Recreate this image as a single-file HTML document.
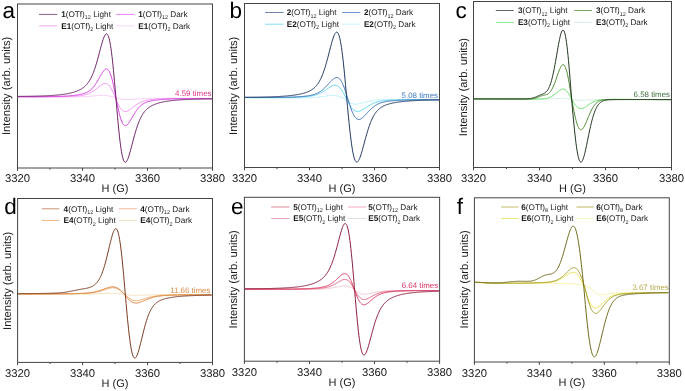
<!DOCTYPE html>
<html><head><meta charset="utf-8"><style>
html,body{margin:0;padding:0;background:#fff;}
svg{display:block;will-change:transform;}
text{font-family:"Liberation Sans", sans-serif;text-rendering:geometricPrecision;}
</style></head><body>
<svg width="685" height="391" viewBox="0 0 685 391">
<rect width="685" height="391" fill="#fff"/>
<clipPath id="clipa"><rect x="17.5" y="4.0" width="195.0" height="164.0"/></clipPath>
<g clip-path="url(#clipa)" fill="none" stroke-linejoin="round">
<path d="M18.00,96.87 L18.50,96.87 L19.00,96.87 L19.50,96.88 L20.00,96.88 L20.50,96.88 L21.00,96.89 L21.50,96.89 L22.00,96.89 L22.50,96.90 L23.00,96.90 L23.50,96.90 L24.00,96.91 L24.50,96.91 L25.00,96.91 L25.50,96.92 L26.00,96.92 L26.50,96.92 L27.00,96.93 L27.50,96.93 L28.00,96.93 L28.50,96.93 L29.00,96.94 L29.50,96.94 L30.00,96.94 L30.50,96.95 L31.00,96.95 L31.50,96.95 L32.00,96.96 L32.50,96.96 L33.00,96.96 L33.50,96.96 L34.00,96.97 L34.50,96.97 L35.00,96.97 L35.50,96.97 L36.00,96.98 L36.50,96.98 L37.00,96.98 L37.50,96.99 L38.00,96.99 L38.50,96.99 L39.00,96.99 L39.50,97.00 L40.00,97.00 L40.50,97.00 L41.00,97.00 L41.50,97.01 L42.00,97.01 L42.50,97.01 L43.00,97.01 L43.50,97.02 L44.00,97.02 L44.50,97.02 L45.00,97.02 L45.50,97.02 L46.00,97.03 L46.50,97.03 L47.00,97.03 L47.50,97.03 L48.00,97.03 L48.50,97.04 L49.00,97.04 L49.50,97.04 L50.00,97.04 L50.50,97.04 L51.00,97.04 L51.50,97.05 L52.00,97.05 L52.50,97.05 L53.00,97.05 L53.50,97.05 L54.00,97.05 L54.50,97.05 L55.00,97.05 L55.50,97.05 L56.00,97.06 L56.50,97.06 L57.00,97.06 L57.50,97.06 L58.00,97.06 L58.50,97.06 L59.00,97.06 L59.50,97.06 L60.00,97.06 L60.50,97.06 L61.00,97.06 L61.50,97.06 L62.00,97.06 L62.50,97.06 L63.00,97.06 L63.50,97.06 L64.00,97.05 L64.50,97.05 L65.00,97.05 L65.50,97.05 L66.00,97.05 L66.50,97.05 L67.00,97.04 L67.50,97.04 L68.00,97.04 L68.50,97.04 L69.00,97.03 L69.50,97.03 L70.00,97.03 L70.50,97.02 L71.00,97.02 L71.50,97.01 L72.00,97.01 L72.50,97.00 L73.00,97.00 L73.50,96.99 L74.00,96.99 L74.50,96.98 L75.00,96.97 L75.50,96.96 L76.00,96.95 L76.50,96.94 L77.00,96.93 L77.50,96.92 L78.00,96.91 L78.50,96.90 L79.00,96.88 L79.50,96.87 L80.00,96.86 L80.50,96.84 L81.00,96.82 L81.50,96.80 L82.00,96.78 L82.50,96.76 L83.00,96.74 L83.50,96.72 L84.00,96.70 L84.50,96.67 L85.00,96.64 L85.50,96.61 L86.00,96.58 L86.50,96.55 L87.00,96.52 L87.50,96.49 L88.00,96.45 L88.50,96.41 L89.00,96.38 L89.50,96.34 L90.00,96.30 L90.50,96.25 L91.00,96.21 L91.50,96.17 L92.00,96.12 L92.50,96.08 L93.00,96.03 L93.50,95.98 L94.00,95.93 L94.50,95.89 L95.00,95.84 L95.50,95.79 L96.00,95.75 L96.50,95.70 L97.00,95.66 L97.50,95.61 L98.00,95.57 L98.50,95.53 L99.00,95.50 L99.50,95.47 L100.00,95.44 L100.50,95.41 L101.00,95.39 L101.50,95.37 L102.00,95.36 L102.50,95.36 L103.00,95.36 L103.50,95.36 L104.00,95.38 L104.50,95.40 L105.00,95.43 L105.50,95.47 L106.00,95.51 L106.50,95.56 L107.00,95.63 L107.50,95.70 L108.00,95.78 L108.50,95.87 L109.00,95.96 L109.50,96.07 L110.00,96.18 L110.50,96.31 L111.00,96.43 L111.50,96.57 L112.00,96.71 L112.50,96.86 L113.00,97.01 L113.50,97.17 L114.00,97.33 L114.50,97.49 L115.00,97.65 L115.50,97.78 L116.00,97.92 L116.50,98.05 L117.00,98.17 L117.50,98.30 L118.00,98.42 L118.50,98.54 L119.00,98.65 L119.50,98.76 L120.00,98.86 L120.50,98.95 L121.00,99.04 L121.50,99.12 L122.00,99.19 L122.50,99.26 L123.00,99.32 L123.50,99.37 L124.00,99.41 L124.50,99.45 L125.00,99.48 L125.50,99.51 L126.00,99.52 L126.50,99.54 L127.00,99.54 L127.50,99.54 L128.00,99.54 L128.50,99.53 L129.00,99.52 L129.50,99.50 L130.00,99.48 L130.50,99.46 L131.00,99.43 L131.50,99.40 L132.00,99.37 L132.50,99.34 L133.00,99.31 L133.50,99.27 L134.00,99.23 L134.50,99.20 L135.00,99.16 L135.50,99.12 L136.00,99.08 L136.50,99.05 L137.00,99.01 L137.50,98.97 L138.00,98.93 L138.50,98.90 L139.00,98.86 L139.50,98.83 L140.00,98.79 L140.50,98.76 L141.00,98.73 L141.50,98.70 L142.00,98.67 L142.50,98.64 L143.00,98.61 L143.50,98.59 L144.00,98.56 L144.50,98.54 L145.00,98.52 L145.50,98.49 L146.00,98.47 L146.50,98.46 L147.00,98.44 L147.50,98.42 L148.00,98.40 L148.50,98.39 L149.00,98.37 L149.50,98.36 L150.00,98.35 L150.50,98.34 L151.00,98.33 L151.50,98.32 L152.00,98.31 L152.50,98.30 L153.00,98.29 L153.50,98.28 L154.00,98.27 L154.50,98.27 L155.00,98.26 L155.50,98.26 L156.00,98.25 L156.50,98.25 L157.00,98.24 L157.50,98.24 L158.00,98.23 L158.50,98.23 L159.00,98.23 L159.50,98.23 L160.00,98.22 L160.50,98.22 L161.00,98.22 L161.50,98.22 L162.00,98.21 L162.50,98.21 L163.00,98.21 L163.50,98.21 L164.00,98.21 L164.50,98.21 L165.00,98.21 L165.50,98.21 L166.00,98.21 L166.50,98.21 L167.00,98.21 L167.50,98.21 L168.00,98.21 L168.50,98.21 L169.00,98.21 L169.50,98.21 L170.00,98.21 L170.50,98.21 L171.00,98.21 L171.50,98.21 L172.00,98.21 L172.50,98.22 L173.00,98.22 L173.50,98.22 L174.00,98.22 L174.50,98.22 L175.00,98.22 L175.50,98.22 L176.00,98.22 L176.50,98.23 L177.00,98.23 L177.50,98.23 L178.00,98.23 L178.50,98.23 L179.00,98.24 L179.50,98.24 L180.00,98.24 L180.50,98.24 L181.00,98.24 L181.50,98.25 L182.00,98.25 L182.50,98.25 L183.00,98.25 L183.50,98.25 L184.00,98.26 L184.50,98.26 L185.00,98.26 L185.50,98.26 L186.00,98.27 L186.50,98.27 L187.00,98.27 L187.50,98.27 L188.00,98.28 L188.50,98.28 L189.00,98.28 L189.50,98.29 L190.00,98.29 L190.50,98.29 L191.00,98.29 L191.50,98.30 L192.00,98.30 L192.50,98.30 L193.00,98.30 L193.50,98.31 L194.00,98.31 L194.50,98.31 L195.00,98.32 L195.50,98.32 L196.00,98.32 L196.50,98.33 L197.00,98.33 L197.50,98.33 L198.00,98.33 L198.50,98.34 L199.00,98.34 L199.50,98.34 L200.00,98.35 L200.50,98.35 L201.00,98.35 L201.50,98.36 L202.00,98.36 L202.50,98.36 L203.00,98.37 L203.50,98.37 L204.00,98.37 L204.50,98.38 L205.00,98.38 L205.50,98.38 L206.00,98.39 L206.50,98.39 L207.00,98.39 L207.50,98.40 L208.00,98.40 L208.50,98.40 L209.00,98.41 L209.50,98.41 L210.00,98.41 L210.50,98.42 L211.00,98.42 L211.50,98.42 L212.00,98.43" stroke="#f7c6f8" stroke-width="1"/>
<path d="M18.00,96.79 L18.50,96.79 L19.00,96.79 L19.50,96.79 L20.00,96.80 L20.50,96.80 L21.00,96.80 L21.50,96.80 L22.00,96.80 L22.50,96.81 L23.00,96.81 L23.50,96.81 L24.00,96.81 L24.50,96.81 L25.00,96.81 L25.50,96.82 L26.00,96.82 L26.50,96.82 L27.00,96.82 L27.50,96.82 L28.00,96.82 L28.50,96.82 L29.00,96.83 L29.50,96.83 L30.00,96.83 L30.50,96.83 L31.00,96.83 L31.50,96.83 L32.00,96.83 L32.50,96.83 L33.00,96.83 L33.50,96.83 L34.00,96.83 L34.50,96.83 L35.00,96.83 L35.50,96.83 L36.00,96.83 L36.50,96.83 L37.00,96.83 L37.50,96.83 L38.00,96.83 L38.50,96.83 L39.00,96.83 L39.50,96.83 L40.00,96.83 L40.50,96.83 L41.00,96.83 L41.50,96.83 L42.00,96.83 L42.50,96.83 L43.00,96.83 L43.50,96.83 L44.00,96.82 L44.50,96.82 L45.00,96.82 L45.50,96.82 L46.00,96.82 L46.50,96.81 L47.00,96.81 L47.50,96.81 L48.00,96.81 L48.50,96.80 L49.00,96.80 L49.50,96.80 L50.00,96.79 L50.50,96.79 L51.00,96.79 L51.50,96.78 L52.00,96.78 L52.50,96.77 L53.00,96.77 L53.50,96.76 L54.00,96.76 L54.50,96.75 L55.00,96.75 L55.50,96.74 L56.00,96.73 L56.50,96.73 L57.00,96.72 L57.50,96.71 L58.00,96.70 L58.50,96.70 L59.00,96.69 L59.50,96.68 L60.00,96.67 L60.50,96.66 L61.00,96.65 L61.50,96.64 L62.00,96.63 L62.50,96.62 L63.00,96.61 L63.50,96.59 L64.00,96.58 L64.50,96.57 L65.00,96.55 L65.50,96.54 L66.00,96.52 L66.50,96.51 L67.00,96.49 L67.50,96.47 L68.00,96.45 L68.50,96.43 L69.00,96.41 L69.50,96.39 L70.00,96.37 L70.50,96.35 L71.00,96.33 L71.50,96.30 L72.00,96.28 L72.50,96.25 L73.00,96.22 L73.50,96.19 L74.00,96.16 L74.50,96.13 L75.00,96.09 L75.50,96.06 L76.00,96.02 L76.50,95.98 L77.00,95.93 L77.50,95.89 L78.00,95.84 L78.50,95.79 L79.00,95.74 L79.50,95.68 L80.00,95.62 L80.50,95.56 L81.00,95.49 L81.50,95.42 L82.00,95.34 L82.50,95.25 L83.00,95.17 L83.50,95.07 L84.00,94.97 L84.50,94.86 L85.00,94.74 L85.50,94.61 L86.00,94.48 L86.50,94.33 L87.00,94.18 L87.50,94.01 L88.00,93.83 L88.50,93.64 L89.00,93.44 L89.50,93.23 L90.00,93.00 L90.50,92.76 L91.00,92.50 L91.50,92.23 L92.00,91.94 L92.50,91.64 L93.00,91.32 L93.50,90.99 L94.00,90.65 L94.50,90.29 L95.00,89.92 L95.50,89.54 L96.00,89.15 L96.50,88.75 L97.00,88.34 L97.50,87.93 L98.00,87.51 L98.50,87.10 L99.00,86.69 L99.50,86.28 L100.00,85.89 L100.50,85.50 L101.00,85.14 L101.50,84.79 L102.00,84.48 L102.50,84.19 L103.00,83.94 L103.50,83.73 L104.00,83.56 L104.50,83.45 L105.00,83.38 L105.50,83.38 L106.00,83.44 L106.50,83.57 L107.00,83.77 L107.50,84.05 L108.00,84.41 L108.50,84.84 L109.00,85.35 L109.50,85.95 L110.00,86.63 L110.50,87.38 L111.00,88.21 L111.50,89.12 L112.00,90.09 L112.50,91.12 L113.00,92.21 L113.50,93.34 L114.00,94.51 L114.50,95.71 L115.00,96.92 L115.50,98.13 L116.00,99.32 L116.50,100.50 L117.00,101.65 L117.50,102.76 L118.00,103.84 L118.50,104.86 L119.00,105.82 L119.50,106.72 L120.00,107.55 L120.50,108.30 L121.00,108.98 L121.50,109.58 L122.00,110.10 L122.50,110.54 L123.00,110.90 L123.50,111.19 L124.00,111.40 L124.50,111.54 L125.00,111.62 L125.50,111.63 L126.00,111.58 L126.50,111.47 L127.00,111.32 L127.50,111.12 L128.00,110.88 L128.50,110.61 L129.00,110.30 L129.50,109.97 L130.00,109.62 L130.50,109.25 L131.00,108.86 L131.50,108.47 L132.00,108.07 L132.50,107.66 L133.00,107.26 L133.50,106.85 L134.00,106.45 L134.50,106.06 L135.00,105.67 L135.50,105.30 L136.00,104.93 L136.50,104.58 L137.00,104.24 L137.50,103.91 L138.00,103.60 L138.50,103.30 L139.00,103.02 L139.50,102.75 L140.00,102.50 L140.50,102.26 L141.00,102.03 L141.50,101.82 L142.00,101.62 L142.50,101.43 L143.00,101.25 L143.50,101.09 L144.00,100.94 L144.50,100.79 L145.00,100.66 L145.50,100.53 L146.00,100.42 L146.50,100.31 L147.00,100.21 L147.50,100.11 L148.00,100.02 L148.50,99.94 L149.00,99.86 L149.50,99.79 L150.00,99.72 L150.50,99.66 L151.00,99.60 L151.50,99.54 L152.00,99.49 L152.50,99.44 L153.00,99.39 L153.50,99.35 L154.00,99.31 L154.50,99.27 L155.00,99.23 L155.50,99.19 L156.00,99.16 L156.50,99.13 L157.00,99.10 L157.50,99.07 L158.00,99.04 L158.50,99.01 L159.00,98.99 L159.50,98.96 L160.00,98.94 L160.50,98.92 L161.00,98.90 L161.50,98.88 L162.00,98.86 L162.50,98.84 L163.00,98.82 L163.50,98.80 L164.00,98.79 L164.50,98.77 L165.00,98.76 L165.50,98.74 L166.00,98.73 L166.50,98.71 L167.00,98.70 L167.50,98.69 L168.00,98.68 L168.50,98.67 L169.00,98.65 L169.50,98.64 L170.00,98.63 L170.50,98.62 L171.00,98.62 L171.50,98.61 L172.00,98.60 L172.50,98.59 L173.00,98.58 L173.50,98.58 L174.00,98.57 L174.50,98.56 L175.00,98.56 L175.50,98.55 L176.00,98.54 L176.50,98.54 L177.00,98.53 L177.50,98.53 L178.00,98.52 L178.50,98.52 L179.00,98.52 L179.50,98.51 L180.00,98.51 L180.50,98.50 L181.00,98.50 L181.50,98.50 L182.00,98.49 L182.50,98.49 L183.00,98.49 L183.50,98.49 L184.00,98.48 L184.50,98.48 L185.00,98.48 L185.50,98.48 L186.00,98.48 L186.50,98.47 L187.00,98.47 L187.50,98.47 L188.00,98.47 L188.50,98.47 L189.00,98.47 L189.50,98.47 L190.00,98.47 L190.50,98.47 L191.00,98.47 L191.50,98.47 L192.00,98.47 L192.50,98.47 L193.00,98.47 L193.50,98.47 L194.00,98.47 L194.50,98.47 L195.00,98.47 L195.50,98.47 L196.00,98.47 L196.50,98.47 L197.00,98.47 L197.50,98.47 L198.00,98.47 L198.50,98.47 L199.00,98.47 L199.50,98.47 L200.00,98.47 L200.50,98.47 L201.00,98.47 L201.50,98.48 L202.00,98.48 L202.50,98.48 L203.00,98.48 L203.50,98.48 L204.00,98.48 L204.50,98.48 L205.00,98.49 L205.50,98.49 L206.00,98.49 L206.50,98.49 L207.00,98.49 L207.50,98.49 L208.00,98.50 L208.50,98.50 L209.00,98.50 L209.50,98.50 L210.00,98.50 L210.50,98.51 L211.00,98.51 L211.50,98.51 L212.00,98.51" stroke="#f28cf4" stroke-width="1"/>
<path d="M18.00,96.71 L18.50,96.71 L19.00,96.71 L19.50,96.71 L20.00,96.71 L20.50,96.72 L21.00,96.72 L21.50,96.72 L22.00,96.72 L22.50,96.72 L23.00,96.72 L23.50,96.72 L24.00,96.72 L24.50,96.72 L25.00,96.72 L25.50,96.72 L26.00,96.72 L26.50,96.72 L27.00,96.72 L27.50,96.72 L28.00,96.72 L28.50,96.72 L29.00,96.72 L29.50,96.72 L30.00,96.72 L30.50,96.71 L31.00,96.71 L31.50,96.71 L32.00,96.71 L32.50,96.71 L33.00,96.71 L33.50,96.71 L34.00,96.71 L34.50,96.70 L35.00,96.70 L35.50,96.70 L36.00,96.70 L36.50,96.70 L37.00,96.69 L37.50,96.69 L38.00,96.69 L38.50,96.68 L39.00,96.68 L39.50,96.68 L40.00,96.67 L40.50,96.67 L41.00,96.67 L41.50,96.66 L42.00,96.66 L42.50,96.65 L43.00,96.65 L43.50,96.64 L44.00,96.64 L44.50,96.63 L45.00,96.63 L45.50,96.62 L46.00,96.62 L46.50,96.61 L47.00,96.60 L47.50,96.60 L48.00,96.59 L48.50,96.58 L49.00,96.57 L49.50,96.57 L50.00,96.56 L50.50,96.55 L51.00,96.54 L51.50,96.53 L52.00,96.52 L52.50,96.51 L53.00,96.50 L53.50,96.49 L54.00,96.48 L54.50,96.47 L55.00,96.45 L55.50,96.44 L56.00,96.43 L56.50,96.41 L57.00,96.40 L57.50,96.38 L58.00,96.37 L58.50,96.35 L59.00,96.33 L59.50,96.32 L60.00,96.30 L60.50,96.28 L61.00,96.26 L61.50,96.24 L62.00,96.22 L62.50,96.20 L63.00,96.18 L63.50,96.15 L64.00,96.13 L64.50,96.10 L65.00,96.08 L65.50,96.05 L66.00,96.02 L66.50,95.99 L67.00,95.96 L67.50,95.93 L68.00,95.89 L68.50,95.86 L69.00,95.82 L69.50,95.79 L70.00,95.75 L70.50,95.71 L71.00,95.66 L71.50,95.62 L72.00,95.58 L72.50,95.53 L73.00,95.48 L73.50,95.43 L74.00,95.37 L74.50,95.32 L75.00,95.26 L75.50,95.20 L76.00,95.13 L76.50,95.06 L77.00,94.99 L77.50,94.92 L78.00,94.84 L78.50,94.76 L79.00,94.67 L79.50,94.58 L80.00,94.48 L80.50,94.38 L81.00,94.27 L81.50,94.16 L82.00,94.04 L82.50,93.91 L83.00,93.77 L83.50,93.62 L84.00,93.46 L84.50,93.29 L85.00,93.11 L85.50,92.91 L86.00,92.70 L86.50,92.48 L87.00,92.24 L87.50,91.98 L88.00,91.70 L88.50,91.40 L89.00,91.07 L89.50,90.73 L90.00,90.35 L90.50,89.95 L91.00,89.53 L91.50,89.07 L92.00,88.58 L92.50,88.06 L93.00,87.51 L93.50,86.92 L94.00,86.30 L94.50,85.65 L95.00,84.96 L95.50,84.24 L96.00,83.49 L96.50,82.71 L97.00,81.90 L97.50,81.07 L98.00,80.21 L98.50,79.34 L99.00,78.45 L99.50,77.55 L100.00,76.66 L100.50,75.77 L101.00,74.89 L101.50,74.03 L102.00,73.21 L102.50,72.42 L103.00,71.68 L103.50,71.01 L104.00,70.40 L104.50,69.89 L105.00,69.46 L105.50,69.15 L106.00,68.95 L106.50,68.88 L107.00,68.96 L107.50,69.19 L108.00,69.58 L108.50,70.14 L109.00,70.88 L109.50,71.80 L110.00,72.91 L110.50,74.20 L111.00,75.67 L111.50,77.33 L112.00,79.15 L112.50,81.14 L113.00,83.28 L113.50,85.55 L114.00,87.94 L114.50,90.42 L115.00,92.97 L115.50,95.56 L116.00,98.17 L116.50,100.71 L117.00,103.21 L117.50,105.67 L118.00,108.05 L118.50,110.32 L119.00,112.48 L119.50,114.50 L120.00,116.38 L120.50,118.09 L121.00,119.63 L121.50,120.99 L122.00,122.17 L122.50,123.17 L123.00,124.00 L123.50,124.64 L124.00,125.12 L124.50,125.44 L125.00,125.60 L125.50,125.62 L126.00,125.50 L126.50,125.27 L127.00,124.92 L127.50,124.47 L128.00,123.93 L128.50,123.31 L129.00,122.63 L129.50,121.89 L130.00,121.11 L130.50,120.30 L131.00,119.45 L131.50,118.59 L132.00,117.73 L132.50,116.85 L133.00,115.99 L133.50,115.13 L134.00,114.29 L134.50,113.46 L135.00,112.66 L135.50,111.88 L136.00,111.13 L136.50,110.42 L137.00,109.73 L137.50,109.07 L138.00,108.45 L138.50,107.86 L139.00,107.31 L139.50,106.78 L140.00,106.29 L140.50,105.83 L141.00,105.40 L141.50,104.99 L142.00,104.61 L142.50,104.26 L143.00,103.93 L143.50,103.63 L144.00,103.34 L144.50,103.08 L145.00,102.84 L145.50,102.61 L146.00,102.39 L146.50,102.20 L147.00,102.01 L147.50,101.84 L148.00,101.68 L148.50,101.53 L149.00,101.39 L149.50,101.26 L150.00,101.14 L150.50,101.02 L151.00,100.91 L151.50,100.81 L152.00,100.71 L152.50,100.62 L153.00,100.53 L153.50,100.45 L154.00,100.37 L154.50,100.30 L155.00,100.23 L155.50,100.16 L156.00,100.10 L156.50,100.03 L157.00,99.98 L157.50,99.92 L158.00,99.87 L158.50,99.81 L159.00,99.76 L159.50,99.72 L160.00,99.67 L160.50,99.63 L161.00,99.59 L161.50,99.55 L162.00,99.51 L162.50,99.47 L163.00,99.44 L163.50,99.40 L164.00,99.37 L164.50,99.34 L165.00,99.31 L165.50,99.28 L166.00,99.25 L166.50,99.22 L167.00,99.20 L167.50,99.17 L168.00,99.15 L168.50,99.12 L169.00,99.10 L169.50,99.08 L170.00,99.06 L170.50,99.04 L171.00,99.02 L171.50,99.00 L172.00,98.98 L172.50,98.96 L173.00,98.95 L173.50,98.93 L174.00,98.92 L174.50,98.90 L175.00,98.89 L175.50,98.87 L176.00,98.86 L176.50,98.85 L177.00,98.84 L177.50,98.82 L178.00,98.81 L178.50,98.80 L179.00,98.79 L179.50,98.78 L180.00,98.77 L180.50,98.76 L181.00,98.75 L181.50,98.74 L182.00,98.74 L182.50,98.73 L183.00,98.72 L183.50,98.71 L184.00,98.71 L184.50,98.70 L185.00,98.69 L185.50,98.69 L186.00,98.68 L186.50,98.67 L187.00,98.67 L187.50,98.66 L188.00,98.66 L188.50,98.65 L189.00,98.65 L189.50,98.65 L190.00,98.64 L190.50,98.64 L191.00,98.63 L191.50,98.63 L192.00,98.63 L192.50,98.62 L193.00,98.62 L193.50,98.62 L194.00,98.62 L194.50,98.61 L195.00,98.61 L195.50,98.61 L196.00,98.61 L196.50,98.60 L197.00,98.60 L197.50,98.60 L198.00,98.60 L198.50,98.60 L199.00,98.60 L199.50,98.59 L200.00,98.59 L200.50,98.59 L201.00,98.59 L201.50,98.59 L202.00,98.59 L202.50,98.59 L203.00,98.59 L203.50,98.59 L204.00,98.59 L204.50,98.59 L205.00,98.59 L205.50,98.59 L206.00,98.59 L206.50,98.59 L207.00,98.59 L207.50,98.59 L208.00,98.59 L208.50,98.59 L209.00,98.59 L209.50,98.59 L210.00,98.59 L210.50,98.59 L211.00,98.59 L211.50,98.59 L212.00,98.59" stroke="#d23fdc" stroke-width="1"/>
<path d="M18.00,96.39 L18.50,96.39 L19.00,96.38 L19.50,96.38 L20.00,96.37 L20.50,96.37 L21.00,96.37 L21.50,96.36 L22.00,96.36 L22.50,96.35 L23.00,96.35 L23.50,96.34 L24.00,96.33 L24.50,96.33 L25.00,96.32 L25.50,96.32 L26.00,96.31 L26.50,96.30 L27.00,96.30 L27.50,96.29 L28.00,96.28 L28.50,96.27 L29.00,96.26 L29.50,96.26 L30.00,96.25 L30.50,96.24 L31.00,96.23 L31.50,96.22 L32.00,96.21 L32.50,96.20 L33.00,96.19 L33.50,96.18 L34.00,96.17 L34.50,96.16 L35.00,96.15 L35.50,96.14 L36.00,96.12 L36.50,96.11 L37.00,96.10 L37.50,96.08 L38.00,96.07 L38.50,96.06 L39.00,96.04 L39.50,96.03 L40.00,96.01 L40.50,95.99 L41.00,95.98 L41.50,95.96 L42.00,95.94 L42.50,95.92 L43.00,95.90 L43.50,95.89 L44.00,95.87 L44.50,95.84 L45.00,95.82 L45.50,95.80 L46.00,95.78 L46.50,95.76 L47.00,95.73 L47.50,95.71 L48.00,95.68 L48.50,95.66 L49.00,95.63 L49.50,95.60 L50.00,95.57 L50.50,95.54 L51.00,95.51 L51.50,95.48 L52.00,95.45 L52.50,95.41 L53.00,95.38 L53.50,95.34 L54.00,95.30 L54.50,95.27 L55.00,95.23 L55.50,95.19 L56.00,95.14 L56.50,95.10 L57.00,95.06 L57.50,95.01 L58.00,94.96 L58.50,94.91 L59.00,94.86 L59.50,94.81 L60.00,94.75 L60.50,94.70 L61.00,94.64 L61.50,94.58 L62.00,94.51 L62.50,94.45 L63.00,94.38 L63.50,94.31 L64.00,94.24 L64.50,94.17 L65.00,94.09 L65.50,94.01 L66.00,93.93 L66.50,93.84 L67.00,93.75 L67.50,93.66 L68.00,93.57 L68.50,93.47 L69.00,93.37 L69.50,93.26 L70.00,93.15 L70.50,93.04 L71.00,92.92 L71.50,92.80 L72.00,92.67 L72.50,92.54 L73.00,92.40 L73.50,92.25 L74.00,92.11 L74.50,91.95 L75.00,91.79 L75.50,91.62 L76.00,91.44 L76.50,91.26 L77.00,91.07 L77.50,90.87 L78.00,90.66 L78.50,90.44 L79.00,90.20 L79.50,89.96 L80.00,89.71 L80.50,89.44 L81.00,89.16 L81.50,88.86 L82.00,88.55 L82.50,88.22 L83.00,87.86 L83.50,87.49 L84.00,87.10 L84.50,86.68 L85.00,86.23 L85.50,85.76 L86.00,85.26 L86.50,84.72 L87.00,84.14 L87.50,83.53 L88.00,82.88 L88.50,82.19 L89.00,81.44 L89.50,80.65 L90.00,79.81 L90.50,78.91 L91.00,77.96 L91.50,76.94 L92.00,75.87 L92.50,74.73 L93.00,73.52 L93.50,72.24 L94.00,70.90 L94.50,69.49 L95.00,68.02 L95.50,66.47 L96.00,64.87 L96.50,63.20 L97.00,61.48 L97.50,59.70 L98.00,57.88 L98.50,56.03 L99.00,54.15 L99.50,52.25 L100.00,50.36 L100.50,48.47 L101.00,46.61 L101.50,44.79 L102.00,43.03 L102.50,41.36 L103.00,39.79 L103.50,38.35 L104.00,37.06 L104.50,35.95 L105.00,35.04 L105.50,34.36 L106.00,33.93 L106.50,33.78 L107.00,33.95 L107.50,34.44 L108.00,35.28 L108.50,36.50 L109.00,38.11 L109.50,40.13 L110.00,42.55 L110.50,45.39 L111.00,48.65 L111.50,52.31 L112.00,56.36 L112.50,60.77 L113.00,65.53 L113.50,70.60 L114.00,75.92 L114.50,81.46 L115.00,87.16 L115.50,92.97 L116.00,98.84 L116.50,104.76 L117.00,110.61 L117.50,116.32 L118.00,121.85 L118.50,127.14 L119.00,132.15 L119.50,136.83 L120.00,141.16 L120.50,145.11 L121.00,148.65 L121.50,151.78 L122.00,154.49 L122.50,156.77 L123.00,158.65 L123.50,160.12 L124.00,161.20 L124.50,161.91 L125.00,162.27 L125.50,162.31 L126.00,162.04 L126.50,161.50 L127.00,160.72 L127.50,159.71 L128.00,158.51 L128.50,157.14 L129.00,155.62 L129.50,153.99 L130.00,152.26 L130.50,150.46 L131.00,148.60 L131.50,146.70 L132.00,144.78 L132.50,142.86 L133.00,140.94 L133.50,139.05 L134.00,137.19 L134.50,135.36 L135.00,133.59 L135.50,131.86 L136.00,130.20 L136.50,128.60 L137.00,127.06 L137.50,125.59 L138.00,124.19 L138.50,122.86 L139.00,121.60 L139.50,120.40 L140.00,119.27 L140.50,118.21 L141.00,117.21 L141.50,116.26 L142.00,115.38 L142.50,114.54 L143.00,113.76 L143.50,113.03 L144.00,112.35 L144.50,111.70 L145.00,111.10 L145.50,110.53 L146.00,110.00 L146.50,109.51 L147.00,109.04 L147.50,108.60 L148.00,108.18 L148.50,107.79 L149.00,107.42 L149.50,107.08 L150.00,106.75 L150.50,106.44 L151.00,106.14 L151.50,105.86 L152.00,105.60 L152.50,105.34 L153.00,105.10 L153.50,104.87 L154.00,104.66 L154.50,104.45 L155.00,104.25 L155.50,104.06 L156.00,103.87 L156.50,103.70 L157.00,103.53 L157.50,103.37 L158.00,103.21 L158.50,103.06 L159.00,102.92 L159.50,102.78 L160.00,102.65 L160.50,102.52 L161.00,102.40 L161.50,102.28 L162.00,102.17 L162.50,102.06 L163.00,101.95 L163.50,101.85 L164.00,101.75 L164.50,101.66 L165.00,101.57 L165.50,101.48 L166.00,101.39 L166.50,101.31 L167.00,101.23 L167.50,101.15 L168.00,101.08 L168.50,101.01 L169.00,100.94 L169.50,100.87 L170.00,100.81 L170.50,100.75 L171.00,100.69 L171.50,100.63 L172.00,100.57 L172.50,100.52 L173.00,100.46 L173.50,100.41 L174.00,100.36 L174.50,100.31 L175.00,100.27 L175.50,100.22 L176.00,100.18 L176.50,100.14 L177.00,100.10 L177.50,100.06 L178.00,100.02 L178.50,99.98 L179.00,99.94 L179.50,99.91 L180.00,99.88 L180.50,99.84 L181.00,99.81 L181.50,99.78 L182.00,99.75 L182.50,99.72 L183.00,99.69 L183.50,99.67 L184.00,99.64 L184.50,99.61 L185.00,99.59 L185.50,99.57 L186.00,99.54 L186.50,99.52 L187.00,99.50 L187.50,99.48 L188.00,99.46 L188.50,99.44 L189.00,99.42 L189.50,99.40 L190.00,99.38 L190.50,99.36 L191.00,99.34 L191.50,99.33 L192.00,99.31 L192.50,99.30 L193.00,99.28 L193.50,99.27 L194.00,99.25 L194.50,99.24 L195.00,99.22 L195.50,99.21 L196.00,99.20 L196.50,99.19 L197.00,99.17 L197.50,99.16 L198.00,99.15 L198.50,99.14 L199.00,99.13 L199.50,99.12 L200.00,99.11 L200.50,99.10 L201.00,99.09 L201.50,99.08 L202.00,99.07 L202.50,99.06 L203.00,99.05 L203.50,99.05 L204.00,99.04 L204.50,99.03 L205.00,99.02 L205.50,99.02 L206.00,99.01 L206.50,99.00 L207.00,99.00 L207.50,98.99 L208.00,98.99 L208.50,98.98 L209.00,98.97 L209.50,98.97 L210.00,98.96 L210.50,98.96 L211.00,98.95 L211.50,98.95 L212.00,98.94" stroke="#6e2367" stroke-width="1"/>
</g>
<rect x="17.5" y="4.0" width="195.0" height="164.0" fill="none" stroke="#444" stroke-width="1"/>
<line x1="17.50" y1="168.0" x2="17.50" y2="170.8" stroke="#444" stroke-width="1"/>
<line x1="50.00" y1="168.0" x2="50.00" y2="169.6" stroke="#444" stroke-width="1"/>
<line x1="82.50" y1="168.0" x2="82.50" y2="170.8" stroke="#444" stroke-width="1"/>
<line x1="115.00" y1="168.0" x2="115.00" y2="169.6" stroke="#444" stroke-width="1"/>
<line x1="147.50" y1="168.0" x2="147.50" y2="170.8" stroke="#444" stroke-width="1"/>
<line x1="180.00" y1="168.0" x2="180.00" y2="169.6" stroke="#444" stroke-width="1"/>
<line x1="212.50" y1="168.0" x2="212.50" y2="170.8" stroke="#444" stroke-width="1"/>
<text x="17.50" y="182.3" font-size="11.3" text-anchor="middle" fill="#1a1a1a">3320</text>
<text x="82.50" y="182.3" font-size="11.3" text-anchor="middle" fill="#1a1a1a">3340</text>
<text x="147.50" y="182.3" font-size="11.3" text-anchor="middle" fill="#1a1a1a">3360</text>
<text x="212.50" y="182.3" font-size="11.3" text-anchor="middle" fill="#1a1a1a">3380</text>
<text x="115.00" y="192.0" font-size="11" text-anchor="middle" fill="#1a1a1a">H (G)</text>
<text transform="translate(9.70,135.00) rotate(-90)" font-size="11.2" fill="#1a1a1a">Intensity (arb. units)</text>
<text x="2.6" y="18.0" font-size="22.5" fill="#000">a</text>
<line x1="39" y1="14.4" x2="57.4" y2="14.4" stroke="#6e2367" stroke-width="1" stroke-opacity="0.75"/>
<text x="61.2" y="17.20" font-size="8.2" fill="#1a1a1a"><tspan font-weight="bold">1</tspan>(OTf)<tspan font-size="5.41" dy="2.2">12</tspan><tspan dy="-2.2"> Light</tspan></text>
<line x1="116.1" y1="14.4" x2="134.5" y2="14.4" stroke="#dc58f4" stroke-width="1" stroke-opacity="0.75"/>
<text x="138.3" y="17.20" font-size="8.2" fill="#1a1a1a"><tspan font-weight="bold">1</tspan>(OTf)<tspan font-size="5.41" dy="2.2">12</tspan><tspan dy="-2.2"> Dark</tspan></text>
<line x1="39" y1="25.9" x2="57.4" y2="25.9" stroke="#f28cf4" stroke-width="1" stroke-opacity="0.75"/>
<text x="61.2" y="28.70" font-size="8.2" fill="#1a1a1a"><tspan font-weight="bold">E1</tspan>(OTf)<tspan font-size="5.41" dy="2.2">2</tspan><tspan dy="-2.2"> Light</tspan></text>
<line x1="116.1" y1="25.9" x2="134.5" y2="25.9" stroke="#f7c6f8" stroke-width="1" stroke-opacity="0.75"/>
<text x="138.3" y="28.70" font-size="8.2" fill="#1a1a1a"><tspan font-weight="bold">E1</tspan>(OTf)<tspan font-size="5.41" dy="2.2">2</tspan><tspan dy="-2.2"> Dark</tspan></text>
<text x="211.5" y="95.5" font-size="7.9" text-anchor="end" fill="#e2358c">4.59 times</text>
<clipPath id="clipb"><rect x="244.5" y="3.5" width="195.0" height="164.0"/></clipPath>
<g clip-path="url(#clipb)" fill="none" stroke-linejoin="round">
<path d="M245.00,97.67 L245.50,97.67 L246.00,97.68 L246.50,97.68 L247.00,97.68 L247.50,97.69 L248.00,97.69 L248.50,97.69 L249.00,97.70 L249.50,97.70 L250.00,97.71 L250.50,97.71 L251.00,97.71 L251.50,97.72 L252.00,97.72 L252.50,97.72 L253.00,97.73 L253.50,97.73 L254.00,97.73 L254.50,97.74 L255.00,97.74 L255.50,97.75 L256.00,97.75 L256.50,97.75 L257.00,97.76 L257.50,97.76 L258.00,97.76 L258.50,97.77 L259.00,97.77 L259.50,97.77 L260.00,97.78 L260.50,97.78 L261.00,97.78 L261.50,97.79 L262.00,97.79 L262.50,97.79 L263.00,97.80 L263.50,97.80 L264.00,97.80 L264.50,97.81 L265.00,97.81 L265.50,97.81 L266.00,97.82 L266.50,97.82 L267.00,97.82 L267.50,97.82 L268.00,97.83 L268.50,97.83 L269.00,97.83 L269.50,97.84 L270.00,97.84 L270.50,97.84 L271.00,97.84 L271.50,97.85 L272.00,97.85 L272.50,97.85 L273.00,97.86 L273.50,97.86 L274.00,97.86 L274.50,97.86 L275.00,97.87 L275.50,97.87 L276.00,97.87 L276.50,97.87 L277.00,97.87 L277.50,97.88 L278.00,97.88 L278.50,97.88 L279.00,97.88 L279.50,97.88 L280.00,97.89 L280.50,97.89 L281.00,97.89 L281.50,97.89 L282.00,97.89 L282.50,97.89 L283.00,97.90 L283.50,97.90 L284.00,97.90 L284.50,97.90 L285.00,97.90 L285.50,97.90 L286.00,97.90 L286.50,97.90 L287.00,97.90 L287.50,97.90 L288.00,97.90 L288.50,97.90 L289.00,97.90 L289.50,97.90 L290.00,97.90 L290.50,97.90 L291.00,97.90 L291.50,97.90 L292.00,97.90 L292.50,97.90 L293.00,97.90 L293.50,97.90 L294.00,97.90 L294.50,97.90 L295.00,97.89 L295.50,97.89 L296.00,97.89 L296.50,97.89 L297.00,97.88 L297.50,97.88 L298.00,97.88 L298.50,97.87 L299.00,97.87 L299.50,97.87 L300.00,97.86 L300.50,97.86 L301.00,97.85 L301.50,97.85 L302.00,97.84 L302.50,97.83 L303.00,97.83 L303.50,97.82 L304.00,97.81 L304.50,97.80 L305.00,97.79 L305.50,97.78 L306.00,97.77 L306.50,97.76 L307.00,97.75 L307.50,97.74 L308.00,97.72 L308.50,97.71 L309.00,97.69 L309.50,97.67 L310.00,97.65 L310.50,97.63 L311.00,97.61 L311.50,97.59 L312.00,97.57 L312.50,97.54 L313.00,97.51 L313.50,97.49 L314.00,97.45 L314.50,97.42 L315.00,97.39 L315.50,97.35 L316.00,97.31 L316.50,97.27 L317.00,97.23 L317.50,97.18 L318.00,97.13 L318.50,97.08 L319.00,97.03 L319.50,96.97 L320.00,96.92 L320.50,96.86 L321.00,96.79 L321.50,96.73 L322.00,96.66 L322.50,96.60 L323.00,96.53 L323.50,96.46 L324.00,96.39 L324.50,96.32 L325.00,96.24 L325.50,96.17 L326.00,96.10 L326.50,96.03 L327.00,95.96 L327.50,95.89 L328.00,95.83 L328.50,95.77 L329.00,95.71 L329.50,95.66 L330.00,95.61 L330.50,95.57 L331.00,95.53 L331.50,95.50 L332.00,95.48 L332.50,95.47 L333.00,95.47 L333.50,95.48 L334.00,95.50 L334.50,95.54 L335.00,95.58 L335.50,95.64 L336.00,95.71 L336.50,95.80 L337.00,95.90 L337.50,96.01 L338.00,96.14 L338.50,96.28 L339.00,96.44 L339.50,96.61 L340.00,96.79 L340.50,96.99 L341.00,97.19 L341.50,97.40 L342.00,97.63 L342.50,97.86 L343.00,98.09 L343.50,98.33 L344.00,98.57 L344.50,99.00 L345.00,99.43 L345.50,99.86 L346.00,100.28 L346.50,100.68 L347.00,101.07 L347.50,101.44 L348.00,101.79 L348.50,102.12 L349.00,102.43 L349.50,102.72 L350.00,102.97 L350.50,103.21 L351.00,103.41 L351.50,103.59 L352.00,103.75 L352.50,103.87 L353.00,103.98 L353.50,104.06 L354.00,104.11 L354.50,104.15 L355.00,104.16 L355.50,104.16 L356.00,104.14 L356.50,104.10 L357.00,104.04 L357.50,103.97 L358.00,103.89 L358.50,103.80 L359.00,103.70 L359.50,103.59 L360.00,103.47 L360.50,103.35 L361.00,103.22 L361.50,103.09 L362.00,102.96 L362.50,102.83 L363.00,102.69 L363.50,102.55 L364.00,102.42 L364.50,102.29 L365.00,102.15 L365.50,102.02 L366.00,101.90 L366.50,101.77 L367.00,101.65 L367.50,101.53 L368.00,101.42 L368.50,101.31 L369.00,101.21 L369.50,101.11 L370.00,101.01 L370.50,100.92 L371.00,100.83 L371.50,100.75 L372.00,100.67 L372.50,100.59 L373.00,100.52 L373.50,100.45 L374.00,100.39 L374.50,100.33 L375.00,100.27 L375.50,100.22 L376.00,100.17 L376.50,100.12 L377.00,100.08 L377.50,100.03 L378.00,99.99 L378.50,99.96 L379.00,99.92 L379.50,99.89 L380.00,99.86 L380.50,99.83 L381.00,99.80 L381.50,99.77 L382.00,99.75 L382.50,99.73 L383.00,99.70 L383.50,99.68 L384.00,99.66 L384.50,99.64 L385.00,99.63 L385.50,99.61 L386.00,99.60 L386.50,99.58 L387.00,99.57 L387.50,99.55 L388.00,99.54 L388.50,99.53 L389.00,99.52 L389.50,99.51 L390.00,99.50 L390.50,99.49 L391.00,99.48 L391.50,99.47 L392.00,99.46 L392.50,99.45 L393.00,99.45 L393.50,99.44 L394.00,99.43 L394.50,99.43 L395.00,99.42 L395.50,99.41 L396.00,99.41 L396.50,99.40 L397.00,99.40 L397.50,99.40 L398.00,99.39 L398.50,99.39 L399.00,99.38 L399.50,99.38 L400.00,99.38 L400.50,99.37 L401.00,99.37 L401.50,99.37 L402.00,99.37 L402.50,99.36 L403.00,99.36 L403.50,99.36 L404.00,99.36 L404.50,99.36 L405.00,99.36 L405.50,99.36 L406.00,99.35 L406.50,99.35 L407.00,99.35 L407.50,99.35 L408.00,99.35 L408.50,99.35 L409.00,99.35 L409.50,99.35 L410.00,99.35 L410.50,99.35 L411.00,99.35 L411.50,99.35 L412.00,99.35 L412.50,99.35 L413.00,99.35 L413.50,99.35 L414.00,99.36 L414.50,99.36 L415.00,99.36 L415.50,99.36 L416.00,99.36 L416.50,99.36 L417.00,99.36 L417.50,99.36 L418.00,99.37 L418.50,99.37 L419.00,99.37 L419.50,99.37 L420.00,99.37 L420.50,99.37 L421.00,99.38 L421.50,99.38 L422.00,99.38 L422.50,99.38 L423.00,99.38 L423.50,99.39 L424.00,99.39 L424.50,99.39 L425.00,99.39 L425.50,99.39 L426.00,99.40 L426.50,99.40 L427.00,99.40 L427.50,99.40 L428.00,99.41 L428.50,99.41 L429.00,99.41 L429.50,99.41 L430.00,99.42 L430.50,99.42 L431.00,99.42 L431.50,99.43 L432.00,99.43 L432.50,99.43 L433.00,99.43 L433.50,99.44 L434.00,99.44 L434.50,99.44 L435.00,99.45 L435.50,99.45 L436.00,99.45 L436.50,99.46 L437.00,99.46 L437.50,99.46 L438.00,99.46 L438.50,99.47 L439.00,99.47" stroke="#b4eef8" stroke-width="1"/>
<path d="M245.00,97.57 L245.50,97.57 L246.00,97.58 L246.50,97.58 L247.00,97.58 L247.50,97.58 L248.00,97.59 L248.50,97.59 L249.00,97.59 L249.50,97.59 L250.00,97.59 L250.50,97.60 L251.00,97.60 L251.50,97.60 L252.00,97.60 L252.50,97.60 L253.00,97.61 L253.50,97.61 L254.00,97.61 L254.50,97.61 L255.00,97.61 L255.50,97.61 L256.00,97.62 L256.50,97.62 L257.00,97.62 L257.50,97.62 L258.00,97.62 L258.50,97.62 L259.00,97.62 L259.50,97.62 L260.00,97.63 L260.50,97.63 L261.00,97.63 L261.50,97.63 L262.00,97.63 L262.50,97.63 L263.00,97.63 L263.50,97.63 L264.00,97.63 L264.50,97.63 L265.00,97.63 L265.50,97.63 L266.00,97.63 L266.50,97.63 L267.00,97.63 L267.50,97.63 L268.00,97.63 L268.50,97.63 L269.00,97.63 L269.50,97.63 L270.00,97.63 L270.50,97.63 L271.00,97.63 L271.50,97.62 L272.00,97.62 L272.50,97.62 L273.00,97.62 L273.50,97.62 L274.00,97.62 L274.50,97.61 L275.00,97.61 L275.50,97.61 L276.00,97.61 L276.50,97.60 L277.00,97.60 L277.50,97.60 L278.00,97.59 L278.50,97.59 L279.00,97.59 L279.50,97.58 L280.00,97.58 L280.50,97.57 L281.00,97.57 L281.50,97.56 L282.00,97.56 L282.50,97.55 L283.00,97.55 L283.50,97.54 L284.00,97.53 L284.50,97.53 L285.00,97.52 L285.50,97.51 L286.00,97.51 L286.50,97.50 L287.00,97.49 L287.50,97.48 L288.00,97.47 L288.50,97.46 L289.00,97.45 L289.50,97.44 L290.00,97.43 L290.50,97.42 L291.00,97.41 L291.50,97.40 L292.00,97.38 L292.50,97.37 L293.00,97.36 L293.50,97.34 L294.00,97.33 L294.50,97.31 L295.00,97.30 L295.50,97.28 L296.00,97.26 L296.50,97.25 L297.00,97.23 L297.50,97.21 L298.00,97.19 L298.50,97.16 L299.00,97.14 L299.50,97.12 L300.00,97.09 L300.50,97.07 L301.00,97.04 L301.50,97.01 L302.00,96.98 L302.50,96.95 L303.00,96.92 L303.50,96.88 L304.00,96.85 L304.50,96.81 L305.00,96.77 L305.50,96.73 L306.00,96.68 L306.50,96.63 L307.00,96.58 L307.50,96.53 L308.00,96.47 L308.50,96.41 L309.00,96.35 L309.50,96.28 L310.00,96.21 L310.50,96.13 L311.00,96.05 L311.50,95.96 L312.00,95.87 L312.50,95.77 L313.00,95.67 L313.50,95.56 L314.00,95.44 L314.50,95.31 L315.00,95.18 L315.50,95.03 L316.00,94.88 L316.50,94.72 L317.00,94.55 L317.50,94.37 L318.00,94.18 L318.50,93.98 L319.00,93.77 L319.50,93.55 L320.00,93.32 L320.50,93.07 L321.00,92.82 L321.50,92.55 L322.00,92.28 L322.50,91.99 L323.00,91.69 L323.50,91.39 L324.00,91.07 L324.50,90.75 L325.00,90.42 L325.50,90.09 L326.00,89.75 L326.50,89.41 L327.00,89.06 L327.50,88.72 L328.00,88.38 L328.50,88.04 L329.00,87.72 L329.50,87.39 L330.00,87.09 L330.50,86.79 L331.00,86.51 L331.50,86.26 L332.00,86.02 L332.50,85.82 L333.00,85.64 L333.50,85.50 L334.00,85.39 L334.50,85.32 L335.00,85.29 L335.50,85.31 L336.00,85.38 L336.50,85.49 L337.00,85.66 L337.50,85.89 L338.00,86.17 L338.50,86.52 L339.00,86.92 L339.50,87.38 L340.00,87.91 L340.50,88.49 L341.00,89.13 L341.50,89.83 L342.00,90.58 L342.50,91.38 L343.00,92.22 L343.50,93.11 L344.00,94.04 L344.50,94.99 L345.00,95.97 L345.50,96.97 L346.00,97.98 L346.50,98.98 L347.00,99.95 L347.50,100.91 L348.00,101.86 L348.50,102.79 L349.00,103.68 L349.50,104.54 L350.00,105.37 L350.50,106.15 L351.00,106.88 L351.50,107.56 L352.00,108.19 L352.50,108.76 L353.00,109.27 L353.50,109.73 L354.00,110.13 L354.50,110.47 L355.00,110.76 L355.50,110.99 L356.00,111.16 L356.50,111.28 L357.00,111.36 L357.50,111.39 L358.00,111.37 L358.50,111.31 L359.00,111.21 L359.50,111.08 L360.00,110.91 L360.50,110.72 L361.00,110.50 L361.50,110.26 L362.00,110.00 L362.50,109.72 L363.00,109.42 L363.50,109.12 L364.00,108.80 L364.50,108.48 L365.00,108.15 L365.50,107.82 L366.00,107.49 L366.50,107.16 L367.00,106.84 L367.50,106.51 L368.00,106.20 L368.50,105.89 L369.00,105.58 L369.50,105.29 L370.00,105.00 L370.50,104.72 L371.00,104.46 L371.50,104.20 L372.00,103.95 L372.50,103.71 L373.00,103.49 L373.50,103.27 L374.00,103.07 L374.50,102.87 L375.00,102.69 L375.50,102.51 L376.00,102.35 L376.50,102.19 L377.00,102.05 L377.50,101.91 L378.00,101.78 L378.50,101.65 L379.00,101.54 L379.50,101.43 L380.00,101.33 L380.50,101.23 L381.00,101.14 L381.50,101.06 L382.00,100.98 L382.50,100.90 L383.00,100.83 L383.50,100.77 L384.00,100.70 L384.50,100.65 L385.00,100.59 L385.50,100.54 L386.00,100.49 L386.50,100.44 L387.00,100.40 L387.50,100.36 L388.00,100.32 L388.50,100.28 L389.00,100.25 L389.50,100.21 L390.00,100.18 L390.50,100.15 L391.00,100.12 L391.50,100.10 L392.00,100.07 L392.50,100.05 L393.00,100.02 L393.50,100.00 L394.00,99.98 L394.50,99.96 L395.00,99.94 L395.50,99.92 L396.00,99.90 L396.50,99.88 L397.00,99.86 L397.50,99.85 L398.00,99.83 L398.50,99.82 L399.00,99.80 L399.50,99.79 L400.00,99.78 L400.50,99.76 L401.00,99.75 L401.50,99.74 L402.00,99.73 L402.50,99.72 L403.00,99.71 L403.50,99.70 L404.00,99.69 L404.50,99.68 L405.00,99.67 L405.50,99.66 L406.00,99.66 L406.50,99.65 L407.00,99.64 L407.50,99.64 L408.00,99.63 L408.50,99.62 L409.00,99.62 L409.50,99.61 L410.00,99.61 L410.50,99.60 L411.00,99.60 L411.50,99.59 L412.00,99.59 L412.50,99.58 L413.00,99.58 L413.50,99.57 L414.00,99.57 L414.50,99.57 L415.00,99.56 L415.50,99.56 L416.00,99.56 L416.50,99.56 L417.00,99.55 L417.50,99.55 L418.00,99.55 L418.50,99.55 L419.00,99.55 L419.50,99.54 L420.00,99.54 L420.50,99.54 L421.00,99.54 L421.50,99.54 L422.00,99.54 L422.50,99.54 L423.00,99.54 L423.50,99.53 L424.00,99.53 L424.50,99.53 L425.00,99.53 L425.50,99.53 L426.00,99.53 L426.50,99.53 L427.00,99.53 L427.50,99.53 L428.00,99.53 L428.50,99.53 L429.00,99.54 L429.50,99.54 L430.00,99.54 L430.50,99.54 L431.00,99.54 L431.50,99.54 L432.00,99.54 L432.50,99.54 L433.00,99.54 L433.50,99.54 L434.00,99.54 L434.50,99.55 L435.00,99.55 L435.50,99.55 L436.00,99.55 L436.50,99.55 L437.00,99.55 L437.50,99.55 L438.00,99.56 L438.50,99.56 L439.00,99.56" stroke="#5cd3ec" stroke-width="1"/>
<path d="M245.00,97.51 L245.50,97.51 L246.00,97.51 L246.50,97.52 L247.00,97.52 L247.50,97.52 L248.00,97.52 L248.50,97.52 L249.00,97.52 L249.50,97.52 L250.00,97.53 L250.50,97.53 L251.00,97.53 L251.50,97.53 L252.00,97.53 L252.50,97.53 L253.00,97.53 L253.50,97.53 L254.00,97.53 L254.50,97.53 L255.00,97.53 L255.50,97.53 L256.00,97.53 L256.50,97.53 L257.00,97.53 L257.50,97.53 L258.00,97.53 L258.50,97.53 L259.00,97.53 L259.50,97.53 L260.00,97.53 L260.50,97.53 L261.00,97.53 L261.50,97.53 L262.00,97.53 L262.50,97.53 L263.00,97.53 L263.50,97.53 L264.00,97.53 L264.50,97.52 L265.00,97.52 L265.50,97.52 L266.00,97.52 L266.50,97.52 L267.00,97.52 L267.50,97.51 L268.00,97.51 L268.50,97.51 L269.00,97.50 L269.50,97.50 L270.00,97.50 L270.50,97.50 L271.00,97.49 L271.50,97.49 L272.00,97.48 L272.50,97.48 L273.00,97.48 L273.50,97.47 L274.00,97.47 L274.50,97.46 L275.00,97.46 L275.50,97.45 L276.00,97.45 L276.50,97.44 L277.00,97.43 L277.50,97.43 L278.00,97.42 L278.50,97.41 L279.00,97.41 L279.50,97.40 L280.00,97.39 L280.50,97.38 L281.00,97.38 L281.50,97.37 L282.00,97.36 L282.50,97.35 L283.00,97.34 L283.50,97.33 L284.00,97.32 L284.50,97.31 L285.00,97.29 L285.50,97.28 L286.00,97.27 L286.50,97.26 L287.00,97.24 L287.50,97.23 L288.00,97.22 L288.50,97.20 L289.00,97.19 L289.50,97.17 L290.00,97.15 L290.50,97.14 L291.00,97.12 L291.50,97.10 L292.00,97.08 L292.50,97.06 L293.00,97.04 L293.50,97.02 L294.00,96.99 L294.50,96.97 L295.00,96.95 L295.50,96.92 L296.00,96.90 L296.50,96.87 L297.00,96.84 L297.50,96.81 L298.00,96.78 L298.50,96.75 L299.00,96.72 L299.50,96.68 L300.00,96.65 L300.50,96.61 L301.00,96.57 L301.50,96.53 L302.00,96.49 L302.50,96.45 L303.00,96.40 L303.50,96.36 L304.00,96.31 L304.50,96.25 L305.00,96.20 L305.50,96.14 L306.00,96.08 L306.50,96.02 L307.00,95.95 L307.50,95.88 L308.00,95.81 L308.50,95.73 L309.00,95.65 L309.50,95.56 L310.00,95.47 L310.50,95.37 L311.00,95.26 L311.50,95.15 L312.00,95.03 L312.50,94.91 L313.00,94.77 L313.50,94.63 L314.00,94.48 L314.50,94.32 L315.00,94.15 L315.50,93.97 L316.00,93.77 L316.50,93.56 L317.00,93.34 L317.50,93.11 L318.00,92.86 L318.50,92.60 L319.00,92.32 L319.50,92.02 L320.00,91.71 L320.50,91.38 L321.00,91.04 L321.50,90.67 L322.00,90.29 L322.50,89.89 L323.00,89.47 L323.50,89.03 L324.00,88.58 L324.50,88.11 L325.00,87.62 L325.50,87.12 L326.00,86.61 L326.50,86.08 L327.00,85.54 L327.50,84.99 L328.00,84.44 L328.50,83.88 L329.00,83.32 L329.50,82.77 L330.00,82.21 L330.50,81.67 L331.00,81.14 L331.50,80.63 L332.00,80.14 L332.50,79.67 L333.00,79.24 L333.50,78.84 L334.00,78.48 L334.50,78.18 L335.00,77.92 L335.50,77.72 L336.00,77.58 L336.50,77.51 L337.00,77.52 L337.50,77.60 L338.00,77.76 L338.50,78.02 L339.00,78.36 L339.50,78.80 L340.00,79.33 L340.50,79.97 L341.00,80.70 L341.50,81.53 L342.00,82.46 L342.50,83.49 L343.00,84.60 L343.50,85.81 L344.00,87.10 L344.50,88.47 L345.00,89.90 L345.50,91.40 L346.00,92.95 L346.50,94.53 L347.00,96.15 L347.50,97.78 L348.00,99.41 L348.50,101.03 L349.00,102.63 L349.50,104.20 L350.00,105.73 L350.50,107.21 L351.00,108.64 L351.50,109.99 L352.00,111.27 L352.50,112.46 L353.00,113.57 L353.50,114.59 L354.00,115.51 L354.50,116.33 L355.00,117.06 L355.50,117.68 L356.00,118.21 L356.50,118.65 L357.00,118.99 L357.50,119.24 L358.00,119.40 L358.50,119.48 L359.00,119.49 L359.50,119.42 L360.00,119.28 L360.50,119.09 L361.00,118.83 L361.50,118.53 L362.00,118.17 L362.50,117.78 L363.00,117.35 L363.50,116.89 L364.00,116.40 L364.50,115.89 L365.00,115.37 L365.50,114.83 L366.00,114.29 L366.50,113.73 L367.00,113.18 L367.50,112.63 L368.00,112.08 L368.50,111.54 L369.00,111.00 L369.50,110.48 L370.00,109.97 L370.50,109.47 L371.00,108.99 L371.50,108.53 L372.00,108.08 L372.50,107.64 L373.00,107.23 L373.50,106.83 L374.00,106.45 L374.50,106.09 L375.00,105.75 L375.50,105.42 L376.00,105.12 L376.50,104.82 L377.00,104.55 L377.50,104.29 L378.00,104.04 L378.50,103.81 L379.00,103.59 L379.50,103.39 L380.00,103.19 L380.50,103.01 L381.00,102.84 L381.50,102.68 L382.00,102.53 L382.50,102.39 L383.00,102.26 L383.50,102.14 L384.00,102.02 L384.50,101.91 L385.00,101.80 L385.50,101.71 L386.00,101.62 L386.50,101.53 L387.00,101.45 L387.50,101.37 L388.00,101.30 L388.50,101.23 L389.00,101.16 L389.50,101.10 L390.00,101.04 L390.50,100.98 L391.00,100.93 L391.50,100.88 L392.00,100.83 L392.50,100.78 L393.00,100.73 L393.50,100.69 L394.00,100.65 L394.50,100.61 L395.00,100.57 L395.50,100.54 L396.00,100.50 L396.50,100.47 L397.00,100.44 L397.50,100.40 L398.00,100.37 L398.50,100.35 L399.00,100.32 L399.50,100.29 L400.00,100.27 L400.50,100.24 L401.00,100.22 L401.50,100.19 L402.00,100.17 L402.50,100.15 L403.00,100.13 L403.50,100.11 L404.00,100.09 L404.50,100.07 L405.00,100.06 L405.50,100.04 L406.00,100.02 L406.50,100.01 L407.00,99.99 L407.50,99.98 L408.00,99.96 L408.50,99.95 L409.00,99.94 L409.50,99.92 L410.00,99.91 L410.50,99.90 L411.00,99.89 L411.50,99.88 L412.00,99.87 L412.50,99.86 L413.00,99.85 L413.50,99.84 L414.00,99.83 L414.50,99.82 L415.00,99.81 L415.50,99.80 L416.00,99.79 L416.50,99.79 L417.00,99.78 L417.50,99.77 L418.00,99.77 L418.50,99.76 L419.00,99.75 L419.50,99.75 L420.00,99.74 L420.50,99.74 L421.00,99.73 L421.50,99.73 L422.00,99.72 L422.50,99.72 L423.00,99.72 L423.50,99.71 L424.00,99.71 L424.50,99.70 L425.00,99.70 L425.50,99.70 L426.00,99.69 L426.50,99.69 L427.00,99.69 L427.50,99.69 L428.00,99.68 L428.50,99.68 L429.00,99.68 L429.50,99.68 L430.00,99.68 L430.50,99.67 L431.00,99.67 L431.50,99.67 L432.00,99.67 L432.50,99.67 L433.00,99.67 L433.50,99.67 L434.00,99.67 L434.50,99.67 L435.00,99.66 L435.50,99.66 L436.00,99.66 L436.50,99.66 L437.00,99.66 L437.50,99.66 L438.00,99.66 L438.50,99.66 L439.00,99.66" stroke="#3c6fb4" stroke-width="1"/>
<path d="M245.00,97.22 L245.50,97.22 L246.00,97.22 L246.50,97.21 L247.00,97.21 L247.50,97.21 L248.00,97.20 L248.50,97.20 L249.00,97.20 L249.50,97.19 L250.00,97.19 L250.50,97.19 L251.00,97.18 L251.50,97.18 L252.00,97.17 L252.50,97.17 L253.00,97.16 L253.50,97.16 L254.00,97.15 L254.50,97.15 L255.00,97.14 L255.50,97.14 L256.00,97.13 L256.50,97.12 L257.00,97.12 L257.50,97.11 L258.00,97.10 L258.50,97.10 L259.00,97.09 L259.50,97.08 L260.00,97.07 L260.50,97.06 L261.00,97.06 L261.50,97.05 L262.00,97.04 L262.50,97.03 L263.00,97.02 L263.50,97.01 L264.00,97.00 L264.50,96.99 L265.00,96.98 L265.50,96.96 L266.00,96.95 L266.50,96.94 L267.00,96.93 L267.50,96.91 L268.00,96.90 L268.50,96.89 L269.00,96.87 L269.50,96.86 L270.00,96.84 L270.50,96.83 L271.00,96.81 L271.50,96.80 L272.00,96.78 L272.50,96.76 L273.00,96.74 L273.50,96.72 L274.00,96.70 L274.50,96.68 L275.00,96.66 L275.50,96.64 L276.00,96.62 L276.50,96.60 L277.00,96.58 L277.50,96.55 L278.00,96.53 L278.50,96.50 L279.00,96.47 L279.50,96.45 L280.00,96.42 L280.50,96.39 L281.00,96.36 L281.50,96.33 L282.00,96.30 L282.50,96.27 L283.00,96.23 L283.50,96.20 L284.00,96.16 L284.50,96.13 L285.00,96.09 L285.50,96.05 L286.00,96.01 L286.50,95.97 L287.00,95.92 L287.50,95.88 L288.00,95.83 L288.50,95.78 L289.00,95.74 L289.50,95.68 L290.00,95.63 L290.50,95.58 L291.00,95.52 L291.50,95.46 L292.00,95.40 L292.50,95.34 L293.00,95.28 L293.50,95.21 L294.00,95.14 L294.50,95.07 L295.00,95.00 L295.50,94.92 L296.00,94.85 L296.50,94.76 L297.00,94.68 L297.50,94.59 L298.00,94.50 L298.50,94.41 L299.00,94.31 L299.50,94.21 L300.00,94.11 L300.50,94.00 L301.00,93.89 L301.50,93.77 L302.00,93.65 L302.50,93.52 L303.00,93.39 L303.50,93.26 L304.00,93.11 L304.50,92.96 L305.00,92.81 L305.50,92.65 L306.00,92.48 L306.50,92.30 L307.00,92.11 L307.50,91.92 L308.00,91.71 L308.50,91.50 L309.00,91.27 L309.50,91.03 L310.00,90.77 L310.50,90.51 L311.00,90.22 L311.50,89.92 L312.00,89.60 L312.50,89.26 L313.00,88.89 L313.50,88.50 L314.00,88.09 L314.50,87.65 L315.00,87.18 L315.50,86.67 L316.00,86.13 L316.50,85.56 L317.00,84.94 L317.50,84.28 L318.00,83.57 L318.50,82.82 L319.00,82.01 L319.50,81.15 L320.00,80.24 L320.50,79.26 L321.00,78.23 L321.50,77.12 L322.00,75.96 L322.50,74.72 L323.00,73.42 L323.50,72.05 L324.00,70.62 L324.50,69.11 L325.00,67.54 L325.50,65.90 L326.00,64.21 L326.50,62.45 L327.00,60.65 L327.50,58.80 L328.00,56.91 L328.50,55.00 L329.00,53.06 L329.50,51.12 L330.00,49.18 L330.50,47.25 L331.00,45.36 L331.50,43.52 L332.00,41.75 L332.50,40.06 L333.00,38.48 L333.50,37.02 L334.00,35.71 L334.50,34.56 L335.00,33.61 L335.50,32.87 L336.00,32.37 L336.50,32.12 L337.00,32.16 L337.50,32.49 L338.00,33.14 L338.50,34.13 L339.00,35.47 L339.50,37.17 L340.00,39.24 L340.50,41.68 L341.00,44.50 L341.50,47.69 L342.00,51.25 L342.50,55.16 L343.00,59.39 L343.50,63.94 L344.00,68.77 L344.50,73.84 L345.00,79.12 L345.50,84.56 L346.00,90.12 L346.50,95.76 L347.00,101.29 L347.50,106.68 L348.00,111.99 L348.50,117.19 L349.00,122.23 L349.50,127.07 L350.00,131.68 L350.50,136.02 L351.00,140.07 L351.50,143.80 L352.00,147.19 L352.50,150.24 L353.00,152.93 L353.50,155.27 L354.00,157.24 L354.50,158.87 L355.00,160.14 L355.50,161.08 L356.00,161.71 L356.50,162.03 L357.00,162.06 L357.50,161.83 L358.00,161.34 L358.50,160.64 L359.00,159.73 L359.50,158.64 L360.00,157.39 L360.50,155.99 L361.00,154.48 L361.50,152.87 L362.00,151.18 L362.50,149.42 L363.00,147.62 L363.50,145.78 L364.00,143.93 L364.50,142.07 L365.00,140.22 L365.50,138.39 L366.00,136.59 L366.50,134.83 L367.00,133.10 L367.50,131.43 L368.00,129.81 L368.50,128.25 L369.00,126.75 L369.50,125.31 L370.00,123.94 L370.50,122.63 L371.00,121.39 L371.50,120.21 L372.00,119.10 L372.50,118.05 L373.00,117.06 L373.50,116.13 L374.00,115.25 L374.50,114.43 L375.00,113.66 L375.50,112.94 L376.00,112.27 L376.50,111.64 L377.00,111.05 L377.50,110.50 L378.00,109.98 L378.50,109.50 L379.00,109.05 L379.50,108.63 L380.00,108.24 L380.50,107.87 L381.00,107.52 L381.50,107.19 L382.00,106.89 L382.50,106.60 L383.00,106.33 L383.50,106.07 L384.00,105.83 L384.50,105.60 L385.00,105.38 L385.50,105.17 L386.00,104.98 L386.50,104.79 L387.00,104.61 L387.50,104.45 L388.00,104.28 L388.50,104.13 L389.00,103.98 L389.50,103.84 L390.00,103.70 L390.50,103.57 L391.00,103.45 L391.50,103.33 L392.00,103.21 L392.50,103.10 L393.00,102.99 L393.50,102.89 L394.00,102.79 L394.50,102.70 L395.00,102.60 L395.50,102.51 L396.00,102.43 L396.50,102.35 L397.00,102.27 L397.50,102.19 L398.00,102.11 L398.50,102.04 L399.00,101.97 L399.50,101.90 L400.00,101.84 L400.50,101.78 L401.00,101.72 L401.50,101.66 L402.00,101.60 L402.50,101.54 L403.00,101.49 L403.50,101.44 L404.00,101.39 L404.50,101.34 L405.00,101.29 L405.50,101.25 L406.00,101.21 L406.50,101.16 L407.00,101.12 L407.50,101.08 L408.00,101.04 L408.50,101.01 L409.00,100.97 L409.50,100.94 L410.00,100.90 L410.50,100.87 L411.00,100.84 L411.50,100.81 L412.00,100.78 L412.50,100.75 L413.00,100.72 L413.50,100.69 L414.00,100.66 L414.50,100.64 L415.00,100.61 L415.50,100.59 L416.00,100.57 L416.50,100.54 L417.00,100.52 L417.50,100.50 L418.00,100.48 L418.50,100.46 L419.00,100.44 L419.50,100.42 L420.00,100.40 L420.50,100.39 L421.00,100.37 L421.50,100.35 L422.00,100.34 L422.50,100.32 L423.00,100.31 L423.50,100.29 L424.00,100.28 L424.50,100.26 L425.00,100.25 L425.50,100.24 L426.00,100.22 L426.50,100.21 L427.00,100.20 L427.50,100.19 L428.00,100.18 L428.50,100.17 L429.00,100.16 L429.50,100.15 L430.00,100.14 L430.50,100.13 L431.00,100.12 L431.50,100.11 L432.00,100.10 L432.50,100.09 L433.00,100.08 L433.50,100.08 L434.00,100.07 L434.50,100.06 L435.00,100.05 L435.50,100.05 L436.00,100.04 L436.50,100.04 L437.00,100.03 L437.50,100.02 L438.00,100.02 L438.50,100.01 L439.00,100.01" stroke="#213a60" stroke-width="1"/>
</g>
<rect x="244.5" y="3.5" width="195.0" height="164.0" fill="none" stroke="#444" stroke-width="1"/>
<line x1="244.50" y1="167.5" x2="244.50" y2="170.3" stroke="#444" stroke-width="1"/>
<line x1="277.00" y1="167.5" x2="277.00" y2="169.1" stroke="#444" stroke-width="1"/>
<line x1="309.50" y1="167.5" x2="309.50" y2="170.3" stroke="#444" stroke-width="1"/>
<line x1="342.00" y1="167.5" x2="342.00" y2="169.1" stroke="#444" stroke-width="1"/>
<line x1="374.50" y1="167.5" x2="374.50" y2="170.3" stroke="#444" stroke-width="1"/>
<line x1="407.00" y1="167.5" x2="407.00" y2="169.1" stroke="#444" stroke-width="1"/>
<line x1="439.50" y1="167.5" x2="439.50" y2="170.3" stroke="#444" stroke-width="1"/>
<text x="244.50" y="181.8" font-size="11.3" text-anchor="middle" fill="#1a1a1a">3320</text>
<text x="309.50" y="181.8" font-size="11.3" text-anchor="middle" fill="#1a1a1a">3340</text>
<text x="374.50" y="181.8" font-size="11.3" text-anchor="middle" fill="#1a1a1a">3360</text>
<text x="439.50" y="181.8" font-size="11.3" text-anchor="middle" fill="#1a1a1a">3380</text>
<text x="342.00" y="191.5" font-size="11" text-anchor="middle" fill="#1a1a1a">H (G)</text>
<text transform="translate(236.90,134.90) rotate(-90)" font-size="11.2" fill="#1a1a1a">Intensity (arb. units)</text>
<text x="229.6" y="17.8" font-size="22.5" fill="#000">b</text>
<line x1="265.0" y1="12.5" x2="283.6" y2="12.5" stroke="#3d5c90" stroke-width="1" stroke-opacity="0.75"/>
<text x="286.8" y="15.30" font-size="8.2" fill="#1a1a1a"><tspan font-weight="bold">2</tspan>(OTf)<tspan font-size="5.41" dy="2.2">12</tspan><tspan dy="-2.2"> Light</tspan></text>
<line x1="342.2" y1="12.5" x2="360.4" y2="12.5" stroke="#3c70c0" stroke-width="1" stroke-opacity="0.75"/>
<text x="363.9" y="15.30" font-size="8.2" fill="#1a1a1a"><tspan font-weight="bold">2</tspan>(OTf)<tspan font-size="5.41" dy="2.2">12</tspan><tspan dy="-2.2"> Dark</tspan></text>
<line x1="265.0" y1="24.2" x2="283.6" y2="24.2" stroke="#5cd3ec" stroke-width="1" stroke-opacity="0.75"/>
<text x="286.8" y="27.00" font-size="8.2" fill="#1a1a1a"><tspan font-weight="bold">E2</tspan>(OTf)<tspan font-size="5.41" dy="2.2">2</tspan><tspan dy="-2.2"> Light</tspan></text>
<line x1="342.2" y1="24.2" x2="360.4" y2="24.2" stroke="#b4eef8" stroke-width="1" stroke-opacity="0.75"/>
<text x="363.9" y="27.00" font-size="8.2" fill="#1a1a1a"><tspan font-weight="bold">E2</tspan>(OTf)<tspan font-size="5.41" dy="2.2">2</tspan><tspan dy="-2.2"> Dark</tspan></text>
<text x="438.0" y="98.0" font-size="7.9" text-anchor="end" fill="#3e78c0">5.08 times</text>
<clipPath id="clipc"><rect x="473.5" y="1.5" width="198.0" height="166.0"/></clipPath>
<g clip-path="url(#clipc)" fill="none" stroke-linejoin="round">
<path d="M474.00,98.90 L474.50,98.90 L475.00,98.90 L475.50,98.90 L476.00,98.90 L476.50,98.90 L477.00,98.91 L477.50,98.91 L478.00,98.91 L478.50,98.91 L479.00,98.91 L479.50,98.91 L480.00,98.92 L480.50,98.92 L481.00,98.92 L481.50,98.92 L482.00,98.92 L482.50,98.92 L483.00,98.92 L483.50,98.93 L484.00,98.93 L484.50,98.93 L485.00,98.93 L485.50,98.93 L486.00,98.93 L486.50,98.94 L487.00,98.94 L487.50,98.94 L488.00,98.94 L488.50,98.94 L489.00,98.94 L489.50,98.95 L490.00,98.95 L490.50,98.95 L491.00,98.95 L491.50,98.95 L492.00,98.95 L492.50,98.96 L493.00,98.96 L493.50,98.96 L494.00,98.96 L494.50,98.96 L495.00,98.96 L495.50,98.96 L496.00,98.97 L496.50,98.97 L497.00,98.97 L497.50,98.97 L498.00,98.97 L498.50,98.97 L499.00,98.97 L499.50,98.98 L500.00,98.98 L500.50,98.98 L501.00,98.98 L501.50,98.98 L502.00,98.98 L502.50,98.98 L503.00,98.99 L503.50,98.99 L504.00,98.99 L504.50,98.99 L505.00,98.99 L505.50,98.99 L506.00,98.99 L506.50,99.00 L507.00,99.00 L507.50,99.00 L508.00,99.00 L508.50,99.00 L509.00,99.00 L509.50,99.00 L510.00,99.00 L510.50,99.01 L511.00,99.01 L511.50,99.01 L512.00,99.01 L512.50,99.01 L513.00,99.01 L513.50,99.01 L514.00,99.01 L514.50,99.02 L515.00,99.02 L515.50,99.02 L516.00,99.02 L516.50,99.02 L517.00,99.02 L517.50,99.02 L518.00,99.02 L518.50,99.02 L519.00,99.02 L519.50,99.02 L520.00,99.03 L520.50,99.03 L521.00,99.03 L521.50,99.03 L522.00,99.03 L522.50,99.03 L523.00,99.03 L523.50,99.03 L524.00,99.03 L524.50,99.03 L525.00,99.03 L525.50,99.03 L526.00,99.03 L526.50,99.03 L527.00,99.03 L527.50,99.03 L528.00,99.03 L528.50,99.03 L529.00,99.03 L529.50,99.03 L530.00,99.03 L530.50,99.03 L531.00,99.03 L531.50,99.03 L532.00,99.03 L532.50,99.03 L533.00,99.03 L533.50,99.03 L534.00,99.03 L534.50,99.02 L535.00,99.02 L535.50,99.02 L536.00,99.02 L536.50,99.02 L537.00,99.01 L537.50,99.01 L538.00,99.01 L538.50,99.01 L539.00,99.00 L539.50,99.00 L540.00,98.99 L540.50,98.99 L541.00,98.98 L541.50,98.98 L542.00,98.97 L542.50,98.96 L543.00,98.96 L543.50,98.95 L544.00,98.94 L544.50,98.93 L545.00,98.92 L545.50,98.91 L546.00,98.90 L546.50,98.88 L547.00,98.87 L547.50,98.86 L548.00,98.84 L548.50,98.83 L549.00,98.81 L549.50,98.79 L550.00,98.77 L550.50,98.75 L551.00,98.73 L551.50,98.71 L552.00,98.69 L552.50,98.67 L553.00,98.65 L553.50,98.63 L554.00,98.61 L554.50,98.58 L555.00,98.56 L555.50,98.54 L556.00,98.52 L556.50,98.50 L557.00,98.48 L557.50,98.47 L558.00,98.45 L558.50,98.44 L559.00,98.43 L559.50,98.42 L560.00,98.41 L560.50,98.41 L561.00,98.41 L561.50,98.41 L562.00,98.42 L562.50,98.43 L563.00,98.45 L563.50,98.47 L564.00,98.49 L564.50,98.52 L565.00,98.55 L565.50,98.59 L566.00,98.63 L566.50,98.68 L567.00,98.73 L567.50,98.79 L568.00,98.84 L568.50,98.91 L569.00,98.97 L569.50,99.04 L570.00,99.10 L570.50,99.17 L571.00,99.24 L571.50,99.33 L572.00,99.42 L572.50,99.50 L573.00,99.59 L573.50,99.67 L574.00,99.74 L574.50,99.82 L575.00,99.88 L575.50,99.95 L576.00,100.00 L576.50,100.06 L577.00,100.10 L577.50,100.15 L578.00,100.18 L578.50,100.21 L579.00,100.23 L579.50,100.25 L580.00,100.27 L580.50,100.28 L581.00,100.28 L581.50,100.28 L582.00,100.28 L582.50,100.27 L583.00,100.26 L583.50,100.24 L584.00,100.22 L584.50,100.20 L585.00,100.18 L585.50,100.16 L586.00,100.13 L586.50,100.11 L587.00,100.08 L587.50,100.05 L588.00,100.03 L588.50,100.00 L589.00,99.97 L589.50,99.94 L590.00,99.92 L590.50,99.89 L591.00,99.87 L591.50,99.84 L592.00,99.82 L592.50,99.79 L593.00,99.77 L593.50,99.75 L594.00,99.73 L594.50,99.71 L595.00,99.69 L595.50,99.67 L596.00,99.66 L596.50,99.64 L597.00,99.63 L597.50,99.61 L598.00,99.60 L598.50,99.59 L599.00,99.58 L599.50,99.57 L600.00,99.56 L600.50,99.55 L601.00,99.54 L601.50,99.54 L602.00,99.53 L602.50,99.53 L603.00,99.52 L603.50,99.51 L604.00,99.51 L604.50,99.51 L605.00,99.50 L605.50,99.50 L606.00,99.50 L606.50,99.49 L607.00,99.49 L607.50,99.49 L608.00,99.49 L608.50,99.48 L609.00,99.48 L609.50,99.48 L610.00,99.48 L610.50,99.48 L611.00,99.48 L611.50,99.47 L612.00,99.47 L612.50,99.47 L613.00,99.47 L613.50,99.47 L614.00,99.47 L614.50,99.47 L615.00,99.47 L615.50,99.47 L616.00,99.47 L616.50,99.47 L617.00,99.47 L617.50,99.47 L618.00,99.47 L618.50,99.47 L619.00,99.47 L619.50,99.47 L620.00,99.47 L620.50,99.47 L621.00,99.47 L621.50,99.47 L622.00,99.47 L622.50,99.47 L623.00,99.47 L623.50,99.48 L624.00,99.48 L624.50,99.48 L625.00,99.48 L625.50,99.48 L626.00,99.48 L626.50,99.48 L627.00,99.48 L627.50,99.48 L628.00,99.48 L628.50,99.48 L629.00,99.48 L629.50,99.49 L630.00,99.49 L630.50,99.49 L631.00,99.49 L631.50,99.49 L632.00,99.49 L632.50,99.49 L633.00,99.49 L633.50,99.49 L634.00,99.50 L634.50,99.50 L635.00,99.50 L635.50,99.50 L636.00,99.50 L636.50,99.50 L637.00,99.50 L637.50,99.50 L638.00,99.50 L638.50,99.51 L639.00,99.51 L639.50,99.51 L640.00,99.51 L640.50,99.51 L641.00,99.51 L641.50,99.51 L642.00,99.52 L642.50,99.52 L643.00,99.52 L643.50,99.52 L644.00,99.52 L644.50,99.52 L645.00,99.52 L645.50,99.53 L646.00,99.53 L646.50,99.53 L647.00,99.53 L647.50,99.53 L648.00,99.53 L648.50,99.53 L649.00,99.54 L649.50,99.54 L650.00,99.54 L650.50,99.54 L651.00,99.54 L651.50,99.54 L652.00,99.54 L652.50,99.55 L653.00,99.55 L653.50,99.55 L654.00,99.55 L654.50,99.55 L655.00,99.55 L655.50,99.56 L656.00,99.56 L656.50,99.56 L657.00,99.56 L657.50,99.56 L658.00,99.56 L658.50,99.57 L659.00,99.57 L659.50,99.57 L660.00,99.57 L660.50,99.57 L661.00,99.57 L661.50,99.57 L662.00,99.58 L662.50,99.58 L663.00,99.58 L663.50,99.58 L664.00,99.58 L664.50,99.58 L665.00,99.59 L665.50,99.59 L666.00,99.59 L666.50,99.59 L667.00,99.59 L667.50,99.59 L668.00,99.60 L668.50,99.60 L669.00,99.60 L669.50,99.60 L670.00,99.60 L670.50,99.60 L671.00,99.61" stroke="#cdeedd" stroke-width="1"/>
<path d="M474.00,98.90 L474.50,98.90 L475.00,98.90 L475.50,98.90 L476.00,98.90 L476.50,98.91 L477.00,98.91 L477.50,98.91 L478.00,98.91 L478.50,98.91 L479.00,98.91 L479.50,98.92 L480.00,98.92 L480.50,98.92 L481.00,98.92 L481.50,98.92 L482.00,98.92 L482.50,98.93 L483.00,98.93 L483.50,98.93 L484.00,98.93 L484.50,98.93 L485.00,98.93 L485.50,98.93 L486.00,98.94 L486.50,98.94 L487.00,98.94 L487.50,98.94 L488.00,98.94 L488.50,98.94 L489.00,98.95 L489.50,98.95 L490.00,98.95 L490.50,98.95 L491.00,98.95 L491.50,98.95 L492.00,98.96 L492.50,98.96 L493.00,98.96 L493.50,98.96 L494.00,98.96 L494.50,98.96 L495.00,98.97 L495.50,98.97 L496.00,98.97 L496.50,98.97 L497.00,98.97 L497.50,98.97 L498.00,98.97 L498.50,98.98 L499.00,98.98 L499.50,98.98 L500.00,98.98 L500.50,98.98 L501.00,98.98 L501.50,98.99 L502.00,98.99 L502.50,98.99 L503.00,98.99 L503.50,98.99 L504.00,98.99 L504.50,98.99 L505.00,99.00 L505.50,99.00 L506.00,99.00 L506.50,99.00 L507.00,99.00 L507.50,99.00 L508.00,99.00 L508.50,99.01 L509.00,99.01 L509.50,99.01 L510.00,99.01 L510.50,99.01 L511.00,99.01 L511.50,99.01 L512.00,99.01 L512.50,99.02 L513.00,99.02 L513.50,99.02 L514.00,99.02 L514.50,99.02 L515.00,99.02 L515.50,99.02 L516.00,99.02 L516.50,99.03 L517.00,99.03 L517.50,99.03 L518.00,99.03 L518.50,99.03 L519.00,99.03 L519.50,99.03 L520.00,99.03 L520.50,99.03 L521.00,99.03 L521.50,99.04 L522.00,99.04 L522.50,99.04 L523.00,99.04 L523.50,99.04 L524.00,99.04 L524.50,99.04 L525.00,99.04 L525.50,99.04 L526.00,99.04 L526.50,99.04 L527.00,99.04 L527.50,99.04 L528.00,99.04 L528.50,99.04 L529.00,99.04 L529.50,99.04 L530.00,99.04 L530.50,99.04 L531.00,99.04 L531.50,99.04 L532.00,99.04 L532.50,99.04 L533.00,99.04 L533.50,99.04 L534.00,99.04 L534.50,99.04 L535.00,99.03 L535.50,99.03 L536.00,99.03 L536.50,99.02 L537.00,99.02 L537.50,99.01 L538.00,99.01 L538.50,99.00 L539.00,98.99 L539.50,98.98 L540.00,98.97 L540.50,98.95 L541.00,98.93 L541.50,98.91 L542.00,98.88 L542.50,98.85 L543.00,98.82 L543.50,98.78 L544.00,98.73 L544.50,98.67 L545.00,98.61 L545.50,98.54 L546.00,98.45 L546.50,98.36 L547.00,98.25 L547.50,98.13 L548.00,98.00 L548.50,97.85 L549.00,97.68 L549.50,97.49 L550.00,97.29 L550.50,97.06 L551.00,96.82 L551.50,96.55 L552.00,96.27 L552.50,95.96 L553.00,95.63 L553.50,95.28 L554.00,94.91 L554.50,94.53 L555.00,94.13 L555.50,93.72 L556.00,93.29 L556.50,92.87 L557.00,92.44 L557.50,92.01 L558.00,91.59 L558.50,91.18 L559.00,90.78 L559.50,90.42 L560.00,90.08 L560.50,89.78 L561.00,89.52 L561.50,89.30 L562.00,89.15 L562.50,89.05 L563.00,89.02 L563.50,89.05 L564.00,89.16 L564.50,89.35 L565.00,89.62 L565.50,89.96 L566.00,90.39 L566.50,90.90 L567.00,91.48 L567.50,92.13 L568.00,92.86 L568.50,93.64 L569.00,94.49 L569.50,95.38 L570.00,96.31 L570.50,97.27 L571.00,98.25 L571.50,99.25 L572.00,100.07 L572.50,100.88 L573.00,101.68 L573.50,102.45 L574.00,103.20 L574.50,103.92 L575.00,104.60 L575.50,105.24 L576.00,105.82 L576.50,106.36 L577.00,106.84 L577.50,107.26 L578.00,107.63 L578.50,107.93 L579.00,108.18 L579.50,108.36 L580.00,108.49 L580.50,108.56 L581.00,108.58 L581.50,108.55 L582.00,108.46 L582.50,108.34 L583.00,108.17 L583.50,107.96 L584.00,107.73 L584.50,107.46 L585.00,107.17 L585.50,106.86 L586.00,106.53 L586.50,106.19 L587.00,105.84 L587.50,105.49 L588.00,105.14 L588.50,104.78 L589.00,104.43 L589.50,104.09 L590.00,103.76 L590.50,103.43 L591.00,103.12 L591.50,102.82 L592.00,102.53 L592.50,102.26 L593.00,102.01 L593.50,101.77 L594.00,101.55 L594.50,101.34 L595.00,101.15 L595.50,100.97 L596.00,100.81 L596.50,100.66 L597.00,100.52 L597.50,100.40 L598.00,100.29 L598.50,100.19 L599.00,100.10 L599.50,100.02 L600.00,99.94 L600.50,99.88 L601.00,99.82 L601.50,99.77 L602.00,99.73 L602.50,99.69 L603.00,99.66 L603.50,99.63 L604.00,99.60 L604.50,99.58 L605.00,99.56 L605.50,99.55 L606.00,99.53 L606.50,99.52 L607.00,99.51 L607.50,99.50 L608.00,99.49 L608.50,99.49 L609.00,99.48 L609.50,99.48 L610.00,99.47 L610.50,99.47 L611.00,99.47 L611.50,99.47 L612.00,99.46 L612.50,99.46 L613.00,99.46 L613.50,99.46 L614.00,99.46 L614.50,99.46 L615.00,99.46 L615.50,99.46 L616.00,99.46 L616.50,99.46 L617.00,99.46 L617.50,99.46 L618.00,99.46 L618.50,99.46 L619.00,99.46 L619.50,99.46 L620.00,99.46 L620.50,99.46 L621.00,99.46 L621.50,99.46 L622.00,99.46 L622.50,99.47 L623.00,99.47 L623.50,99.47 L624.00,99.47 L624.50,99.47 L625.00,99.47 L625.50,99.47 L626.00,99.47 L626.50,99.47 L627.00,99.47 L627.50,99.47 L628.00,99.48 L628.50,99.48 L629.00,99.48 L629.50,99.48 L630.00,99.48 L630.50,99.48 L631.00,99.48 L631.50,99.48 L632.00,99.48 L632.50,99.49 L633.00,99.49 L633.50,99.49 L634.00,99.49 L634.50,99.49 L635.00,99.49 L635.50,99.49 L636.00,99.49 L636.50,99.50 L637.00,99.50 L637.50,99.50 L638.00,99.50 L638.50,99.50 L639.00,99.50 L639.50,99.50 L640.00,99.51 L640.50,99.51 L641.00,99.51 L641.50,99.51 L642.00,99.51 L642.50,99.51 L643.00,99.51 L643.50,99.52 L644.00,99.52 L644.50,99.52 L645.00,99.52 L645.50,99.52 L646.00,99.52 L646.50,99.52 L647.00,99.53 L647.50,99.53 L648.00,99.53 L648.50,99.53 L649.00,99.53 L649.50,99.53 L650.00,99.54 L650.50,99.54 L651.00,99.54 L651.50,99.54 L652.00,99.54 L652.50,99.54 L653.00,99.55 L653.50,99.55 L654.00,99.55 L654.50,99.55 L655.00,99.55 L655.50,99.55 L656.00,99.55 L656.50,99.56 L657.00,99.56 L657.50,99.56 L658.00,99.56 L658.50,99.56 L659.00,99.56 L659.50,99.57 L660.00,99.57 L660.50,99.57 L661.00,99.57 L661.50,99.57 L662.00,99.57 L662.50,99.58 L663.00,99.58 L663.50,99.58 L664.00,99.58 L664.50,99.58 L665.00,99.58 L665.50,99.59 L666.00,99.59 L666.50,99.59 L667.00,99.59 L667.50,99.59 L668.00,99.59 L668.50,99.60 L669.00,99.60 L669.50,99.60 L670.00,99.60 L670.50,99.60 L671.00,99.60" stroke="#66dd66" stroke-width="1"/>
<path d="M474.00,98.90 L474.50,98.90 L475.00,98.91 L475.50,98.91 L476.00,98.91 L476.50,98.91 L477.00,98.91 L477.50,98.91 L478.00,98.92 L478.50,98.92 L479.00,98.92 L479.50,98.92 L480.00,98.92 L480.50,98.92 L481.00,98.93 L481.50,98.93 L482.00,98.93 L482.50,98.93 L483.00,98.93 L483.50,98.94 L484.00,98.94 L484.50,98.94 L485.00,98.94 L485.50,98.94 L486.00,98.94 L486.50,98.95 L487.00,98.95 L487.50,98.95 L488.00,98.95 L488.50,98.95 L489.00,98.95 L489.50,98.96 L490.00,98.96 L490.50,98.96 L491.00,98.96 L491.50,98.96 L492.00,98.97 L492.50,98.97 L493.00,98.97 L493.50,98.97 L494.00,98.97 L494.50,98.97 L495.00,98.98 L495.50,98.98 L496.00,98.98 L496.50,98.98 L497.00,98.98 L497.50,98.98 L498.00,98.99 L498.50,98.99 L499.00,98.99 L499.50,98.99 L500.00,98.99 L500.50,99.00 L501.00,99.00 L501.50,99.00 L502.00,99.00 L502.50,99.00 L503.00,99.00 L503.50,99.01 L504.00,99.01 L504.50,99.01 L505.00,99.01 L505.50,99.01 L506.00,99.01 L506.50,99.02 L507.00,99.02 L507.50,99.02 L508.00,99.02 L508.50,99.02 L509.00,99.03 L509.50,99.03 L510.00,99.03 L510.50,99.03 L511.00,99.03 L511.50,99.03 L512.00,99.04 L512.50,99.04 L513.00,99.04 L513.50,99.04 L514.00,99.04 L514.50,99.04 L515.00,99.05 L515.50,99.05 L516.00,99.05 L516.50,99.05 L517.00,99.05 L517.50,99.06 L518.00,99.06 L518.50,99.06 L519.00,99.06 L519.50,99.06 L520.00,99.06 L520.50,99.07 L521.00,99.07 L521.50,99.07 L522.00,99.07 L522.50,99.07 L523.00,99.07 L523.50,99.08 L524.00,99.08 L524.50,99.08 L525.00,99.08 L525.50,99.08 L526.00,99.08 L526.50,99.07 L527.00,99.07 L527.50,99.07 L528.00,99.06 L528.50,99.05 L529.00,99.04 L529.50,99.02 L530.00,99.00 L530.50,98.97 L531.00,98.93 L531.50,98.89 L532.00,98.83 L532.50,98.77 L533.00,98.69 L533.50,98.61 L534.00,98.50 L534.50,98.39 L535.00,98.26 L535.50,98.11 L536.00,97.95 L536.50,97.78 L537.00,97.60 L537.50,97.40 L538.00,97.21 L538.50,97.00 L539.00,96.80 L539.50,96.59 L540.00,96.39 L540.50,96.20 L541.00,96.02 L541.50,95.85 L542.00,95.70 L542.50,95.55 L543.00,95.42 L543.50,95.30 L544.00,95.18 L544.50,95.07 L545.00,94.96 L545.50,94.83 L546.00,94.70 L546.50,94.53 L547.00,94.34 L547.50,94.11 L548.00,93.83 L548.50,93.49 L549.00,93.10 L549.50,92.63 L550.00,92.10 L550.50,91.48 L551.00,90.78 L551.50,90.00 L552.00,89.13 L552.50,88.18 L553.00,87.14 L553.50,86.03 L554.00,84.84 L554.50,83.58 L555.00,82.26 L555.50,80.88 L556.00,79.47 L556.50,78.03 L557.00,76.58 L557.50,75.12 L558.00,73.69 L558.50,72.29 L559.00,70.95 L559.50,69.69 L560.00,68.52 L560.50,67.48 L561.00,66.57 L561.50,65.82 L562.00,65.25 L562.50,64.88 L563.00,64.72 L563.50,64.79 L564.00,65.11 L564.50,65.68 L565.00,66.51 L565.50,67.60 L566.00,68.96 L566.50,70.58 L567.00,72.46 L567.50,74.58 L568.00,76.93 L568.50,79.49 L569.00,82.24 L569.50,85.16 L570.00,88.21 L570.50,91.38 L571.00,94.63 L571.50,97.92 L572.00,100.89 L572.50,103.61 L573.00,106.29 L573.50,108.91 L574.00,111.44 L574.50,113.87 L575.00,116.17 L575.50,118.33 L576.00,120.33 L576.50,122.16 L577.00,123.81 L577.50,125.26 L578.00,126.51 L578.50,127.56 L579.00,128.40 L579.50,129.04 L580.00,129.48 L580.50,129.72 L581.00,129.78 L581.50,129.66 L582.00,129.37 L582.50,128.92 L583.00,128.34 L583.50,127.62 L584.00,126.80 L584.50,125.87 L585.00,124.86 L585.50,123.78 L586.00,122.65 L586.50,121.48 L587.00,120.28 L587.50,119.07 L588.00,117.85 L588.50,116.64 L589.00,115.45 L589.50,114.28 L590.00,113.15 L590.50,112.05 L591.00,111.00 L591.50,110.00 L592.00,109.04 L592.50,108.15 L593.00,107.30 L593.50,106.52 L594.00,105.78 L594.50,105.11 L595.00,104.48 L595.50,103.91 L596.00,103.39 L596.50,102.92 L597.00,102.49 L597.50,102.10 L598.00,101.76 L598.50,101.45 L599.00,101.17 L599.50,100.93 L600.00,100.71 L600.50,100.52 L601.00,100.36 L601.50,100.21 L602.00,100.08 L602.50,99.98 L603.00,99.88 L603.50,99.80 L604.00,99.73 L604.50,99.67 L605.00,99.63 L605.50,99.58 L606.00,99.55 L606.50,99.52 L607.00,99.49 L607.50,99.47 L608.00,99.46 L608.50,99.44 L609.00,99.43 L609.50,99.43 L610.00,99.42 L610.50,99.41 L611.00,99.41 L611.50,99.41 L612.00,99.40 L612.50,99.40 L613.00,99.40 L613.50,99.40 L614.00,99.40 L614.50,99.40 L615.00,99.40 L615.50,99.40 L616.00,99.41 L616.50,99.41 L617.00,99.41 L617.50,99.41 L618.00,99.41 L618.50,99.41 L619.00,99.41 L619.50,99.42 L620.00,99.42 L620.50,99.42 L621.00,99.42 L621.50,99.42 L622.00,99.43 L622.50,99.43 L623.00,99.43 L623.50,99.43 L624.00,99.43 L624.50,99.43 L625.00,99.44 L625.50,99.44 L626.00,99.44 L626.50,99.44 L627.00,99.44 L627.50,99.44 L628.00,99.45 L628.50,99.45 L629.00,99.45 L629.50,99.45 L630.00,99.45 L630.50,99.46 L631.00,99.46 L631.50,99.46 L632.00,99.46 L632.50,99.46 L633.00,99.46 L633.50,99.47 L634.00,99.47 L634.50,99.47 L635.00,99.47 L635.50,99.47 L636.00,99.47 L636.50,99.48 L637.00,99.48 L637.50,99.48 L638.00,99.48 L638.50,99.48 L639.00,99.49 L639.50,99.49 L640.00,99.49 L640.50,99.49 L641.00,99.49 L641.50,99.49 L642.00,99.50 L642.50,99.50 L643.00,99.50 L643.50,99.50 L644.00,99.50 L644.50,99.50 L645.00,99.51 L645.50,99.51 L646.00,99.51 L646.50,99.51 L647.00,99.51 L647.50,99.52 L648.00,99.52 L648.50,99.52 L649.00,99.52 L649.50,99.52 L650.00,99.52 L650.50,99.53 L651.00,99.53 L651.50,99.53 L652.00,99.53 L652.50,99.53 L653.00,99.53 L653.50,99.54 L654.00,99.54 L654.50,99.54 L655.00,99.54 L655.50,99.54 L656.00,99.55 L656.50,99.55 L657.00,99.55 L657.50,99.55 L658.00,99.55 L658.50,99.55 L659.00,99.56 L659.50,99.56 L660.00,99.56 L660.50,99.56 L661.00,99.56 L661.50,99.56 L662.00,99.57 L662.50,99.57 L663.00,99.57 L663.50,99.57 L664.00,99.57 L664.50,99.58 L665.00,99.58 L665.50,99.58 L666.00,99.58 L666.50,99.58 L667.00,99.58 L667.50,99.59 L668.00,99.59 L668.50,99.59 L669.00,99.59 L669.50,99.59 L670.00,99.59 L670.50,99.60 L671.00,99.60" stroke="#4f8a30" stroke-width="1"/>
<path d="M474.00,98.88 L474.50,98.88 L475.00,98.88 L475.50,98.88 L476.00,98.89 L476.50,98.89 L477.00,98.89 L477.50,98.89 L478.00,98.89 L478.50,98.89 L479.00,98.89 L479.50,98.90 L480.00,98.90 L480.50,98.90 L481.00,98.90 L481.50,98.90 L482.00,98.90 L482.50,98.90 L483.00,98.90 L483.50,98.91 L484.00,98.91 L484.50,98.91 L485.00,98.91 L485.50,98.91 L486.00,98.91 L486.50,98.91 L487.00,98.91 L487.50,98.92 L488.00,98.92 L488.50,98.92 L489.00,98.92 L489.50,98.92 L490.00,98.92 L490.50,98.92 L491.00,98.92 L491.50,98.93 L492.00,98.93 L492.50,98.93 L493.00,98.93 L493.50,98.93 L494.00,98.93 L494.50,98.93 L495.00,98.93 L495.50,98.93 L496.00,98.93 L496.50,98.94 L497.00,98.94 L497.50,98.94 L498.00,98.94 L498.50,98.94 L499.00,98.94 L499.50,98.94 L500.00,98.94 L500.50,98.94 L501.00,98.94 L501.50,98.94 L502.00,98.94 L502.50,98.94 L503.00,98.94 L503.50,98.95 L504.00,98.95 L504.50,98.95 L505.00,98.95 L505.50,98.95 L506.00,98.95 L506.50,98.95 L507.00,98.95 L507.50,98.95 L508.00,98.95 L508.50,98.95 L509.00,98.95 L509.50,98.95 L510.00,98.95 L510.50,98.95 L511.00,98.95 L511.50,98.95 L512.00,98.95 L512.50,98.95 L513.00,98.95 L513.50,98.95 L514.00,98.95 L514.50,98.95 L515.00,98.94 L515.50,98.94 L516.00,98.94 L516.50,98.94 L517.00,98.94 L517.50,98.94 L518.00,98.94 L518.50,98.94 L519.00,98.94 L519.50,98.93 L520.00,98.93 L520.50,98.93 L521.00,98.93 L521.50,98.92 L522.00,98.92 L522.50,98.92 L523.00,98.91 L523.50,98.91 L524.00,98.90 L524.50,98.89 L525.00,98.88 L525.50,98.87 L526.00,98.86 L526.50,98.84 L527.00,98.82 L527.50,98.79 L528.00,98.76 L528.50,98.72 L529.00,98.67 L529.50,98.62 L530.00,98.56 L530.50,98.49 L531.00,98.40 L531.50,98.31 L532.00,98.20 L532.50,98.08 L533.00,97.95 L533.50,97.80 L534.00,97.64 L534.50,97.46 L535.00,97.28 L535.50,97.08 L536.00,96.87 L536.50,96.66 L537.00,96.44 L537.50,96.22 L538.00,96.00 L538.50,95.77 L539.00,95.55 L539.50,95.34 L540.00,95.12 L540.50,94.91 L541.00,94.71 L541.50,94.51 L542.00,94.30 L542.50,94.10 L543.00,93.88 L543.50,93.65 L544.00,93.40 L544.50,93.12 L545.00,92.79 L545.50,92.42 L546.00,92.00 L546.50,91.50 L547.00,90.92 L547.50,90.26 L548.00,89.49 L548.50,88.61 L549.00,87.60 L549.50,86.47 L550.00,85.20 L550.50,83.78 L551.00,82.22 L551.50,80.50 L552.00,78.63 L552.50,76.61 L553.00,74.43 L553.50,72.12 L554.00,69.67 L554.50,67.09 L555.00,64.41 L555.50,61.64 L556.00,58.80 L556.50,55.92 L557.00,53.02 L557.50,50.13 L558.00,47.29 L558.50,44.54 L559.00,41.90 L559.50,39.43 L560.00,37.16 L560.50,35.13 L561.00,33.38 L561.50,31.96 L562.00,30.90 L562.50,30.24 L563.00,30.01 L563.50,30.25 L564.00,30.98 L564.50,32.22 L565.00,33.98 L565.50,36.27 L566.00,39.09 L566.50,42.43 L567.00,46.28 L567.50,50.62 L568.00,55.41 L568.50,60.63 L569.00,66.22 L569.50,72.14 L570.00,78.33 L570.50,84.74 L571.00,91.29 L571.50,97.92 L572.00,103.71 L572.50,109.26 L573.00,114.72 L573.50,120.05 L574.00,125.19 L574.50,130.12 L575.00,134.78 L575.50,139.15 L576.00,143.19 L576.50,146.88 L577.00,150.19 L577.50,153.11 L578.00,155.62 L578.50,157.72 L579.00,159.42 L579.50,160.70 L580.00,161.57 L580.50,162.06 L581.00,162.17 L581.50,161.93 L582.00,161.35 L582.50,160.46 L583.00,159.28 L583.50,157.85 L584.00,156.19 L584.50,154.34 L585.00,152.31 L585.50,150.15 L586.00,147.87 L586.50,145.52 L587.00,143.10 L587.50,140.66 L588.00,138.20 L588.50,135.76 L589.00,133.34 L589.50,130.98 L590.00,128.67 L590.50,126.45 L591.00,124.30 L591.50,122.25 L592.00,120.31 L592.50,118.46 L593.00,116.73 L593.50,115.10 L594.00,113.59 L594.50,112.18 L595.00,110.88 L595.50,109.69 L596.00,108.59 L596.50,107.59 L597.00,106.68 L597.50,105.86 L598.00,105.12 L598.50,104.45 L599.00,103.86 L599.50,103.33 L600.00,102.85 L600.50,102.44 L601.00,102.07 L601.50,101.74 L602.00,101.45 L602.50,101.20 L603.00,100.99 L603.50,100.80 L604.00,100.63 L604.50,100.49 L605.00,100.37 L605.50,100.26 L606.00,100.17 L606.50,100.09 L607.00,100.02 L607.50,99.96 L608.00,99.91 L608.50,99.87 L609.00,99.83 L609.50,99.80 L610.00,99.78 L610.50,99.75 L611.00,99.73 L611.50,99.71 L612.00,99.70 L612.50,99.69 L613.00,99.67 L613.50,99.66 L614.00,99.65 L614.50,99.65 L615.00,99.64 L615.50,99.63 L616.00,99.63 L616.50,99.62 L617.00,99.62 L617.50,99.61 L618.00,99.61 L618.50,99.60 L619.00,99.60 L619.50,99.60 L620.00,99.59 L620.50,99.59 L621.00,99.59 L621.50,99.58 L622.00,99.58 L622.50,99.58 L623.00,99.58 L623.50,99.57 L624.00,99.57 L624.50,99.57 L625.00,99.57 L625.50,99.57 L626.00,99.57 L626.50,99.57 L627.00,99.56 L627.50,99.56 L628.00,99.56 L628.50,99.56 L629.00,99.56 L629.50,99.56 L630.00,99.56 L630.50,99.56 L631.00,99.56 L631.50,99.56 L632.00,99.56 L632.50,99.56 L633.00,99.56 L633.50,99.56 L634.00,99.56 L634.50,99.56 L635.00,99.56 L635.50,99.56 L636.00,99.56 L636.50,99.56 L637.00,99.56 L637.50,99.56 L638.00,99.56 L638.50,99.56 L639.00,99.56 L639.50,99.56 L640.00,99.56 L640.50,99.56 L641.00,99.56 L641.50,99.56 L642.00,99.56 L642.50,99.56 L643.00,99.56 L643.50,99.56 L644.00,99.56 L644.50,99.56 L645.00,99.56 L645.50,99.56 L646.00,99.56 L646.50,99.56 L647.00,99.57 L647.50,99.57 L648.00,99.57 L648.50,99.57 L649.00,99.57 L649.50,99.57 L650.00,99.57 L650.50,99.57 L651.00,99.57 L651.50,99.57 L652.00,99.57 L652.50,99.58 L653.00,99.58 L653.50,99.58 L654.00,99.58 L654.50,99.58 L655.00,99.58 L655.50,99.58 L656.00,99.58 L656.50,99.58 L657.00,99.59 L657.50,99.59 L658.00,99.59 L658.50,99.59 L659.00,99.59 L659.50,99.59 L660.00,99.59 L660.50,99.59 L661.00,99.59 L661.50,99.60 L662.00,99.60 L662.50,99.60 L663.00,99.60 L663.50,99.60 L664.00,99.60 L664.50,99.60 L665.00,99.61 L665.50,99.61 L666.00,99.61 L666.50,99.61 L667.00,99.61 L667.50,99.61 L668.00,99.61 L668.50,99.61 L669.00,99.62 L669.50,99.62 L670.00,99.62 L670.50,99.62 L671.00,99.62" stroke="#223522" stroke-width="1"/>
</g>
<rect x="473.5" y="1.5" width="198.0" height="166.0" fill="none" stroke="#444" stroke-width="1"/>
<line x1="473.50" y1="167.5" x2="473.50" y2="170.3" stroke="#444" stroke-width="1"/>
<line x1="506.50" y1="167.5" x2="506.50" y2="169.1" stroke="#444" stroke-width="1"/>
<line x1="539.50" y1="167.5" x2="539.50" y2="170.3" stroke="#444" stroke-width="1"/>
<line x1="572.50" y1="167.5" x2="572.50" y2="169.1" stroke="#444" stroke-width="1"/>
<line x1="605.50" y1="167.5" x2="605.50" y2="170.3" stroke="#444" stroke-width="1"/>
<line x1="638.50" y1="167.5" x2="638.50" y2="169.1" stroke="#444" stroke-width="1"/>
<line x1="671.50" y1="167.5" x2="671.50" y2="170.3" stroke="#444" stroke-width="1"/>
<text x="473.50" y="182.1" font-size="11.3" text-anchor="middle" fill="#1a1a1a">3320</text>
<text x="539.50" y="182.1" font-size="11.3" text-anchor="middle" fill="#1a1a1a">3340</text>
<text x="605.50" y="182.1" font-size="11.3" text-anchor="middle" fill="#1a1a1a">3360</text>
<text x="671.50" y="182.1" font-size="11.3" text-anchor="middle" fill="#1a1a1a">3380</text>
<text x="572.50" y="192.1" font-size="11" text-anchor="middle" fill="#1a1a1a">H (G)</text>
<text transform="translate(467.20,136.20) rotate(-90)" font-size="11.2" fill="#1a1a1a">Intensity (arb. units)</text>
<text x="455.6" y="17.6" font-size="22.5" fill="#000">c</text>
<line x1="495.8" y1="10.5" x2="513.6" y2="10.5" stroke="#223522" stroke-width="1" stroke-opacity="0.75"/>
<text x="517.9" y="13.30" font-size="8.2" fill="#1a1a1a"><tspan font-weight="bold">3</tspan>(OTf)<tspan font-size="5.41" dy="2.2">12</tspan><tspan dy="-2.2"> Light</tspan></text>
<line x1="574.1" y1="10.5" x2="591.9" y2="10.5" stroke="#4f8a30" stroke-width="1" stroke-opacity="0.75"/>
<text x="596.0" y="13.30" font-size="8.2" fill="#1a1a1a"><tspan font-weight="bold">3</tspan>(OTf)<tspan font-size="5.41" dy="2.2">12</tspan><tspan dy="-2.2"> Dark</tspan></text>
<line x1="495.8" y1="22.4" x2="513.6" y2="22.4" stroke="#66dd66" stroke-width="1" stroke-opacity="0.75"/>
<text x="517.9" y="25.20" font-size="8.2" fill="#1a1a1a"><tspan font-weight="bold">E3</tspan>(OTf)<tspan font-size="5.41" dy="2.2">2</tspan><tspan dy="-2.2"> Light</tspan></text>
<line x1="574.1" y1="22.4" x2="591.9" y2="22.4" stroke="#c4e4dc" stroke-width="1" stroke-opacity="0.75"/>
<text x="596.0" y="25.20" font-size="8.2" fill="#1a1a1a"><tspan font-weight="bold">E3</tspan>(OTf)<tspan font-size="5.41" dy="2.2">2</tspan><tspan dy="-2.2"> Dark</tspan></text>
<text x="670.0" y="96.9" font-size="7.9" text-anchor="end" fill="#3c723c">6.58 times</text>
<clipPath id="clipd"><rect x="17.6" y="198.5" width="194.9" height="163.89999999999998"/></clipPath>
<g clip-path="url(#clipd)" fill="none" stroke-linejoin="round">
<path d="M18.10,293.99 L18.60,293.99 L19.10,293.99 L19.60,293.99 L20.10,294.00 L20.60,294.00 L21.10,294.00 L21.60,294.00 L22.10,294.00 L22.60,294.00 L23.10,294.00 L23.60,294.01 L24.10,294.01 L24.60,294.01 L25.10,294.01 L25.60,294.01 L26.10,294.01 L26.60,294.01 L27.10,294.02 L27.60,294.02 L28.10,294.02 L28.60,294.02 L29.10,294.02 L29.60,294.02 L30.10,294.02 L30.60,294.02 L31.10,294.03 L31.60,294.03 L32.10,294.03 L32.60,294.03 L33.10,294.03 L33.60,294.03 L34.10,294.03 L34.60,294.03 L35.10,294.04 L35.60,294.04 L36.10,294.04 L36.60,294.04 L37.10,294.04 L37.60,294.04 L38.10,294.04 L38.60,294.04 L39.10,294.05 L39.60,294.05 L40.10,294.05 L40.60,294.05 L41.10,294.05 L41.60,294.05 L42.10,294.05 L42.60,294.05 L43.10,294.06 L43.60,294.06 L44.10,294.06 L44.60,294.06 L45.10,294.06 L45.60,294.06 L46.10,294.06 L46.60,294.06 L47.10,294.06 L47.60,294.07 L48.10,294.07 L48.60,294.07 L49.10,294.07 L49.60,294.07 L50.10,294.07 L50.60,294.07 L51.10,294.07 L51.60,294.07 L52.10,294.07 L52.60,294.08 L53.10,294.08 L53.60,294.08 L54.10,294.08 L54.60,294.08 L55.10,294.08 L55.60,294.08 L56.10,294.08 L56.60,294.08 L57.10,294.08 L57.60,294.08 L58.10,294.08 L58.60,294.09 L59.10,294.09 L59.60,294.09 L60.10,294.09 L60.60,294.09 L61.10,294.09 L61.60,294.09 L62.10,294.09 L62.60,294.09 L63.10,294.09 L63.60,294.09 L64.10,294.09 L64.60,294.09 L65.10,294.09 L65.60,294.09 L66.10,294.09 L66.60,294.09 L67.10,294.09 L67.60,294.09 L68.10,294.09 L68.60,294.09 L69.10,294.09 L69.60,294.09 L70.10,294.09 L70.60,294.09 L71.10,294.09 L71.60,294.09 L72.10,294.09 L72.60,294.09 L73.10,294.09 L73.60,294.09 L74.10,294.09 L74.60,294.09 L75.10,294.09 L75.60,294.09 L76.10,294.09 L76.60,294.09 L77.10,294.09 L77.60,294.09 L78.10,294.09 L78.60,294.08 L79.10,294.08 L79.60,294.08 L80.10,294.08 L80.60,294.08 L81.10,294.08 L81.60,294.07 L82.10,294.07 L82.60,294.07 L83.10,294.07 L83.60,294.06 L84.10,294.06 L84.60,294.06 L85.10,294.05 L85.60,294.05 L86.10,294.04 L86.60,294.04 L87.10,294.03 L87.60,294.03 L88.10,294.02 L88.60,294.01 L89.10,294.01 L89.60,294.00 L90.10,293.99 L90.60,293.98 L91.10,293.98 L91.60,293.97 L92.10,293.96 L92.60,293.94 L93.10,293.93 L93.60,293.92 L94.10,293.91 L94.60,293.89 L95.10,293.88 L95.60,293.87 L96.10,293.85 L96.60,293.83 L97.10,293.82 L97.60,293.80 L98.10,293.78 L98.60,293.76 L99.10,293.74 L99.60,293.72 L100.10,293.70 L100.60,293.68 L101.10,293.66 L101.60,293.63 L102.10,293.61 L102.60,293.59 L103.10,293.57 L103.60,293.54 L104.10,293.52 L104.60,293.50 L105.10,293.47 L105.60,293.45 L106.10,293.43 L106.60,293.41 L107.10,293.39 L107.60,293.37 L108.10,293.36 L108.60,293.34 L109.10,293.33 L109.60,293.31 L110.10,293.30 L110.60,293.30 L111.10,293.29 L111.60,293.29 L112.10,293.29 L112.60,293.29 L113.10,293.30 L113.60,293.31 L114.10,293.33 L114.60,293.34 L115.10,293.36 L115.60,293.39 L116.10,293.42 L116.60,293.45 L117.10,293.49 L117.60,293.53 L118.10,293.58 L118.60,293.62 L119.10,293.68 L119.60,293.73 L120.10,293.79 L120.60,293.85 L121.10,293.92 L121.60,293.99 L122.10,294.05 L122.60,294.12 L123.10,294.20 L123.60,294.27 L124.10,294.34 L124.60,294.41 L125.10,294.49 L125.60,294.56 L126.10,294.63 L126.60,294.70 L127.10,294.76 L127.60,294.83 L128.10,294.89 L128.60,294.94 L129.10,295.00 L129.60,295.05 L130.10,295.10 L130.60,295.14 L131.10,295.18 L131.60,295.22 L132.10,295.25 L132.60,295.28 L133.10,295.30 L133.60,295.32 L134.10,295.34 L134.60,295.35 L135.10,295.36 L135.60,295.36 L136.10,295.36 L136.60,295.36 L137.10,295.36 L137.60,295.35 L138.10,295.35 L138.60,295.34 L139.10,295.32 L139.60,295.31 L140.10,295.29 L140.60,295.28 L141.10,295.26 L141.60,295.24 L142.10,295.22 L142.60,295.19 L143.10,295.17 L143.60,295.15 L144.10,295.13 L144.60,295.10 L145.10,295.08 L145.60,295.06 L146.10,295.03 L146.60,295.01 L147.10,294.99 L147.60,294.97 L148.10,294.95 L148.60,294.93 L149.10,294.91 L149.60,294.89 L150.10,294.87 L150.60,294.85 L151.10,294.83 L151.60,294.81 L152.10,294.80 L152.60,294.78 L153.10,294.77 L153.60,294.75 L154.10,294.74 L154.60,294.73 L155.10,294.72 L155.60,294.71 L156.10,294.70 L156.60,294.69 L157.10,294.68 L157.60,294.67 L158.10,294.66 L158.60,294.65 L159.10,294.64 L159.60,294.64 L160.10,294.63 L160.60,294.63 L161.10,294.62 L161.60,294.61 L162.10,294.61 L162.60,294.61 L163.10,294.60 L163.60,294.60 L164.10,294.59 L164.60,294.59 L165.10,294.59 L165.60,294.59 L166.10,294.58 L166.60,294.58 L167.10,294.58 L167.60,294.58 L168.10,294.57 L168.60,294.57 L169.10,294.57 L169.60,294.57 L170.10,294.57 L170.60,294.57 L171.10,294.57 L171.60,294.57 L172.10,294.56 L172.60,294.56 L173.10,294.56 L173.60,294.56 L174.10,294.56 L174.60,294.56 L175.10,294.56 L175.60,294.56 L176.10,294.56 L176.60,294.56 L177.10,294.56 L177.60,294.56 L178.10,294.56 L178.60,294.56 L179.10,294.56 L179.60,294.56 L180.10,294.56 L180.60,294.56 L181.10,294.56 L181.60,294.56 L182.10,294.56 L182.60,294.56 L183.10,294.56 L183.60,294.56 L184.10,294.56 L184.60,294.56 L185.10,294.56 L185.60,294.56 L186.10,294.57 L186.60,294.57 L187.10,294.57 L187.60,294.57 L188.10,294.57 L188.60,294.57 L189.10,294.57 L189.60,294.57 L190.10,294.57 L190.60,294.57 L191.10,294.57 L191.60,294.57 L192.10,294.57 L192.60,294.57 L193.10,294.58 L193.60,294.58 L194.10,294.58 L194.60,294.58 L195.10,294.58 L195.60,294.58 L196.10,294.58 L196.60,294.58 L197.10,294.58 L197.60,294.58 L198.10,294.58 L198.60,294.59 L199.10,294.59 L199.60,294.59 L200.10,294.59 L200.60,294.59 L201.10,294.59 L201.60,294.59 L202.10,294.59 L202.60,294.59 L203.10,294.60 L203.60,294.60 L204.10,294.60 L204.60,294.60 L205.10,294.60 L205.60,294.60 L206.10,294.60 L206.60,294.60 L207.10,294.60 L207.60,294.61 L208.10,294.61 L208.60,294.61 L209.10,294.61 L209.60,294.61 L210.10,294.61 L210.60,294.61 L211.10,294.61 L211.60,294.62" stroke="#f2dcb4" stroke-width="1"/>
<path d="M18.10,293.94 L18.60,293.94 L19.10,293.94 L19.60,293.94 L20.10,293.94 L20.60,293.94 L21.10,293.94 L21.60,293.94 L22.10,293.95 L22.60,293.95 L23.10,293.95 L23.60,293.95 L24.10,293.95 L24.60,293.95 L25.10,293.95 L25.60,293.95 L26.10,293.95 L26.60,293.95 L27.10,293.95 L27.60,293.95 L28.10,293.95 L28.60,293.95 L29.10,293.95 L29.60,293.95 L30.10,293.95 L30.60,293.95 L31.10,293.95 L31.60,293.95 L32.10,293.95 L32.60,293.95 L33.10,293.95 L33.60,293.95 L34.10,293.95 L34.60,293.95 L35.10,293.95 L35.60,293.95 L36.10,293.95 L36.60,293.95 L37.10,293.95 L37.60,293.95 L38.10,293.95 L38.60,293.95 L39.10,293.95 L39.60,293.95 L40.10,293.95 L40.60,293.95 L41.10,293.95 L41.60,293.95 L42.10,293.95 L42.60,293.95 L43.10,293.95 L43.60,293.95 L44.10,293.95 L44.60,293.95 L45.10,293.94 L45.60,293.94 L46.10,293.94 L46.60,293.94 L47.10,293.94 L47.60,293.94 L48.10,293.94 L48.60,293.94 L49.10,293.94 L49.60,293.93 L50.10,293.93 L50.60,293.93 L51.10,293.93 L51.60,293.93 L52.10,293.93 L52.60,293.92 L53.10,293.92 L53.60,293.92 L54.10,293.92 L54.60,293.92 L55.10,293.91 L55.60,293.91 L56.10,293.91 L56.60,293.91 L57.10,293.90 L57.60,293.90 L58.10,293.90 L58.60,293.89 L59.10,293.89 L59.60,293.89 L60.10,293.88 L60.60,293.88 L61.10,293.88 L61.60,293.87 L62.10,293.87 L62.60,293.86 L63.10,293.86 L63.60,293.86 L64.10,293.85 L64.60,293.85 L65.10,293.84 L65.60,293.84 L66.10,293.83 L66.60,293.82 L67.10,293.82 L67.60,293.81 L68.10,293.81 L68.60,293.80 L69.10,293.79 L69.60,293.79 L70.10,293.78 L70.60,293.77 L71.10,293.76 L71.60,293.76 L72.10,293.75 L72.60,293.74 L73.10,293.73 L73.60,293.72 L74.10,293.71 L74.60,293.70 L75.10,293.69 L75.60,293.68 L76.10,293.67 L76.60,293.65 L77.10,293.64 L77.60,293.63 L78.10,293.62 L78.60,293.60 L79.10,293.59 L79.60,293.57 L80.10,293.55 L80.60,293.54 L81.10,293.52 L81.60,293.50 L82.10,293.48 L82.60,293.46 L83.10,293.44 L83.60,293.41 L84.10,293.39 L84.60,293.36 L85.10,293.34 L85.60,293.31 L86.10,293.28 L86.60,293.24 L87.10,293.21 L87.60,293.17 L88.10,293.13 L88.60,293.09 L89.10,293.05 L89.60,293.00 L90.10,292.95 L90.60,292.90 L91.10,292.84 L91.60,292.78 L92.10,292.72 L92.60,292.65 L93.10,292.58 L93.60,292.51 L94.10,292.43 L94.60,292.34 L95.10,292.25 L95.60,292.16 L96.10,292.06 L96.60,291.96 L97.10,291.85 L97.60,291.74 L98.10,291.62 L98.60,291.50 L99.10,291.37 L99.60,291.23 L100.10,291.10 L100.60,290.95 L101.10,290.81 L101.60,290.65 L102.10,290.50 L102.60,290.34 L103.10,290.18 L103.60,290.02 L104.10,289.85 L104.60,289.69 L105.10,289.52 L105.60,289.36 L106.10,289.20 L106.60,289.04 L107.10,288.88 L107.60,288.73 L108.10,288.59 L108.60,288.45 L109.10,288.32 L109.60,288.21 L110.10,288.10 L110.60,288.01 L111.10,287.93 L111.60,287.87 L112.10,287.82 L112.60,287.80 L113.10,287.79 L113.60,287.81 L114.10,287.85 L114.60,287.92 L115.10,288.01 L115.60,288.12 L116.10,288.26 L116.60,288.43 L117.10,288.63 L117.60,288.86 L118.10,289.11 L118.60,289.40 L119.10,289.70 L119.60,290.04 L120.10,290.40 L120.60,290.78 L121.10,291.19 L121.60,291.61 L122.10,292.06 L122.60,292.51 L123.10,292.98 L123.60,293.46 L124.10,293.94 L124.60,294.42 L125.10,294.89 L125.60,295.36 L126.10,295.82 L126.60,296.27 L127.10,296.71 L127.60,297.13 L128.10,297.53 L128.60,297.92 L129.10,298.28 L129.60,298.62 L130.10,298.93 L130.60,299.22 L131.10,299.49 L131.60,299.72 L132.10,299.93 L132.60,300.11 L133.10,300.27 L133.60,300.40 L134.10,300.50 L134.60,300.57 L135.10,300.63 L135.60,300.66 L136.10,300.66 L136.60,300.65 L137.10,300.62 L137.60,300.57 L138.10,300.50 L138.60,300.42 L139.10,300.33 L139.60,300.22 L140.10,300.10 L140.60,299.98 L141.10,299.84 L141.60,299.70 L142.10,299.55 L142.60,299.40 L143.10,299.24 L143.60,299.08 L144.10,298.92 L144.60,298.76 L145.10,298.60 L145.60,298.45 L146.10,298.29 L146.60,298.13 L147.10,297.98 L147.60,297.83 L148.10,297.69 L148.60,297.55 L149.10,297.41 L149.60,297.28 L150.10,297.15 L150.60,297.03 L151.10,296.91 L151.60,296.80 L152.10,296.69 L152.60,296.59 L153.10,296.49 L153.60,296.40 L154.10,296.31 L154.60,296.22 L155.10,296.14 L155.60,296.07 L156.10,296.00 L156.60,295.93 L157.10,295.87 L157.60,295.81 L158.10,295.75 L158.60,295.70 L159.10,295.65 L159.60,295.60 L160.10,295.56 L160.60,295.52 L161.10,295.48 L161.60,295.44 L162.10,295.41 L162.60,295.37 L163.10,295.34 L163.60,295.31 L164.10,295.28 L164.60,295.26 L165.10,295.23 L165.60,295.21 L166.10,295.19 L166.60,295.17 L167.10,295.15 L167.60,295.13 L168.10,295.11 L168.60,295.09 L169.10,295.08 L169.60,295.06 L170.10,295.05 L170.60,295.03 L171.10,295.02 L171.60,295.01 L172.10,294.99 L172.60,294.98 L173.10,294.97 L173.60,294.96 L174.10,294.95 L174.60,294.94 L175.10,294.93 L175.60,294.92 L176.10,294.91 L176.60,294.90 L177.10,294.89 L177.60,294.89 L178.10,294.88 L178.60,294.87 L179.10,294.86 L179.60,294.86 L180.10,294.85 L180.60,294.84 L181.10,294.84 L181.60,294.83 L182.10,294.83 L182.60,294.82 L183.10,294.82 L183.60,294.81 L184.10,294.81 L184.60,294.80 L185.10,294.80 L185.60,294.79 L186.10,294.79 L186.60,294.78 L187.10,294.78 L187.60,294.78 L188.10,294.77 L188.60,294.77 L189.10,294.77 L189.60,294.76 L190.10,294.76 L190.60,294.76 L191.10,294.75 L191.60,294.75 L192.10,294.75 L192.60,294.74 L193.10,294.74 L193.60,294.74 L194.10,294.74 L194.60,294.74 L195.10,294.73 L195.60,294.73 L196.10,294.73 L196.60,294.73 L197.10,294.73 L197.60,294.72 L198.10,294.72 L198.60,294.72 L199.10,294.72 L199.60,294.72 L200.10,294.72 L200.60,294.72 L201.10,294.71 L201.60,294.71 L202.10,294.71 L202.60,294.71 L203.10,294.71 L203.60,294.71 L204.10,294.71 L204.60,294.71 L205.10,294.71 L205.60,294.71 L206.10,294.71 L206.60,294.71 L207.10,294.70 L207.60,294.70 L208.10,294.70 L208.60,294.70 L209.10,294.70 L209.60,294.70 L210.10,294.70 L210.60,294.70 L211.10,294.70 L211.60,294.70" stroke="#eaa460" stroke-width="1"/>
<path d="M18.10,293.93 L18.60,293.93 L19.10,293.93 L19.60,293.93 L20.10,293.93 L20.60,293.93 L21.10,293.93 L21.60,293.93 L22.10,293.93 L22.60,293.93 L23.10,293.93 L23.60,293.93 L24.10,293.93 L24.60,293.93 L25.10,293.93 L25.60,293.93 L26.10,293.93 L26.60,293.93 L27.10,293.93 L27.60,293.93 L28.10,293.93 L28.60,293.93 L29.10,293.93 L29.60,293.93 L30.10,293.93 L30.60,293.93 L31.10,293.93 L31.60,293.93 L32.10,293.93 L32.60,293.93 L33.10,293.93 L33.60,293.93 L34.10,293.93 L34.60,293.93 L35.10,293.93 L35.60,293.93 L36.10,293.93 L36.60,293.93 L37.10,293.93 L37.60,293.93 L38.10,293.93 L38.60,293.93 L39.10,293.93 L39.60,293.93 L40.10,293.93 L40.60,293.93 L41.10,293.93 L41.60,293.92 L42.10,293.92 L42.60,293.92 L43.10,293.92 L43.60,293.92 L44.10,293.92 L44.60,293.92 L45.10,293.92 L45.60,293.92 L46.10,293.91 L46.60,293.91 L47.10,293.91 L47.60,293.91 L48.10,293.91 L48.60,293.91 L49.10,293.90 L49.60,293.90 L50.10,293.90 L50.60,293.90 L51.10,293.89 L51.60,293.89 L52.10,293.89 L52.60,293.89 L53.10,293.88 L53.60,293.88 L54.10,293.88 L54.60,293.88 L55.10,293.87 L55.60,293.87 L56.10,293.87 L56.60,293.86 L57.10,293.86 L57.60,293.86 L58.10,293.85 L58.60,293.85 L59.10,293.84 L59.60,293.84 L60.10,293.83 L60.60,293.83 L61.10,293.83 L61.60,293.82 L62.10,293.81 L62.60,293.81 L63.10,293.80 L63.60,293.80 L64.10,293.79 L64.60,293.79 L65.10,293.78 L65.60,293.77 L66.10,293.77 L66.60,293.76 L67.10,293.75 L67.60,293.74 L68.10,293.74 L68.60,293.73 L69.10,293.72 L69.60,293.71 L70.10,293.70 L70.60,293.69 L71.10,293.68 L71.60,293.67 L72.10,293.66 L72.60,293.65 L73.10,293.64 L73.60,293.63 L74.10,293.62 L74.60,293.60 L75.10,293.59 L75.60,293.58 L76.10,293.56 L76.60,293.55 L77.10,293.53 L77.60,293.52 L78.10,293.50 L78.60,293.48 L79.10,293.46 L79.60,293.44 L80.10,293.42 L80.60,293.40 L81.10,293.38 L81.60,293.36 L82.10,293.33 L82.60,293.31 L83.10,293.28 L83.60,293.25 L84.10,293.22 L84.60,293.19 L85.10,293.15 L85.60,293.12 L86.10,293.08 L86.60,293.04 L87.10,293.00 L87.60,292.95 L88.10,292.90 L88.60,292.85 L89.10,292.80 L89.60,292.74 L90.10,292.68 L90.60,292.62 L91.10,292.55 L91.60,292.47 L92.10,292.40 L92.60,292.32 L93.10,292.23 L93.60,292.14 L94.10,292.04 L94.60,291.94 L95.10,291.83 L95.60,291.72 L96.10,291.60 L96.60,291.48 L97.10,291.35 L97.60,291.22 L98.10,291.08 L98.60,290.93 L99.10,290.78 L99.60,290.62 L100.10,290.46 L100.60,290.29 L101.10,290.12 L101.60,289.94 L102.10,289.76 L102.60,289.58 L103.10,289.39 L103.60,289.21 L104.10,289.02 L104.60,288.83 L105.10,288.64 L105.60,288.46 L106.10,288.27 L106.60,288.09 L107.10,287.92 L107.60,287.76 L108.10,287.60 L108.60,287.45 L109.10,287.31 L109.60,287.19 L110.10,287.08 L110.60,286.98 L111.10,286.90 L111.60,286.85 L112.10,286.81 L112.60,286.79 L113.10,286.80 L113.60,286.84 L114.10,286.90 L114.60,286.99 L115.10,287.10 L115.60,287.25 L116.10,287.43 L116.60,287.64 L117.10,287.88 L117.60,288.15 L118.10,288.46 L118.60,288.79 L119.10,289.16 L119.60,289.55 L120.10,289.98 L120.60,290.42 L121.10,290.89 L121.60,291.38 L122.10,291.89 L122.60,292.42 L123.10,292.96 L123.60,293.50 L124.10,294.05 L124.60,294.65 L125.10,295.29 L125.60,295.92 L126.10,296.54 L126.60,297.15 L127.10,297.74 L127.60,298.31 L128.10,298.86 L128.60,299.38 L129.10,299.86 L129.60,300.32 L130.10,300.75 L130.60,301.13 L131.10,301.49 L131.60,301.80 L132.10,302.08 L132.60,302.33 L133.10,302.53 L133.60,302.70 L134.10,302.84 L134.60,302.94 L135.10,303.01 L135.60,303.05 L136.10,303.06 L136.60,303.05 L137.10,303.00 L137.60,302.94 L138.10,302.85 L138.60,302.74 L139.10,302.61 L139.60,302.46 L140.10,302.30 L140.60,302.13 L141.10,301.95 L141.60,301.75 L142.10,301.55 L142.60,301.34 L143.10,301.13 L143.60,300.92 L144.10,300.70 L144.60,300.48 L145.10,300.26 L145.60,300.04 L146.10,299.83 L146.60,299.62 L147.10,299.41 L147.60,299.20 L148.10,299.00 L148.60,298.81 L149.10,298.62 L149.60,298.44 L150.10,298.26 L150.60,298.09 L151.10,297.93 L151.60,297.77 L152.10,297.62 L152.60,297.48 L153.10,297.34 L153.60,297.21 L154.10,297.08 L154.60,296.97 L155.10,296.85 L155.60,296.75 L156.10,296.65 L156.60,296.55 L157.10,296.46 L157.60,296.38 L158.10,296.30 L158.60,296.22 L159.10,296.15 L159.60,296.09 L160.10,296.02 L160.60,295.96 L161.10,295.91 L161.60,295.85 L162.10,295.80 L162.60,295.76 L163.10,295.71 L163.60,295.67 L164.10,295.63 L164.60,295.59 L165.10,295.56 L165.60,295.52 L166.10,295.49 L166.60,295.46 L167.10,295.43 L167.60,295.41 L168.10,295.38 L168.60,295.36 L169.10,295.33 L169.60,295.31 L170.10,295.29 L170.60,295.27 L171.10,295.25 L171.60,295.23 L172.10,295.21 L172.60,295.19 L173.10,295.18 L173.60,295.16 L174.10,295.14 L174.60,295.13 L175.10,295.11 L175.60,295.10 L176.10,295.09 L176.60,295.08 L177.10,295.06 L177.60,295.05 L178.10,295.04 L178.60,295.03 L179.10,295.02 L179.60,295.01 L180.10,295.00 L180.60,294.99 L181.10,294.98 L181.60,294.97 L182.10,294.96 L182.60,294.95 L183.10,294.94 L183.60,294.94 L184.10,294.93 L184.60,294.92 L185.10,294.91 L185.60,294.91 L186.10,294.90 L186.60,294.89 L187.10,294.89 L187.60,294.88 L188.10,294.88 L188.60,294.87 L189.10,294.86 L189.60,294.86 L190.10,294.85 L190.60,294.85 L191.10,294.84 L191.60,294.84 L192.10,294.84 L192.60,294.83 L193.10,294.83 L193.60,294.82 L194.10,294.82 L194.60,294.82 L195.10,294.81 L195.60,294.81 L196.10,294.81 L196.60,294.80 L197.10,294.80 L197.60,294.80 L198.10,294.79 L198.60,294.79 L199.10,294.79 L199.60,294.79 L200.10,294.78 L200.60,294.78 L201.10,294.78 L201.60,294.78 L202.10,294.77 L202.60,294.77 L203.10,294.77 L203.60,294.77 L204.10,294.77 L204.60,294.76 L205.10,294.76 L205.60,294.76 L206.10,294.76 L206.60,294.76 L207.10,294.76 L207.60,294.76 L208.10,294.75 L208.60,294.75 L209.10,294.75 L209.60,294.75 L210.10,294.75 L210.60,294.75 L211.10,294.75 L211.60,294.75" stroke="#d9823c" stroke-width="1"/>
<path d="M18.10,293.71 L18.60,293.71 L19.10,293.70 L19.60,293.70 L20.10,293.70 L20.60,293.70 L21.10,293.69 L21.60,293.69 L22.10,293.69 L22.60,293.68 L23.10,293.68 L23.60,293.68 L24.10,293.67 L24.60,293.67 L25.10,293.67 L25.60,293.66 L26.10,293.66 L26.60,293.66 L27.10,293.65 L27.60,293.65 L28.10,293.64 L28.60,293.64 L29.10,293.63 L29.60,293.63 L30.10,293.63 L30.60,293.62 L31.10,293.62 L31.60,293.61 L32.10,293.61 L32.60,293.60 L33.10,293.59 L33.60,293.59 L34.10,293.58 L34.60,293.58 L35.10,293.57 L35.60,293.57 L36.10,293.56 L36.60,293.55 L37.10,293.55 L37.60,293.54 L38.10,293.53 L38.60,293.52 L39.10,293.52 L39.60,293.51 L40.10,293.50 L40.60,293.49 L41.10,293.48 L41.60,293.48 L42.10,293.47 L42.60,293.46 L43.10,293.45 L43.60,293.44 L44.10,293.43 L44.60,293.42 L45.10,293.41 L45.60,293.40 L46.10,293.39 L46.60,293.38 L47.10,293.36 L47.60,293.35 L48.10,293.34 L48.60,293.33 L49.10,293.31 L49.60,293.30 L50.10,293.28 L50.60,293.27 L51.10,293.25 L51.60,293.24 L52.10,293.22 L52.60,293.20 L53.10,293.18 L53.60,293.16 L54.10,293.14 L54.60,293.12 L55.10,293.10 L55.60,293.07 L56.10,293.05 L56.60,293.02 L57.10,292.99 L57.60,292.96 L58.10,292.93 L58.60,292.90 L59.10,292.86 L59.60,292.83 L60.10,292.79 L60.60,292.74 L61.10,292.70 L61.60,292.65 L62.10,292.60 L62.60,292.55 L63.10,292.49 L63.60,292.43 L64.10,292.37 L64.60,292.31 L65.10,292.24 L65.60,292.17 L66.10,292.09 L66.60,292.02 L67.10,291.94 L67.60,291.85 L68.10,291.77 L68.60,291.68 L69.10,291.58 L69.60,291.49 L70.10,291.39 L70.60,291.29 L71.10,291.19 L71.60,291.09 L72.10,290.99 L72.60,290.88 L73.10,290.78 L73.60,290.67 L74.10,290.57 L74.60,290.47 L75.10,290.36 L75.60,290.26 L76.10,290.16 L76.60,290.06 L77.10,289.96 L77.60,289.86 L78.10,289.76 L78.60,289.67 L79.10,289.58 L79.60,289.49 L80.10,289.40 L80.60,289.31 L81.10,289.23 L81.60,289.14 L82.10,289.06 L82.60,288.97 L83.10,288.89 L83.60,288.81 L84.10,288.72 L84.60,288.63 L85.10,288.54 L85.60,288.45 L86.10,288.35 L86.60,288.25 L87.10,288.14 L87.60,288.02 L88.10,287.90 L88.60,287.76 L89.10,287.62 L89.60,287.46 L90.10,287.29 L90.60,287.11 L91.10,286.90 L91.60,286.68 L92.10,286.44 L92.60,286.17 L93.10,285.88 L93.60,285.56 L94.10,285.21 L94.60,284.83 L95.10,284.41 L95.60,283.96 L96.10,283.46 L96.60,282.92 L97.10,282.33 L97.60,281.69 L98.10,280.99 L98.60,280.23 L99.10,279.42 L99.60,278.53 L100.10,277.58 L100.60,276.55 L101.10,275.45 L101.60,274.28 L102.10,273.02 L102.60,271.68 L103.10,270.26 L103.60,268.75 L104.10,267.17 L104.60,265.50 L105.10,263.76 L105.60,261.94 L106.10,260.05 L106.60,258.10 L107.10,256.10 L107.60,254.05 L108.10,251.96 L108.60,249.86 L109.10,247.74 L109.60,245.64 L110.10,243.56 L110.60,241.52 L111.10,239.55 L111.60,237.67 L112.10,235.90 L112.60,234.26 L113.10,232.78 L113.60,231.49 L114.10,230.42 L114.60,229.58 L115.10,229.01 L115.60,228.73 L116.10,228.76 L116.60,229.14 L117.10,229.87 L117.60,230.98 L118.10,232.48 L118.60,234.39 L119.10,236.71 L119.60,239.45 L120.10,242.59 L120.60,246.14 L121.10,250.08 L121.60,254.39 L122.10,259.04 L122.60,264.00 L123.10,269.23 L123.60,274.70 L124.10,280.35 L124.60,286.12 L125.10,291.98 L125.60,297.76 L126.10,303.45 L126.60,309.04 L127.10,314.50 L127.60,319.78 L128.10,324.82 L128.60,329.59 L129.10,334.04 L129.60,338.16 L130.10,341.92 L130.60,345.29 L131.10,348.27 L131.60,350.85 L132.10,353.03 L132.60,354.81 L133.10,356.19 L133.60,357.20 L134.10,357.84 L134.60,358.13 L135.10,358.11 L135.60,357.77 L136.10,357.16 L136.60,356.30 L137.10,355.21 L137.60,353.92 L138.10,352.45 L138.60,350.83 L139.10,349.08 L139.60,347.23 L140.10,345.30 L140.60,343.31 L141.10,341.28 L141.60,339.22 L142.10,337.17 L142.60,335.12 L143.10,333.10 L143.60,331.11 L144.10,329.17 L144.60,327.28 L145.10,325.45 L145.60,323.69 L146.10,322.00 L146.60,320.39 L147.10,318.86 L147.60,317.41 L148.10,316.03 L148.60,314.73 L149.10,313.51 L149.60,312.37 L150.10,311.30 L150.60,310.30 L151.10,309.37 L151.60,308.51 L152.10,307.70 L152.60,306.96 L153.10,306.27 L153.60,305.63 L154.10,305.03 L154.60,304.49 L155.10,303.98 L155.60,303.51 L156.10,303.07 L156.60,302.67 L157.10,302.30 L157.60,301.95 L158.10,301.62 L158.60,301.32 L159.10,301.04 L159.60,300.78 L160.10,300.54 L160.60,300.31 L161.10,300.09 L161.60,299.89 L162.10,299.70 L162.60,299.52 L163.10,299.35 L163.60,299.18 L164.10,299.03 L164.60,298.89 L165.10,298.75 L165.60,298.61 L166.10,298.49 L166.60,298.37 L167.10,298.25 L167.60,298.14 L168.10,298.03 L168.60,297.93 L169.10,297.83 L169.60,297.74 L170.10,297.65 L170.60,297.56 L171.10,297.48 L171.60,297.40 L172.10,297.32 L172.60,297.24 L173.10,297.17 L173.60,297.10 L174.10,297.03 L174.60,296.97 L175.10,296.90 L175.60,296.84 L176.10,296.78 L176.60,296.73 L177.10,296.67 L177.60,296.62 L178.10,296.57 L178.60,296.52 L179.10,296.47 L179.60,296.42 L180.10,296.38 L180.60,296.34 L181.10,296.29 L181.60,296.25 L182.10,296.21 L182.60,296.18 L183.10,296.14 L183.60,296.10 L184.10,296.07 L184.60,296.03 L185.10,296.00 L185.60,295.97 L186.10,295.94 L186.60,295.91 L187.10,295.88 L187.60,295.85 L188.10,295.82 L188.60,295.80 L189.10,295.77 L189.60,295.75 L190.10,295.72 L190.60,295.70 L191.10,295.68 L191.60,295.65 L192.10,295.63 L192.60,295.61 L193.10,295.59 L193.60,295.57 L194.10,295.55 L194.60,295.53 L195.10,295.52 L195.60,295.50 L196.10,295.48 L196.60,295.47 L197.10,295.45 L197.60,295.43 L198.10,295.42 L198.60,295.40 L199.10,295.39 L199.60,295.37 L200.10,295.36 L200.60,295.35 L201.10,295.33 L201.60,295.32 L202.10,295.31 L202.60,295.30 L203.10,295.29 L203.60,295.27 L204.10,295.26 L204.60,295.25 L205.10,295.24 L205.60,295.23 L206.10,295.22 L206.60,295.21 L207.10,295.20 L207.60,295.19 L208.10,295.19 L208.60,295.18 L209.10,295.17 L209.60,295.16 L210.10,295.15 L210.60,295.14 L211.10,295.14 L211.60,295.13" stroke="#7b3a20" stroke-width="1"/>
</g>
<rect x="17.6" y="198.5" width="194.9" height="163.89999999999998" fill="none" stroke="#444" stroke-width="1"/>
<line x1="17.60" y1="362.4" x2="17.60" y2="365.2" stroke="#444" stroke-width="1"/>
<line x1="50.08" y1="362.4" x2="50.08" y2="364.0" stroke="#444" stroke-width="1"/>
<line x1="82.57" y1="362.4" x2="82.57" y2="365.2" stroke="#444" stroke-width="1"/>
<line x1="115.05" y1="362.4" x2="115.05" y2="364.0" stroke="#444" stroke-width="1"/>
<line x1="147.53" y1="362.4" x2="147.53" y2="365.2" stroke="#444" stroke-width="1"/>
<line x1="180.02" y1="362.4" x2="180.02" y2="364.0" stroke="#444" stroke-width="1"/>
<line x1="212.50" y1="362.4" x2="212.50" y2="365.2" stroke="#444" stroke-width="1"/>
<text x="17.60" y="377.0" font-size="11.3" text-anchor="middle" fill="#1a1a1a">3320</text>
<text x="82.57" y="377.0" font-size="11.3" text-anchor="middle" fill="#1a1a1a">3340</text>
<text x="147.53" y="377.0" font-size="11.3" text-anchor="middle" fill="#1a1a1a">3360</text>
<text x="212.50" y="377.0" font-size="11.3" text-anchor="middle" fill="#1a1a1a">3380</text>
<text x="115.05" y="386.7" font-size="11" text-anchor="middle" fill="#1a1a1a">H (G)</text>
<text transform="translate(10.50,329.90) rotate(-90)" font-size="11.2" fill="#1a1a1a">Intensity (arb. units)</text>
<text x="4.2" y="213.5" font-size="22.5" fill="#000">d</text>
<line x1="41.7" y1="208.8" x2="59.3" y2="208.8" stroke="#b87050" stroke-width="1" stroke-opacity="0.75"/>
<text x="63.6" y="211.60" font-size="8.2" fill="#1a1a1a"><tspan font-weight="bold">4</tspan>(OTf)<tspan font-size="5.41" dy="2.2">12</tspan><tspan dy="-2.2"> Light</tspan></text>
<line x1="118.9" y1="208.8" x2="136.9" y2="208.8" stroke="#eba07c" stroke-width="1" stroke-opacity="0.75"/>
<text x="140.3" y="211.60" font-size="8.2" fill="#1a1a1a"><tspan font-weight="bold">4</tspan>(OTf)<tspan font-size="5.41" dy="2.2">12</tspan><tspan dy="-2.2"> Dark</tspan></text>
<line x1="41.7" y1="220.5" x2="59.3" y2="220.5" stroke="#eaa460" stroke-width="1" stroke-opacity="0.75"/>
<text x="63.6" y="223.30" font-size="8.2" fill="#1a1a1a"><tspan font-weight="bold">E4</tspan>(OTf)<tspan font-size="5.41" dy="2.2">2</tspan><tspan dy="-2.2"> Light</tspan></text>
<line x1="118.9" y1="220.5" x2="136.9" y2="220.5" stroke="#e6daae" stroke-width="1" stroke-opacity="0.75"/>
<text x="140.3" y="223.30" font-size="8.2" fill="#1a1a1a"><tspan font-weight="bold">E4</tspan>(OTf)<tspan font-size="5.41" dy="2.2">2</tspan><tspan dy="-2.2"> Dark</tspan></text>
<text x="210.4" y="292.8" font-size="7.9" text-anchor="end" fill="#dc8a46">11.66 times</text>
<clipPath id="clipe"><rect x="244.4" y="197.3" width="195.20000000000002" height="163.89999999999998"/></clipPath>
<g clip-path="url(#clipe)" fill="none" stroke-linejoin="round">
<path d="M244.90,289.18 L245.40,289.18 L245.90,289.18 L246.40,289.19 L246.90,289.19 L247.40,289.19 L247.90,289.19 L248.40,289.20 L248.90,289.20 L249.40,289.20 L249.90,289.20 L250.40,289.21 L250.90,289.21 L251.40,289.21 L251.90,289.22 L252.40,289.22 L252.90,289.22 L253.40,289.22 L253.90,289.23 L254.40,289.23 L254.90,289.23 L255.40,289.23 L255.90,289.24 L256.40,289.24 L256.90,289.24 L257.40,289.24 L257.90,289.25 L258.40,289.25 L258.90,289.25 L259.40,289.25 L259.90,289.26 L260.40,289.26 L260.90,289.26 L261.40,289.26 L261.90,289.27 L262.40,289.27 L262.90,289.27 L263.40,289.27 L263.90,289.28 L264.40,289.28 L264.90,289.28 L265.40,289.28 L265.90,289.29 L266.40,289.29 L266.90,289.29 L267.40,289.29 L267.90,289.29 L268.40,289.30 L268.90,289.30 L269.40,289.30 L269.90,289.30 L270.40,289.31 L270.90,289.31 L271.40,289.31 L271.90,289.31 L272.40,289.31 L272.90,289.32 L273.40,289.32 L273.90,289.32 L274.40,289.32 L274.90,289.32 L275.40,289.33 L275.90,289.33 L276.40,289.33 L276.90,289.33 L277.40,289.33 L277.90,289.34 L278.40,289.34 L278.90,289.34 L279.40,289.34 L279.90,289.34 L280.40,289.34 L280.90,289.35 L281.40,289.35 L281.90,289.35 L282.40,289.35 L282.90,289.35 L283.40,289.35 L283.90,289.35 L284.40,289.36 L284.90,289.36 L285.40,289.36 L285.90,289.36 L286.40,289.36 L286.90,289.36 L287.40,289.36 L287.90,289.36 L288.40,289.36 L288.90,289.36 L289.40,289.37 L289.90,289.37 L290.40,289.37 L290.90,289.37 L291.40,289.37 L291.90,289.37 L292.40,289.37 L292.90,289.37 L293.40,289.37 L293.90,289.37 L294.40,289.37 L294.90,289.37 L295.40,289.37 L295.90,289.37 L296.40,289.37 L296.90,289.37 L297.40,289.37 L297.90,289.37 L298.40,289.37 L298.90,289.36 L299.40,289.36 L299.90,289.36 L300.40,289.36 L300.90,289.36 L301.40,289.36 L301.90,289.36 L302.40,289.35 L302.90,289.35 L303.40,289.35 L303.90,289.35 L304.40,289.35 L304.90,289.34 L305.40,289.34 L305.90,289.34 L306.40,289.33 L306.90,289.33 L307.40,289.33 L307.90,289.32 L308.40,289.32 L308.90,289.31 L309.40,289.31 L309.90,289.30 L310.40,289.30 L310.90,289.29 L311.40,289.28 L311.90,289.28 L312.40,289.27 L312.90,289.26 L313.40,289.26 L313.90,289.25 L314.40,289.24 L314.90,289.23 L315.40,289.22 L315.90,289.21 L316.40,289.20 L316.90,289.19 L317.40,289.17 L317.90,289.16 L318.40,289.14 L318.90,289.13 L319.40,289.11 L319.90,289.09 L320.40,289.08 L320.90,289.06 L321.40,289.03 L321.90,289.01 L322.40,288.99 L322.90,288.96 L323.40,288.93 L323.90,288.90 L324.40,288.87 L324.90,288.83 L325.40,288.79 L325.90,288.75 L326.40,288.71 L326.90,288.66 L327.40,288.61 L327.90,288.56 L328.40,288.51 L328.90,288.45 L329.40,288.38 L329.90,288.31 L330.40,288.24 L330.90,288.17 L331.40,288.09 L331.90,288.01 L332.40,287.92 L332.90,287.83 L333.40,287.73 L333.90,287.64 L334.40,287.53 L334.90,287.43 L335.40,287.32 L335.90,287.21 L336.40,287.10 L336.90,286.99 L337.40,286.88 L337.90,286.77 L338.40,286.66 L338.90,286.55 L339.40,286.44 L339.90,286.34 L340.40,286.25 L340.90,286.16 L341.40,286.07 L341.90,286.00 L342.40,285.94 L342.90,285.89 L343.40,285.85 L343.90,285.82 L344.40,285.82 L344.90,285.82 L345.40,285.85 L345.90,285.90 L346.40,285.96 L346.90,286.05 L347.40,286.16 L347.90,286.29 L348.40,286.45 L348.90,286.63 L349.40,286.83 L349.90,287.05 L350.40,287.30 L350.90,287.56 L351.40,287.84 L351.90,288.14 L352.40,288.46 L352.90,288.78 L353.40,289.12 L353.90,289.46 L354.40,289.81 L354.90,290.18 L355.40,290.56 L355.90,290.93 L356.40,291.30 L356.90,291.65 L357.40,291.98 L357.90,292.30 L358.40,292.60 L358.90,292.88 L359.40,293.13 L359.90,293.36 L360.40,293.57 L360.90,293.75 L361.40,293.91 L361.90,294.04 L362.40,294.14 L362.90,294.22 L363.40,294.28 L363.90,294.32 L364.40,294.34 L364.90,294.33 L365.40,294.31 L365.90,294.28 L366.40,294.23 L366.90,294.16 L367.40,294.08 L367.90,294.00 L368.40,293.90 L368.90,293.80 L369.40,293.69 L369.90,293.57 L370.40,293.46 L370.90,293.33 L371.40,293.21 L371.90,293.09 L372.40,292.96 L372.90,292.84 L373.40,292.72 L373.90,292.60 L374.40,292.49 L374.90,292.37 L375.40,292.26 L375.90,292.16 L376.40,292.06 L376.90,291.96 L377.40,291.87 L377.90,291.78 L378.40,291.69 L378.90,291.61 L379.40,291.54 L379.90,291.46 L380.40,291.40 L380.90,291.33 L381.40,291.27 L381.90,291.22 L382.40,291.16 L382.90,291.11 L383.40,291.07 L383.90,291.02 L384.40,290.98 L384.90,290.95 L385.40,290.91 L385.90,290.88 L386.40,290.85 L386.90,290.82 L387.40,290.79 L387.90,290.77 L388.40,290.75 L388.90,290.72 L389.40,290.70 L389.90,290.68 L390.40,290.67 L390.90,290.65 L391.40,290.63 L391.90,290.62 L392.40,290.61 L392.90,290.59 L393.40,290.58 L393.90,290.57 L394.40,290.56 L394.90,290.55 L395.40,290.54 L395.90,290.53 L396.40,290.52 L396.90,290.51 L397.40,290.50 L397.90,290.50 L398.40,290.49 L398.90,290.48 L399.40,290.48 L399.90,290.47 L400.40,290.47 L400.90,290.46 L401.40,290.46 L401.90,290.45 L402.40,290.45 L402.90,290.44 L403.40,290.44 L403.90,290.44 L404.40,290.43 L404.90,290.43 L405.40,290.43 L405.90,290.42 L406.40,290.42 L406.90,290.42 L407.40,290.42 L407.90,290.41 L408.40,290.41 L408.90,290.41 L409.40,290.41 L409.90,290.41 L410.40,290.41 L410.90,290.40 L411.40,290.40 L411.90,290.40 L412.40,290.40 L412.90,290.40 L413.40,290.40 L413.90,290.40 L414.40,290.40 L414.90,290.40 L415.40,290.40 L415.90,290.40 L416.40,290.40 L416.90,290.40 L417.40,290.40 L417.90,290.40 L418.40,290.40 L418.90,290.40 L419.40,290.40 L419.90,290.40 L420.40,290.40 L420.90,290.40 L421.40,290.40 L421.90,290.40 L422.40,290.40 L422.90,290.40 L423.40,290.41 L423.90,290.41 L424.40,290.41 L424.90,290.41 L425.40,290.41 L425.90,290.41 L426.40,290.41 L426.90,290.41 L427.40,290.41 L427.90,290.42 L428.40,290.42 L428.90,290.42 L429.40,290.42 L429.90,290.42 L430.40,290.42 L430.90,290.43 L431.40,290.43 L431.90,290.43 L432.40,290.43 L432.90,290.43 L433.40,290.43 L433.90,290.44 L434.40,290.44 L434.90,290.44 L435.40,290.44 L435.90,290.44 L436.40,290.44 L436.90,290.45 L437.40,290.45 L437.90,290.45 L438.40,290.45 L438.90,290.45" stroke="#f2c4cc" stroke-width="1"/>
<path d="M244.90,289.14 L245.40,289.15 L245.90,289.15 L246.40,289.15 L246.90,289.15 L247.40,289.16 L247.90,289.16 L248.40,289.16 L248.90,289.16 L249.40,289.16 L249.90,289.17 L250.40,289.17 L250.90,289.17 L251.40,289.17 L251.90,289.17 L252.40,289.18 L252.90,289.18 L253.40,289.18 L253.90,289.18 L254.40,289.19 L254.90,289.19 L255.40,289.19 L255.90,289.19 L256.40,289.19 L256.90,289.19 L257.40,289.20 L257.90,289.20 L258.40,289.20 L258.90,289.20 L259.40,289.20 L259.90,289.21 L260.40,289.21 L260.90,289.21 L261.40,289.21 L261.90,289.21 L262.40,289.21 L262.90,289.21 L263.40,289.22 L263.90,289.22 L264.40,289.22 L264.90,289.22 L265.40,289.22 L265.90,289.22 L266.40,289.22 L266.90,289.23 L267.40,289.23 L267.90,289.23 L268.40,289.23 L268.90,289.23 L269.40,289.23 L269.90,289.23 L270.40,289.23 L270.90,289.23 L271.40,289.24 L271.90,289.24 L272.40,289.24 L272.90,289.24 L273.40,289.24 L273.90,289.24 L274.40,289.24 L274.90,289.24 L275.40,289.24 L275.90,289.24 L276.40,289.24 L276.90,289.24 L277.40,289.24 L277.90,289.24 L278.40,289.24 L278.90,289.24 L279.40,289.24 L279.90,289.24 L280.40,289.24 L280.90,289.24 L281.40,289.24 L281.90,289.24 L282.40,289.24 L282.90,289.24 L283.40,289.24 L283.90,289.24 L284.40,289.24 L284.90,289.23 L285.40,289.23 L285.90,289.23 L286.40,289.23 L286.90,289.23 L287.40,289.23 L287.90,289.22 L288.40,289.22 L288.90,289.22 L289.40,289.22 L289.90,289.22 L290.40,289.21 L290.90,289.21 L291.40,289.21 L291.90,289.20 L292.40,289.20 L292.90,289.20 L293.40,289.19 L293.90,289.19 L294.40,289.19 L294.90,289.18 L295.40,289.18 L295.90,289.17 L296.40,289.17 L296.90,289.16 L297.40,289.16 L297.90,289.15 L298.40,289.14 L298.90,289.14 L299.40,289.13 L299.90,289.12 L300.40,289.12 L300.90,289.11 L301.40,289.10 L301.90,289.09 L302.40,289.08 L302.90,289.08 L303.40,289.07 L303.90,289.06 L304.40,289.05 L304.90,289.04 L305.40,289.02 L305.90,289.01 L306.40,289.00 L306.90,288.99 L307.40,288.97 L307.90,288.96 L308.40,288.95 L308.90,288.93 L309.40,288.91 L309.90,288.90 L310.40,288.88 L310.90,288.86 L311.40,288.84 L311.90,288.82 L312.40,288.80 L312.90,288.78 L313.40,288.76 L313.90,288.74 L314.40,288.71 L314.90,288.68 L315.40,288.66 L315.90,288.63 L316.40,288.60 L316.90,288.57 L317.40,288.53 L317.90,288.50 L318.40,288.46 L318.90,288.42 L319.40,288.38 L319.90,288.33 L320.40,288.28 L320.90,288.23 L321.40,288.18 L321.90,288.12 L322.40,288.06 L322.90,288.00 L323.40,287.93 L323.90,287.85 L324.40,287.77 L324.90,287.69 L325.40,287.59 L325.90,287.50 L326.40,287.39 L326.90,287.28 L327.40,287.16 L327.90,287.03 L328.40,286.89 L328.90,286.74 L329.40,286.59 L329.90,286.42 L330.40,286.24 L330.90,286.06 L331.40,285.86 L331.90,285.65 L332.40,285.43 L332.90,285.20 L333.40,284.95 L333.90,284.70 L334.40,284.43 L334.90,284.16 L335.40,283.88 L335.90,283.59 L336.40,283.29 L336.90,282.99 L337.40,282.68 L337.90,282.37 L338.40,282.06 L338.90,281.76 L339.40,281.46 L339.90,281.16 L340.40,280.88 L340.90,280.61 L341.40,280.36 L341.90,280.13 L342.40,279.93 L342.90,279.75 L343.40,279.61 L343.90,279.50 L344.40,279.44 L344.90,279.42 L345.40,279.45 L345.90,279.53 L346.40,279.66 L346.90,279.86 L347.40,280.11 L347.90,280.43 L348.40,280.81 L348.90,281.26 L349.40,281.77 L349.90,282.35 L350.40,282.98 L350.90,283.68 L351.40,284.43 L351.90,285.22 L352.40,286.06 L352.90,286.93 L353.40,287.84 L353.90,288.76 L354.40,289.69 L354.90,290.57 L355.40,291.42 L355.90,292.26 L356.40,293.08 L356.90,293.87 L357.40,294.62 L357.90,295.33 L358.40,295.99 L358.90,296.60 L359.40,297.15 L359.90,297.65 L360.40,298.09 L360.90,298.47 L361.40,298.78 L361.90,299.04 L362.40,299.24 L362.90,299.39 L363.40,299.49 L363.90,299.53 L364.40,299.53 L364.90,299.49 L365.40,299.40 L365.90,299.28 L366.40,299.13 L366.90,298.95 L367.40,298.75 L367.90,298.53 L368.40,298.29 L368.90,298.03 L369.40,297.76 L369.90,297.49 L370.40,297.21 L370.90,296.93 L371.40,296.64 L371.90,296.36 L372.40,296.08 L372.90,295.80 L373.40,295.53 L373.90,295.27 L374.40,295.01 L374.90,294.76 L375.40,294.53 L375.90,294.30 L376.40,294.08 L376.90,293.87 L377.40,293.67 L377.90,293.49 L378.40,293.31 L378.90,293.14 L379.40,292.98 L379.90,292.84 L380.40,292.70 L380.90,292.57 L381.40,292.45 L381.90,292.33 L382.40,292.23 L382.90,292.13 L383.40,292.03 L383.90,291.95 L384.40,291.87 L384.90,291.79 L385.40,291.72 L385.90,291.65 L386.40,291.59 L386.90,291.53 L387.40,291.48 L387.90,291.43 L388.40,291.38 L388.90,291.34 L389.40,291.29 L389.90,291.25 L390.40,291.22 L390.90,291.18 L391.40,291.15 L391.90,291.12 L392.40,291.09 L392.90,291.06 L393.40,291.03 L393.90,291.01 L394.40,290.98 L394.90,290.96 L395.40,290.94 L395.90,290.92 L396.40,290.90 L396.90,290.88 L397.40,290.86 L397.90,290.84 L398.40,290.82 L398.90,290.81 L399.40,290.79 L399.90,290.78 L400.40,290.76 L400.90,290.75 L401.40,290.74 L401.90,290.72 L402.40,290.71 L402.90,290.70 L403.40,290.69 L403.90,290.68 L404.40,290.67 L404.90,290.66 L405.40,290.65 L405.90,290.64 L406.40,290.64 L406.90,290.63 L407.40,290.62 L407.90,290.61 L408.40,290.61 L408.90,290.60 L409.40,290.59 L409.90,290.59 L410.40,290.58 L410.90,290.58 L411.40,290.57 L411.90,290.57 L412.40,290.56 L412.90,290.56 L413.40,290.55 L413.90,290.55 L414.40,290.54 L414.90,290.54 L415.40,290.54 L415.90,290.53 L416.40,290.53 L416.90,290.53 L417.40,290.53 L417.90,290.52 L418.40,290.52 L418.90,290.52 L419.40,290.52 L419.90,290.51 L420.40,290.51 L420.90,290.51 L421.40,290.51 L421.90,290.51 L422.40,290.51 L422.90,290.51 L423.40,290.50 L423.90,290.50 L424.40,290.50 L424.90,290.50 L425.40,290.50 L425.90,290.50 L426.40,290.50 L426.90,290.50 L427.40,290.50 L427.90,290.50 L428.40,290.50 L428.90,290.50 L429.40,290.50 L429.90,290.50 L430.40,290.50 L430.90,290.50 L431.40,290.50 L431.90,290.50 L432.40,290.50 L432.90,290.50 L433.40,290.50 L433.90,290.50 L434.40,290.50 L434.90,290.50 L435.40,290.50 L435.90,290.50 L436.40,290.51 L436.90,290.51 L437.40,290.51 L437.90,290.51 L438.40,290.51 L438.90,290.51" stroke="#e2607e" stroke-width="1"/>
<path d="M244.90,289.11 L245.40,289.11 L245.90,289.11 L246.40,289.12 L246.90,289.12 L247.40,289.12 L247.90,289.12 L248.40,289.12 L248.90,289.13 L249.40,289.13 L249.90,289.13 L250.40,289.13 L250.90,289.13 L251.40,289.13 L251.90,289.13 L252.40,289.14 L252.90,289.14 L253.40,289.14 L253.90,289.14 L254.40,289.14 L254.90,289.14 L255.40,289.14 L255.90,289.15 L256.40,289.15 L256.90,289.15 L257.40,289.15 L257.90,289.15 L258.40,289.15 L258.90,289.15 L259.40,289.15 L259.90,289.15 L260.40,289.16 L260.90,289.16 L261.40,289.16 L261.90,289.16 L262.40,289.16 L262.90,289.16 L263.40,289.16 L263.90,289.16 L264.40,289.16 L264.90,289.16 L265.40,289.16 L265.90,289.16 L266.40,289.16 L266.90,289.16 L267.40,289.16 L267.90,289.16 L268.40,289.16 L268.90,289.16 L269.40,289.16 L269.90,289.16 L270.40,289.16 L270.90,289.16 L271.40,289.16 L271.90,289.16 L272.40,289.16 L272.90,289.16 L273.40,289.16 L273.90,289.16 L274.40,289.16 L274.90,289.16 L275.40,289.16 L275.90,289.15 L276.40,289.15 L276.90,289.15 L277.40,289.15 L277.90,289.15 L278.40,289.15 L278.90,289.15 L279.40,289.14 L279.90,289.14 L280.40,289.14 L280.90,289.14 L281.40,289.13 L281.90,289.13 L282.40,289.13 L282.90,289.13 L283.40,289.12 L283.90,289.12 L284.40,289.12 L284.90,289.11 L285.40,289.11 L285.90,289.11 L286.40,289.10 L286.90,289.10 L287.40,289.09 L287.90,289.09 L288.40,289.08 L288.90,289.08 L289.40,289.07 L289.90,289.07 L290.40,289.06 L290.90,289.05 L291.40,289.05 L291.90,289.04 L292.40,289.03 L292.90,289.03 L293.40,289.02 L293.90,289.01 L294.40,289.00 L294.90,289.00 L295.40,288.99 L295.90,288.98 L296.40,288.97 L296.90,288.96 L297.40,288.95 L297.90,288.94 L298.40,288.93 L298.90,288.91 L299.40,288.90 L299.90,288.89 L300.40,288.88 L300.90,288.86 L301.40,288.85 L301.90,288.83 L302.40,288.82 L302.90,288.80 L303.40,288.79 L303.90,288.77 L304.40,288.75 L304.90,288.73 L305.40,288.71 L305.90,288.69 L306.40,288.67 L306.90,288.65 L307.40,288.63 L307.90,288.60 L308.40,288.58 L308.90,288.55 L309.40,288.53 L309.90,288.50 L310.40,288.47 L310.90,288.44 L311.40,288.41 L311.90,288.38 L312.40,288.34 L312.90,288.31 L313.40,288.27 L313.90,288.23 L314.40,288.19 L314.90,288.15 L315.40,288.10 L315.90,288.05 L316.40,288.00 L316.90,287.95 L317.40,287.90 L317.90,287.84 L318.40,287.78 L318.90,287.71 L319.40,287.65 L319.90,287.57 L320.40,287.50 L320.90,287.42 L321.40,287.33 L321.90,287.24 L322.40,287.14 L322.90,287.03 L323.40,286.92 L323.90,286.80 L324.40,286.67 L324.90,286.54 L325.40,286.39 L325.90,286.23 L326.40,286.07 L326.90,285.89 L327.40,285.69 L327.90,285.49 L328.40,285.27 L328.90,285.04 L329.40,284.79 L329.90,284.52 L330.40,284.24 L330.90,283.95 L331.40,283.63 L331.90,283.30 L332.40,282.95 L332.90,282.58 L333.40,282.20 L333.90,281.80 L334.40,281.38 L334.90,280.95 L335.40,280.51 L335.90,280.05 L336.40,279.58 L336.90,279.11 L337.40,278.63 L337.90,278.15 L338.40,277.67 L338.90,277.19 L339.40,276.72 L339.90,276.27 L340.40,275.83 L340.90,275.41 L341.40,275.03 L341.90,274.68 L342.40,274.36 L342.90,274.10 L343.40,273.88 L343.90,273.73 L344.40,273.64 L344.90,273.62 L345.40,273.68 L345.90,273.82 L346.40,274.05 L346.90,274.37 L347.40,274.78 L347.90,275.30 L348.40,275.91 L348.90,276.63 L349.40,277.44 L349.90,278.35 L350.40,279.36 L350.90,280.46 L351.40,281.64 L351.90,282.89 L352.40,284.21 L352.90,285.58 L353.40,286.99 L353.90,288.42 L354.40,289.88 L354.90,291.20 L355.40,292.52 L355.90,293.81 L356.40,295.06 L356.90,296.26 L357.40,297.40 L357.90,298.48 L358.40,299.48 L358.90,300.40 L359.40,301.24 L359.90,301.98 L360.40,302.64 L360.90,303.20 L361.40,303.67 L361.90,304.05 L362.40,304.34 L362.90,304.55 L363.40,304.68 L363.90,304.73 L364.40,304.72 L364.90,304.63 L365.40,304.49 L365.90,304.30 L366.40,304.05 L366.90,303.77 L367.40,303.45 L367.90,303.10 L368.40,302.72 L368.90,302.32 L369.40,301.90 L369.90,301.48 L370.40,301.04 L370.90,300.60 L371.40,300.16 L371.90,299.72 L372.40,299.29 L372.90,298.86 L373.40,298.45 L373.90,298.04 L374.40,297.65 L374.90,297.27 L375.40,296.90 L375.90,296.55 L376.40,296.22 L376.90,295.90 L377.40,295.59 L377.90,295.31 L378.40,295.04 L378.90,294.78 L379.40,294.54 L379.90,294.31 L380.40,294.10 L380.90,293.90 L381.40,293.71 L381.90,293.54 L382.40,293.37 L382.90,293.22 L383.40,293.08 L383.90,292.94 L384.40,292.82 L384.90,292.70 L385.40,292.59 L385.90,292.49 L386.40,292.39 L386.90,292.31 L387.40,292.22 L387.90,292.14 L388.40,292.07 L388.90,292.00 L389.40,291.93 L389.90,291.87 L390.40,291.81 L390.90,291.76 L391.40,291.70 L391.90,291.65 L392.40,291.61 L392.90,291.56 L393.40,291.52 L393.90,291.48 L394.40,291.44 L394.90,291.40 L395.40,291.37 L395.90,291.33 L396.40,291.30 L396.90,291.27 L397.40,291.24 L397.90,291.21 L398.40,291.18 L398.90,291.16 L399.40,291.13 L399.90,291.11 L400.40,291.09 L400.90,291.06 L401.40,291.04 L401.90,291.02 L402.40,291.00 L402.90,290.98 L403.40,290.97 L403.90,290.95 L404.40,290.93 L404.90,290.91 L405.40,290.90 L405.90,290.88 L406.40,290.87 L406.90,290.86 L407.40,290.84 L407.90,290.83 L408.40,290.82 L408.90,290.81 L409.40,290.80 L409.90,290.78 L410.40,290.77 L410.90,290.76 L411.40,290.76 L411.90,290.75 L412.40,290.74 L412.90,290.73 L413.40,290.72 L413.90,290.71 L414.40,290.71 L414.90,290.70 L415.40,290.69 L415.90,290.68 L416.40,290.68 L416.90,290.67 L417.40,290.67 L417.90,290.66 L418.40,290.66 L418.90,290.65 L419.40,290.65 L419.90,290.64 L420.40,290.64 L420.90,290.63 L421.40,290.63 L421.90,290.62 L422.40,290.62 L422.90,290.62 L423.40,290.61 L423.90,290.61 L424.40,290.61 L424.90,290.60 L425.40,290.60 L425.90,290.60 L426.40,290.60 L426.90,290.59 L427.40,290.59 L427.90,290.59 L428.40,290.59 L428.90,290.59 L429.40,290.59 L429.90,290.58 L430.40,290.58 L430.90,290.58 L431.40,290.58 L431.90,290.58 L432.40,290.58 L432.90,290.58 L433.40,290.58 L433.90,290.58 L434.40,290.57 L434.90,290.57 L435.40,290.57 L435.90,290.57 L436.40,290.57 L436.90,290.57 L437.40,290.57 L437.90,290.57 L438.40,290.57 L438.90,290.57" stroke="#dc3a64" stroke-width="1"/>
<path d="M244.90,288.79 L245.40,288.79 L245.90,288.78 L246.40,288.78 L246.90,288.78 L247.40,288.77 L247.90,288.77 L248.40,288.77 L248.90,288.76 L249.40,288.76 L249.90,288.76 L250.40,288.75 L250.90,288.75 L251.40,288.75 L251.90,288.74 L252.40,288.74 L252.90,288.73 L253.40,288.73 L253.90,288.73 L254.40,288.72 L254.90,288.72 L255.40,288.71 L255.90,288.71 L256.40,288.70 L256.90,288.70 L257.40,288.69 L257.90,288.68 L258.40,288.68 L258.90,288.67 L259.40,288.67 L259.90,288.66 L260.40,288.65 L260.90,288.65 L261.40,288.64 L261.90,288.63 L262.40,288.62 L262.90,288.62 L263.40,288.61 L263.90,288.60 L264.40,288.59 L264.90,288.58 L265.40,288.57 L265.90,288.56 L266.40,288.55 L266.90,288.54 L267.40,288.53 L267.90,288.52 L268.40,288.51 L268.90,288.50 L269.40,288.49 L269.90,288.48 L270.40,288.47 L270.90,288.46 L271.40,288.44 L271.90,288.43 L272.40,288.42 L272.90,288.40 L273.40,288.39 L273.90,288.38 L274.40,288.36 L274.90,288.35 L275.40,288.33 L275.90,288.31 L276.40,288.30 L276.90,288.28 L277.40,288.26 L277.90,288.24 L278.40,288.23 L278.90,288.21 L279.40,288.19 L279.90,288.17 L280.40,288.15 L280.90,288.12 L281.40,288.10 L281.90,288.08 L282.40,288.06 L282.90,288.03 L283.40,288.01 L283.90,287.98 L284.40,287.96 L284.90,287.93 L285.40,287.90 L285.90,287.87 L286.40,287.84 L286.90,287.81 L287.40,287.78 L287.90,287.75 L288.40,287.72 L288.90,287.68 L289.40,287.65 L289.90,287.61 L290.40,287.57 L290.90,287.53 L291.40,287.49 L291.90,287.45 L292.40,287.41 L292.90,287.37 L293.40,287.32 L293.90,287.28 L294.40,287.23 L294.90,287.18 L295.40,287.13 L295.90,287.08 L296.40,287.02 L296.90,286.96 L297.40,286.91 L297.90,286.85 L298.40,286.79 L298.90,286.72 L299.40,286.66 L299.90,286.59 L300.40,286.52 L300.90,286.45 L301.40,286.37 L301.90,286.29 L302.40,286.21 L302.90,286.13 L303.40,286.04 L303.90,285.95 L304.40,285.86 L304.90,285.77 L305.40,285.67 L305.90,285.57 L306.40,285.46 L306.90,285.35 L307.40,285.24 L307.90,285.12 L308.40,285.00 L308.90,284.87 L309.40,284.74 L309.90,284.60 L310.40,284.46 L310.90,284.31 L311.40,284.16 L311.90,284.00 L312.40,283.84 L312.90,283.67 L313.40,283.49 L313.90,283.30 L314.40,283.11 L314.90,282.90 L315.40,282.69 L315.90,282.47 L316.40,282.24 L316.90,282.00 L317.40,281.75 L317.90,281.49 L318.40,281.21 L318.90,280.92 L319.40,280.62 L319.90,280.30 L320.40,279.97 L320.90,279.61 L321.40,279.24 L321.90,278.85 L322.40,278.43 L322.90,277.99 L323.40,277.52 L323.90,277.03 L324.40,276.50 L324.90,275.95 L325.40,275.36 L325.90,274.73 L326.40,274.06 L326.90,273.36 L327.40,272.60 L327.90,271.80 L328.40,270.95 L328.90,270.05 L329.40,269.09 L329.90,268.07 L330.40,267.00 L330.90,265.86 L331.40,264.65 L331.90,263.39 L332.40,262.05 L332.90,260.65 L333.40,259.18 L333.90,257.65 L334.40,256.05 L334.90,254.39 L335.40,252.68 L335.90,250.90 L336.40,249.09 L336.90,247.23 L337.40,245.34 L337.90,243.43 L338.40,241.50 L338.90,239.58 L339.40,237.68 L339.90,235.81 L340.40,233.99 L340.90,232.24 L341.40,230.58 L341.90,229.04 L342.40,227.63 L342.90,226.39 L343.40,225.33 L343.90,224.49 L344.40,223.90 L344.90,223.57 L345.40,223.55 L345.90,223.84 L346.40,224.49 L346.90,225.51 L347.40,226.92 L347.90,228.75 L348.40,230.99 L348.90,233.67 L349.40,236.79 L349.90,240.33 L350.40,244.29 L350.90,248.65 L351.40,253.39 L351.90,258.47 L352.40,263.86 L352.90,269.50 L353.40,275.35 L353.90,281.35 L354.40,287.43 L354.90,293.48 L355.40,299.45 L355.90,305.33 L356.40,311.04 L356.90,316.55 L357.40,321.79 L357.90,326.72 L358.40,331.31 L358.90,335.52 L359.40,339.34 L359.90,342.74 L360.40,345.71 L360.90,348.26 L361.40,350.39 L361.90,352.10 L362.40,353.41 L362.90,354.34 L363.40,354.90 L363.90,355.13 L364.40,355.04 L364.90,354.67 L365.40,354.03 L365.90,353.16 L366.40,352.08 L366.90,350.83 L367.40,349.41 L367.90,347.87 L368.40,346.22 L368.90,344.49 L369.40,342.68 L369.90,340.84 L370.40,338.96 L370.90,337.07 L371.40,335.18 L371.90,333.31 L372.40,331.45 L372.90,329.63 L373.40,327.85 L373.90,326.12 L374.40,324.45 L374.90,322.83 L375.40,321.27 L375.90,319.77 L376.40,318.34 L376.90,316.98 L377.40,315.68 L377.90,314.44 L378.40,313.27 L378.90,312.17 L379.40,311.12 L379.90,310.13 L380.40,309.20 L380.90,308.32 L381.40,307.49 L381.90,306.72 L382.40,305.99 L382.90,305.30 L383.40,304.65 L383.90,304.04 L384.40,303.47 L384.90,302.93 L385.40,302.42 L385.90,301.94 L386.40,301.48 L386.90,301.06 L387.40,300.65 L387.90,300.27 L388.40,299.90 L388.90,299.56 L389.40,299.23 L389.90,298.92 L390.40,298.63 L390.90,298.35 L391.40,298.08 L391.90,297.82 L392.40,297.58 L392.90,297.34 L393.40,297.12 L393.90,296.90 L394.40,296.70 L394.90,296.50 L395.40,296.31 L395.90,296.13 L396.40,295.96 L396.90,295.79 L397.40,295.63 L397.90,295.47 L398.40,295.32 L398.90,295.18 L399.40,295.04 L399.90,294.91 L400.40,294.78 L400.90,294.66 L401.40,294.54 L401.90,294.42 L402.40,294.31 L402.90,294.21 L403.40,294.10 L403.90,294.00 L404.40,293.91 L404.90,293.81 L405.40,293.72 L405.90,293.64 L406.40,293.55 L406.90,293.47 L407.40,293.39 L407.90,293.32 L408.40,293.24 L408.90,293.17 L409.40,293.10 L409.90,293.04 L410.40,292.97 L410.90,292.91 L411.40,292.85 L411.90,292.79 L412.40,292.74 L412.90,292.68 L413.40,292.63 L413.90,292.58 L414.40,292.53 L414.90,292.48 L415.40,292.43 L415.90,292.39 L416.40,292.34 L416.90,292.30 L417.40,292.26 L417.90,292.22 L418.40,292.18 L418.90,292.14 L419.40,292.11 L419.90,292.07 L420.40,292.04 L420.90,292.00 L421.40,291.97 L421.90,291.94 L422.40,291.91 L422.90,291.88 L423.40,291.85 L423.90,291.82 L424.40,291.80 L424.90,291.77 L425.40,291.74 L425.90,291.72 L426.40,291.70 L426.90,291.67 L427.40,291.65 L427.90,291.63 L428.40,291.61 L428.90,291.58 L429.40,291.56 L429.90,291.54 L430.40,291.53 L430.90,291.51 L431.40,291.49 L431.90,291.47 L432.40,291.45 L432.90,291.44 L433.40,291.42 L433.90,291.40 L434.40,291.39 L434.90,291.37 L435.40,291.36 L435.90,291.35 L436.40,291.33 L436.90,291.32 L437.40,291.31 L437.90,291.29 L438.40,291.28 L438.90,291.27" stroke="#8e1d3d" stroke-width="1"/>
</g>
<rect x="244.4" y="197.3" width="195.20000000000002" height="163.89999999999998" fill="none" stroke="#444" stroke-width="1"/>
<line x1="244.40" y1="361.2" x2="244.40" y2="364.0" stroke="#444" stroke-width="1"/>
<line x1="276.93" y1="361.2" x2="276.93" y2="362.8" stroke="#444" stroke-width="1"/>
<line x1="309.47" y1="361.2" x2="309.47" y2="364.0" stroke="#444" stroke-width="1"/>
<line x1="342.00" y1="361.2" x2="342.00" y2="362.8" stroke="#444" stroke-width="1"/>
<line x1="374.53" y1="361.2" x2="374.53" y2="364.0" stroke="#444" stroke-width="1"/>
<line x1="407.07" y1="361.2" x2="407.07" y2="362.8" stroke="#444" stroke-width="1"/>
<line x1="439.60" y1="361.2" x2="439.60" y2="364.0" stroke="#444" stroke-width="1"/>
<text x="244.40" y="375.8" font-size="11.3" text-anchor="middle" fill="#1a1a1a">3320</text>
<text x="309.47" y="375.8" font-size="11.3" text-anchor="middle" fill="#1a1a1a">3340</text>
<text x="374.53" y="375.8" font-size="11.3" text-anchor="middle" fill="#1a1a1a">3360</text>
<text x="439.60" y="375.8" font-size="11.3" text-anchor="middle" fill="#1a1a1a">3380</text>
<text x="342.00" y="385.5" font-size="11" text-anchor="middle" fill="#1a1a1a">H (G)</text>
<text transform="translate(237.30,328.40) rotate(-90)" font-size="11.2" fill="#1a1a1a">Intensity (arb. units)</text>
<text x="231.0" y="213.5" font-size="22.5" fill="#000">e</text>
<line x1="271.2" y1="207.0" x2="289.5" y2="207.0" stroke="#d0607a" stroke-width="1" stroke-opacity="0.75"/>
<text x="293.2" y="209.80" font-size="8.2" fill="#1a1a1a"><tspan font-weight="bold">5</tspan>(OTf)<tspan font-size="5.41" dy="2.2">12</tspan><tspan dy="-2.2"> Light</tspan></text>
<line x1="348" y1="207.0" x2="366.3" y2="207.0" stroke="#ec8cb4" stroke-width="1" stroke-opacity="0.75"/>
<text x="368.3" y="209.80" font-size="8.2" fill="#1a1a1a"><tspan font-weight="bold">5</tspan>(OTf)<tspan font-size="5.41" dy="2.2">12</tspan><tspan dy="-2.2"> Dark</tspan></text>
<line x1="271.2" y1="218.5" x2="289.5" y2="218.5" stroke="#e08a9e" stroke-width="1" stroke-opacity="0.75"/>
<text x="293.2" y="221.30" font-size="8.2" fill="#1a1a1a"><tspan font-weight="bold">E5</tspan>(OTf)<tspan font-size="5.41" dy="2.2">2</tspan><tspan dy="-2.2"> Light</tspan></text>
<line x1="348" y1="218.5" x2="366.3" y2="218.5" stroke="#ddd0d2" stroke-width="1" stroke-opacity="0.75"/>
<text x="368.3" y="221.30" font-size="8.2" fill="#1a1a1a"><tspan font-weight="bold">E5</tspan>(OTf)<tspan font-size="5.41" dy="2.2">2</tspan><tspan dy="-2.2"> Dark</tspan></text>
<text x="438.1" y="287.8" font-size="7.9" text-anchor="end" fill="#d83262">6.64 times</text>
<clipPath id="clipf"><rect x="474.4" y="197.8" width="194.89999999999998" height="164.2"/></clipPath>
<g clip-path="url(#clipf)" fill="none" stroke-linejoin="round">
<path d="M474.90,282.40 L475.40,282.41 L475.90,282.42 L476.40,282.43 L476.90,282.44 L477.40,282.46 L477.90,282.47 L478.40,282.49 L478.90,282.51 L479.40,282.54 L479.90,282.56 L480.40,282.59 L480.90,282.61 L481.40,282.64 L481.90,282.67 L482.40,282.70 L482.90,282.73 L483.40,282.76 L483.90,282.79 L484.40,282.82 L484.90,282.85 L485.40,282.88 L485.90,282.91 L486.40,282.94 L486.90,282.97 L487.40,283.00 L487.90,283.03 L488.40,283.05 L488.90,283.08 L489.40,283.10 L489.90,283.12 L490.40,283.14 L490.90,283.17 L491.40,283.18 L491.90,283.20 L492.40,283.22 L492.90,283.24 L493.40,283.25 L493.90,283.27 L494.40,283.28 L494.90,283.29 L495.40,283.30 L495.90,283.31 L496.40,283.32 L496.90,283.33 L497.40,283.34 L497.90,283.34 L498.40,283.35 L498.90,283.36 L499.40,283.36 L499.90,283.37 L500.40,283.37 L500.90,283.37 L501.40,283.38 L501.90,283.38 L502.40,283.38 L502.90,283.38 L503.40,283.39 L503.90,283.39 L504.40,283.39 L504.90,283.39 L505.40,283.39 L505.90,283.39 L506.40,283.39 L506.90,283.39 L507.40,283.39 L507.90,283.39 L508.40,283.39 L508.90,283.40 L509.40,283.40 L509.90,283.40 L510.40,283.40 L510.90,283.40 L511.40,283.40 L511.90,283.40 L512.40,283.40 L512.90,283.40 L513.40,283.40 L513.90,283.40 L514.40,283.40 L514.90,283.40 L515.40,283.40 L515.90,283.40 L516.40,283.40 L516.90,283.40 L517.40,283.40 L517.90,283.40 L518.40,283.40 L518.90,283.40 L519.40,283.40 L519.90,283.40 L520.40,283.40 L520.90,283.40 L521.40,283.40 L521.90,283.40 L522.40,283.40 L522.90,283.40 L523.40,283.40 L523.90,283.40 L524.40,283.40 L524.90,283.40 L525.40,283.40 L525.90,283.40 L526.40,283.40 L526.90,283.40 L527.40,283.40 L527.90,283.40 L528.40,283.40 L528.90,283.39 L529.40,283.39 L529.90,283.39 L530.40,283.39 L530.90,283.39 L531.40,283.39 L531.90,283.39 L532.40,283.39 L532.90,283.39 L533.40,283.39 L533.90,283.39 L534.40,283.39 L534.90,283.39 L535.40,283.39 L535.90,283.39 L536.40,283.40 L536.90,283.40 L537.40,283.40 L537.90,283.40 L538.40,283.40 L538.90,283.40 L539.40,283.40 L539.90,283.40 L540.40,283.40 L540.90,283.40 L541.40,283.40 L541.90,283.40 L542.40,283.40 L542.90,283.40 L543.40,283.40 L543.90,283.40 L544.40,283.40 L544.90,283.40 L545.40,283.40 L545.90,283.40 L546.40,283.40 L546.90,283.40 L547.40,283.40 L547.90,283.40 L548.40,283.41 L548.90,283.41 L549.40,283.41 L549.90,283.41 L550.40,283.41 L550.90,283.41 L551.40,283.41 L551.90,283.42 L552.40,283.42 L552.90,283.42 L553.40,283.42 L553.90,283.43 L554.40,283.43 L554.90,283.43 L555.40,283.44 L555.90,283.44 L556.40,283.44 L556.90,283.45 L557.40,283.45 L557.90,283.46 L558.40,283.46 L558.90,283.47 L559.40,283.47 L559.90,283.48 L560.40,283.48 L560.90,283.49 L561.40,283.50 L561.90,283.51 L562.40,283.51 L562.90,283.52 L563.40,283.53 L563.90,283.54 L564.40,283.55 L564.90,283.56 L565.40,283.58 L565.90,283.59 L566.40,283.60 L566.90,283.62 L567.40,283.63 L567.90,283.65 L568.40,283.66 L568.90,283.68 L569.40,283.70 L569.90,283.72 L570.40,283.74 L570.90,283.76 L571.40,283.79 L571.90,283.81 L572.40,283.84 L572.90,283.87 L573.40,283.90 L573.90,283.94 L574.40,283.97 L574.90,284.01 L575.40,284.06 L575.90,284.10 L576.40,284.15 L576.90,284.21 L577.40,284.27 L577.90,284.33 L578.40,284.40 L578.90,284.48 L579.40,284.56 L579.90,284.64 L580.40,284.73 L580.90,284.83 L581.40,284.94 L581.90,285.05 L582.40,285.17 L582.90,285.30 L583.40,285.43 L583.90,285.58 L584.40,285.73 L584.90,285.88 L585.40,286.05 L585.90,286.22 L586.40,286.39 L586.90,286.58 L587.40,286.76 L587.90,286.96 L588.40,287.16 L588.90,287.36 L589.40,287.56 L589.90,287.77 L590.40,287.97 L590.90,288.18 L591.40,288.65 L591.90,289.18 L592.40,289.70 L592.90,290.21 L593.40,290.70 L593.90,291.18 L594.40,291.63 L594.90,292.05 L595.40,292.45 L595.90,292.82 L596.40,293.16 L596.90,293.47 L597.40,293.74 L597.90,293.98 L598.40,294.19 L598.90,294.37 L599.40,294.52 L599.90,294.64 L600.40,294.73 L600.90,294.80 L601.40,294.84 L601.90,294.86 L602.40,294.86 L602.90,294.84 L603.40,294.81 L603.90,294.76 L604.40,294.70 L604.90,294.63 L605.40,294.55 L605.90,294.46 L606.40,294.37 L606.90,294.28 L607.40,294.18 L607.90,294.09 L608.40,293.99 L608.90,293.89 L609.40,293.80 L609.90,293.71 L610.40,293.62 L610.90,293.54 L611.40,293.45 L611.90,293.38 L612.40,293.31 L612.90,293.24 L613.40,293.18 L613.90,293.12 L614.40,293.07 L614.90,293.02 L615.40,292.97 L615.90,292.93 L616.40,292.89 L616.90,292.86 L617.40,292.83 L617.90,292.80 L618.40,292.77 L618.90,292.75 L619.40,292.73 L619.90,292.71 L620.40,292.69 L620.90,292.68 L621.40,292.66 L621.90,292.65 L622.40,292.64 L622.90,292.63 L623.40,292.62 L623.90,292.61 L624.40,292.61 L624.90,292.60 L625.40,292.59 L625.90,292.59 L626.40,292.58 L626.90,292.57 L627.40,292.57 L627.90,292.56 L628.40,292.56 L628.90,292.56 L629.40,292.55 L629.90,292.55 L630.40,292.54 L630.90,292.54 L631.40,292.54 L631.90,292.53 L632.40,292.53 L632.90,292.53 L633.40,292.52 L633.90,292.52 L634.40,292.52 L634.90,292.52 L635.40,292.51 L635.90,292.51 L636.40,292.51 L636.90,292.51 L637.40,292.50 L637.90,292.50 L638.40,292.50 L638.90,292.50 L639.40,292.49 L639.90,292.49 L640.40,292.49 L640.90,292.49 L641.40,292.49 L641.90,292.48 L642.40,292.48 L642.90,292.48 L643.40,292.48 L643.90,292.48 L644.40,292.47 L644.90,292.47 L645.40,292.47 L645.90,292.47 L646.40,292.47 L646.90,292.47 L647.40,292.46 L647.90,292.46 L648.40,292.46 L648.90,292.46 L649.40,292.46 L649.90,292.46 L650.40,292.46 L650.90,292.46 L651.40,292.45 L651.90,292.45 L652.40,292.45 L652.90,292.45 L653.40,292.45 L653.90,292.45 L654.40,292.45 L654.90,292.45 L655.40,292.45 L655.90,292.45 L656.40,292.44 L656.90,292.44 L657.40,292.44 L657.90,292.44 L658.40,292.44 L658.90,292.44 L659.40,292.44 L659.90,292.44 L660.40,292.44 L660.90,292.44 L661.40,292.44 L661.90,292.44 L662.40,292.43 L662.90,292.43 L663.40,292.43 L663.90,292.43 L664.40,292.43 L664.90,292.43 L665.40,292.43 L665.90,292.43 L666.40,292.43 L666.90,292.43 L667.40,292.43 L667.90,292.43 L668.40,292.43" stroke="#f4f0a2" stroke-width="1"/>
<path d="M474.90,282.36 L475.40,282.36 L475.90,282.37 L476.40,282.38 L476.90,282.39 L477.40,282.41 L477.90,282.42 L478.40,282.44 L478.90,282.46 L479.40,282.48 L479.90,282.51 L480.40,282.53 L480.90,282.56 L481.40,282.59 L481.90,282.61 L482.40,282.64 L482.90,282.67 L483.40,282.70 L483.90,282.73 L484.40,282.76 L484.90,282.79 L485.40,282.82 L485.90,282.85 L486.40,282.88 L486.90,282.90 L487.40,282.93 L487.90,282.96 L488.40,282.98 L488.90,283.01 L489.40,283.03 L489.90,283.05 L490.40,283.07 L490.90,283.09 L491.40,283.11 L491.90,283.13 L492.40,283.14 L492.90,283.16 L493.40,283.17 L493.90,283.18 L494.40,283.20 L494.90,283.21 L495.40,283.22 L495.90,283.22 L496.40,283.23 L496.90,283.24 L497.40,283.25 L497.90,283.25 L498.40,283.26 L498.90,283.26 L499.40,283.26 L499.90,283.27 L500.40,283.27 L500.90,283.27 L501.40,283.27 L501.90,283.27 L502.40,283.27 L502.90,283.27 L503.40,283.27 L503.90,283.27 L504.40,283.27 L504.90,283.27 L505.40,283.27 L505.90,283.27 L506.40,283.27 L506.90,283.27 L507.40,283.26 L507.90,283.26 L508.40,283.26 L508.90,283.26 L509.40,283.26 L509.90,283.25 L510.40,283.25 L510.90,283.25 L511.40,283.25 L511.90,283.24 L512.40,283.24 L512.90,283.24 L513.40,283.23 L513.90,283.23 L514.40,283.23 L514.90,283.22 L515.40,283.22 L515.90,283.22 L516.40,283.21 L516.90,283.21 L517.40,283.21 L517.90,283.20 L518.40,283.20 L518.90,283.19 L519.40,283.19 L519.90,283.19 L520.40,283.18 L520.90,283.18 L521.40,283.17 L521.90,283.17 L522.40,283.16 L522.90,283.16 L523.40,283.15 L523.90,283.15 L524.40,283.14 L524.90,283.13 L525.40,283.13 L525.90,283.12 L526.40,283.11 L526.90,283.11 L527.40,283.10 L527.90,283.09 L528.40,283.09 L528.90,283.08 L529.40,283.07 L529.90,283.06 L530.40,283.06 L530.90,283.05 L531.40,283.04 L531.90,283.03 L532.40,283.02 L532.90,283.01 L533.40,283.00 L533.90,282.99 L534.40,282.98 L534.90,282.97 L535.40,282.96 L535.90,282.95 L536.40,282.94 L536.90,282.92 L537.40,282.91 L537.90,282.90 L538.40,282.88 L538.90,282.87 L539.40,282.85 L539.90,282.84 L540.40,282.82 L540.90,282.80 L541.40,282.78 L541.90,282.76 L542.40,282.74 L542.90,282.72 L543.40,282.70 L543.90,282.67 L544.40,282.64 L544.90,282.62 L545.40,282.59 L545.90,282.55 L546.40,282.52 L546.90,282.48 L547.40,282.44 L547.90,282.40 L548.40,282.35 L548.90,282.30 L549.40,282.25 L549.90,282.19 L550.40,282.13 L550.90,282.06 L551.40,281.98 L551.90,281.90 L552.40,281.81 L552.90,281.72 L553.40,281.61 L553.90,281.50 L554.40,281.38 L554.90,281.25 L555.40,281.11 L555.90,280.96 L556.40,280.80 L556.90,280.63 L557.40,280.45 L557.90,280.25 L558.40,280.04 L558.90,279.82 L559.40,279.59 L559.90,279.34 L560.40,279.08 L560.90,278.81 L561.40,278.52 L561.90,278.23 L562.40,277.92 L562.90,277.60 L563.40,277.28 L563.90,276.94 L564.40,276.60 L564.90,276.26 L565.40,275.91 L565.90,275.56 L566.40,275.21 L566.90,274.87 L567.40,274.53 L567.90,274.21 L568.40,273.90 L568.90,273.60 L569.40,273.32 L569.90,273.07 L570.40,272.85 L570.90,272.65 L571.40,272.49 L571.90,272.37 L572.40,272.29 L572.90,272.25 L573.40,272.27 L573.90,272.34 L574.40,272.46 L574.90,272.64 L575.40,272.88 L575.90,273.18 L576.40,273.55 L576.90,273.98 L577.40,274.48 L577.90,275.04 L578.40,275.66 L578.90,276.35 L579.40,277.10 L579.90,277.91 L580.40,278.77 L580.90,279.68 L581.40,280.63 L581.90,281.62 L582.40,282.65 L582.90,283.70 L583.40,284.78 L583.90,285.86 L584.40,287.38 L584.90,289.01 L585.40,290.62 L585.90,292.20 L586.40,293.74 L586.90,295.23 L587.40,296.67 L587.90,298.04 L588.40,299.34 L588.90,300.56 L589.40,301.69 L589.90,302.73 L590.40,303.68 L590.90,304.54 L591.40,305.30 L591.90,305.96 L592.40,306.52 L592.90,307.00 L593.40,307.38 L593.90,307.66 L594.40,307.87 L594.90,307.99 L595.40,308.03 L595.90,308.00 L596.40,307.91 L596.90,307.75 L597.40,307.53 L597.90,307.26 L598.40,306.95 L598.90,306.60 L599.40,306.21 L599.90,305.79 L600.40,305.35 L600.90,304.89 L601.40,304.42 L601.90,303.93 L602.40,303.44 L602.90,302.94 L603.40,302.45 L603.90,301.96 L604.40,301.48 L604.90,301.00 L605.40,300.54 L605.90,300.09 L606.40,299.66 L606.90,299.24 L607.40,298.84 L607.90,298.45 L608.40,298.09 L608.90,297.74 L609.40,297.41 L609.90,297.10 L610.40,296.81 L610.90,296.53 L611.40,296.28 L611.90,296.04 L612.40,295.81 L612.90,295.61 L613.40,295.41 L613.90,295.23 L614.40,295.07 L614.90,294.91 L615.40,294.77 L615.90,294.64 L616.40,294.52 L616.90,294.41 L617.40,294.31 L617.90,294.21 L618.40,294.13 L618.90,294.05 L619.40,293.97 L619.90,293.90 L620.40,293.84 L620.90,293.78 L621.40,293.73 L621.90,293.68 L622.40,293.63 L622.90,293.58 L623.40,293.54 L623.90,293.50 L624.40,293.47 L624.90,293.43 L625.40,293.40 L625.90,293.37 L626.40,293.34 L626.90,293.32 L627.40,293.29 L627.90,293.26 L628.40,293.24 L628.90,293.22 L629.40,293.20 L629.90,293.18 L630.40,293.15 L630.90,293.14 L631.40,293.12 L631.90,293.10 L632.40,293.08 L632.90,293.06 L633.40,293.05 L633.90,293.03 L634.40,293.02 L634.90,293.00 L635.40,292.99 L635.90,292.97 L636.40,292.96 L636.90,292.95 L637.40,292.93 L637.90,292.92 L638.40,292.91 L638.90,292.90 L639.40,292.89 L639.90,292.88 L640.40,292.87 L640.90,292.86 L641.40,292.85 L641.90,292.84 L642.40,292.83 L642.90,292.82 L643.40,292.81 L643.90,292.80 L644.40,292.79 L644.90,292.78 L645.40,292.77 L645.90,292.77 L646.40,292.76 L646.90,292.75 L647.40,292.74 L647.90,292.74 L648.40,292.73 L648.90,292.72 L649.40,292.72 L649.90,292.71 L650.40,292.70 L650.90,292.70 L651.40,292.69 L651.90,292.69 L652.40,292.68 L652.90,292.68 L653.40,292.67 L653.90,292.66 L654.40,292.66 L654.90,292.65 L655.40,292.65 L655.90,292.64 L656.40,292.64 L656.90,292.64 L657.40,292.63 L657.90,292.63 L658.40,292.62 L658.90,292.62 L659.40,292.61 L659.90,292.61 L660.40,292.61 L660.90,292.60 L661.40,292.60 L661.90,292.60 L662.40,292.59 L662.90,292.59 L663.40,292.59 L663.90,292.58 L664.40,292.58 L664.90,292.58 L665.40,292.57 L665.90,292.57 L666.40,292.57 L666.90,292.56 L667.40,292.56 L667.90,292.56 L668.40,292.56" stroke="#e6e043" stroke-width="1"/>
<path d="M474.90,282.34 L475.40,282.35 L475.90,282.35 L476.40,282.36 L476.90,282.38 L477.40,282.39 L477.90,282.41 L478.40,282.43 L478.90,282.45 L479.40,282.47 L479.90,282.49 L480.40,282.52 L480.90,282.54 L481.40,282.57 L481.90,282.60 L482.40,282.63 L482.90,282.65 L483.40,282.68 L483.90,282.71 L484.40,282.74 L484.90,282.77 L485.40,282.80 L485.90,282.83 L486.40,282.86 L486.90,282.88 L487.40,282.91 L487.90,282.94 L488.40,282.96 L488.90,282.99 L489.40,283.01 L489.90,283.03 L490.40,283.05 L490.90,283.07 L491.40,283.09 L491.90,283.10 L492.40,283.12 L492.90,283.13 L493.40,283.15 L493.90,283.16 L494.40,283.17 L494.90,283.18 L495.40,283.19 L495.90,283.20 L496.40,283.21 L496.90,283.21 L497.40,283.22 L497.90,283.22 L498.40,283.23 L498.90,283.23 L499.40,283.23 L499.90,283.24 L500.40,283.24 L500.90,283.24 L501.40,283.24 L501.90,283.24 L502.40,283.24 L502.90,283.24 L503.40,283.24 L503.90,283.24 L504.40,283.24 L504.90,283.24 L505.40,283.23 L505.90,283.23 L506.40,283.23 L506.90,283.23 L507.40,283.23 L507.90,283.22 L508.40,283.22 L508.90,283.22 L509.40,283.21 L509.90,283.21 L510.40,283.21 L510.90,283.21 L511.40,283.20 L511.90,283.20 L512.40,283.19 L512.90,283.19 L513.40,283.19 L513.90,283.18 L514.40,283.18 L514.90,283.17 L515.40,283.17 L515.90,283.16 L516.40,283.16 L516.90,283.15 L517.40,283.15 L517.90,283.14 L518.40,283.14 L518.90,283.13 L519.40,283.13 L519.90,283.12 L520.40,283.12 L520.90,283.11 L521.40,283.10 L521.90,283.10 L522.40,283.09 L522.90,283.08 L523.40,283.08 L523.90,283.07 L524.40,283.06 L524.90,283.06 L525.40,283.05 L525.90,283.04 L526.40,283.03 L526.90,283.02 L527.40,283.01 L527.90,283.01 L528.40,283.00 L528.90,282.99 L529.40,282.98 L529.90,282.97 L530.40,282.96 L530.90,282.95 L531.40,282.93 L531.90,282.92 L532.40,282.91 L532.90,282.90 L533.40,282.89 L533.90,282.87 L534.40,282.86 L534.90,282.85 L535.40,282.83 L535.90,282.82 L536.40,282.80 L536.90,282.79 L537.40,282.77 L537.90,282.75 L538.40,282.73 L538.90,282.71 L539.40,282.70 L539.90,282.67 L540.40,282.65 L540.90,282.63 L541.40,282.61 L541.90,282.58 L542.40,282.56 L542.90,282.53 L543.40,282.50 L543.90,282.47 L544.40,282.44 L544.90,282.41 L545.40,282.37 L545.90,282.33 L546.40,282.29 L546.90,282.25 L547.40,282.20 L547.90,282.15 L548.40,282.10 L548.90,282.04 L549.40,281.97 L549.90,281.90 L550.40,281.83 L550.90,281.75 L551.40,281.66 L551.90,281.57 L552.40,281.46 L552.90,281.35 L553.40,281.23 L553.90,281.10 L554.40,280.95 L554.90,280.80 L555.40,280.63 L555.90,280.45 L556.40,280.26 L556.90,280.05 L557.40,279.82 L557.90,279.58 L558.40,279.32 L558.90,279.04 L559.40,278.75 L559.90,278.43 L560.40,278.10 L560.90,277.75 L561.40,277.38 L561.90,276.99 L562.40,276.59 L562.90,276.16 L563.40,275.72 L563.90,275.27 L564.40,274.80 L564.90,274.32 L565.40,273.83 L565.90,273.34 L566.40,272.84 L566.90,272.34 L567.40,271.84 L567.90,271.35 L568.40,270.86 L568.90,270.40 L569.40,269.95 L569.90,269.52 L570.40,269.13 L570.90,268.77 L571.40,268.45 L571.90,268.18 L572.40,267.95 L572.90,267.79 L573.40,267.68 L573.90,267.64 L574.40,267.68 L574.90,267.79 L575.40,267.98 L575.90,268.25 L576.40,268.61 L576.90,269.07 L577.40,269.61 L577.90,270.25 L578.40,270.98 L578.90,271.80 L579.40,272.71 L579.90,273.71 L580.40,274.79 L580.90,275.95 L581.40,277.18 L581.90,278.48 L582.40,279.84 L582.90,281.24 L583.40,282.68 L583.90,284.16 L584.40,285.65 L584.90,287.50 L585.40,289.59 L585.90,291.66 L586.40,293.70 L586.90,295.68 L587.40,297.60 L587.90,299.44 L588.40,301.20 L588.90,302.85 L589.40,304.40 L589.90,305.84 L590.40,307.15 L590.90,308.35 L591.40,309.41 L591.90,310.34 L592.40,311.15 L592.90,311.83 L593.40,312.38 L593.90,312.81 L594.40,313.12 L594.90,313.31 L595.40,313.40 L595.90,313.39 L596.40,313.29 L596.90,313.09 L597.40,312.82 L597.90,312.47 L598.40,312.06 L598.90,311.60 L599.40,311.08 L599.90,310.52 L600.40,309.93 L600.90,309.30 L601.40,308.66 L601.90,308.00 L602.40,307.33 L602.90,306.66 L603.40,305.98 L603.90,305.32 L604.40,304.66 L604.90,304.01 L605.40,303.38 L605.90,302.76 L606.40,302.17 L606.90,301.60 L607.40,301.05 L607.90,300.52 L608.40,300.02 L608.90,299.55 L609.40,299.10 L609.90,298.67 L610.40,298.28 L610.90,297.90 L611.40,297.55 L611.90,297.23 L612.40,296.92 L612.90,296.64 L613.40,296.38 L613.90,296.14 L614.40,295.91 L614.90,295.71 L615.40,295.52 L615.90,295.34 L616.40,295.18 L616.90,295.03 L617.40,294.89 L617.90,294.76 L618.40,294.65 L618.90,294.54 L619.40,294.44 L619.90,294.35 L620.40,294.27 L620.90,294.19 L621.40,294.12 L621.90,294.05 L622.40,293.99 L622.90,293.93 L623.40,293.87 L623.90,293.82 L624.40,293.77 L624.90,293.73 L625.40,293.69 L625.90,293.65 L626.40,293.61 L626.90,293.57 L627.40,293.54 L627.90,293.51 L628.40,293.47 L628.90,293.44 L629.40,293.42 L629.90,293.39 L630.40,293.36 L630.90,293.34 L631.40,293.31 L631.90,293.29 L632.40,293.27 L632.90,293.24 L633.40,293.22 L633.90,293.20 L634.40,293.18 L634.90,293.16 L635.40,293.14 L635.90,293.13 L636.40,293.11 L636.90,293.09 L637.40,293.08 L637.90,293.06 L638.40,293.04 L638.90,293.03 L639.40,293.02 L639.90,293.00 L640.40,292.99 L640.90,292.97 L641.40,292.96 L641.90,292.95 L642.40,292.94 L642.90,292.92 L643.40,292.91 L643.90,292.90 L644.40,292.89 L644.90,292.88 L645.40,292.87 L645.90,292.86 L646.40,292.85 L646.90,292.84 L647.40,292.83 L647.90,292.82 L648.40,292.81 L648.90,292.80 L649.40,292.80 L649.90,292.79 L650.40,292.78 L650.90,292.77 L651.40,292.77 L651.90,292.76 L652.40,292.75 L652.90,292.74 L653.40,292.74 L653.90,292.73 L654.40,292.72 L654.90,292.72 L655.40,292.71 L655.90,292.71 L656.40,292.70 L656.90,292.69 L657.40,292.69 L657.90,292.68 L658.40,292.68 L658.90,292.67 L659.40,292.67 L659.90,292.66 L660.40,292.66 L660.90,292.65 L661.40,292.65 L661.90,292.64 L662.40,292.64 L662.90,292.64 L663.40,292.63 L663.90,292.63 L664.40,292.62 L664.90,292.62 L665.40,292.62 L665.90,292.61 L666.40,292.61 L666.90,292.60 L667.40,292.60 L667.90,292.60 L668.40,292.59" stroke="#a49c30" stroke-width="1"/>
<path d="M474.90,282.25 L475.40,282.25 L475.90,282.26 L476.40,282.27 L476.90,282.28 L477.40,282.29 L477.90,282.31 L478.40,282.32 L478.90,282.34 L479.40,282.36 L479.90,282.39 L480.40,282.41 L480.90,282.43 L481.40,282.46 L481.90,282.48 L482.40,282.51 L482.90,282.54 L483.40,282.56 L483.90,282.59 L484.40,282.62 L484.90,282.65 L485.40,282.67 L485.90,282.70 L486.40,282.72 L486.90,282.75 L487.40,282.77 L487.90,282.79 L488.40,282.81 L488.90,282.83 L489.40,282.84 L489.90,282.86 L490.40,282.87 L490.90,282.89 L491.40,282.90 L491.90,282.91 L492.40,282.91 L492.90,282.92 L493.40,282.92 L493.90,282.92 L494.40,282.92 L494.90,282.91 L495.40,282.91 L495.90,282.90 L496.40,282.89 L496.90,282.88 L497.40,282.86 L497.90,282.84 L498.40,282.82 L498.90,282.80 L499.40,282.78 L499.90,282.75 L500.40,282.72 L500.90,282.69 L501.40,282.66 L501.90,282.62 L502.40,282.59 L502.90,282.55 L503.40,282.51 L503.90,282.46 L504.40,282.42 L504.90,282.37 L505.40,282.32 L505.90,282.27 L506.40,282.22 L506.90,282.17 L507.40,282.12 L507.90,282.07 L508.40,282.01 L508.90,281.96 L509.40,281.91 L509.90,281.86 L510.40,281.80 L510.90,281.75 L511.40,281.70 L511.90,281.65 L512.40,281.61 L512.90,281.56 L513.40,281.52 L513.90,281.48 L514.40,281.44 L514.90,281.41 L515.40,281.38 L515.90,281.35 L516.40,281.32 L516.90,281.30 L517.40,281.28 L517.90,281.26 L518.40,281.25 L518.90,281.24 L519.40,281.24 L519.90,281.23 L520.40,281.23 L520.90,281.23 L521.40,281.24 L521.90,281.24 L522.40,281.25 L522.90,281.26 L523.40,281.27 L523.90,281.28 L524.40,281.29 L524.90,281.30 L525.40,281.31 L525.90,281.32 L526.40,281.32 L526.90,281.32 L527.40,281.31 L527.90,281.30 L528.40,281.29 L528.90,281.26 L529.40,281.23 L529.90,281.19 L530.40,281.14 L530.90,281.07 L531.40,281.00 L531.90,280.91 L532.40,280.81 L532.90,280.69 L533.40,280.56 L533.90,280.42 L534.40,280.26 L534.90,280.08 L535.40,279.89 L535.90,279.68 L536.40,279.46 L536.90,279.23 L537.40,278.99 L537.90,278.73 L538.40,278.47 L538.90,278.20 L539.40,277.92 L539.90,277.65 L540.40,277.37 L540.90,277.09 L541.40,276.82 L541.90,276.56 L542.40,276.31 L542.90,276.07 L543.40,275.84 L543.90,275.63 L544.40,275.43 L544.90,275.25 L545.40,275.09 L545.90,274.94 L546.40,274.81 L546.90,274.70 L547.40,274.60 L547.90,274.50 L548.40,274.42 L548.90,274.34 L549.40,274.25 L549.90,274.17 L550.40,274.07 L550.90,273.96 L551.40,273.83 L551.90,273.68 L552.40,273.49 L552.90,273.27 L553.40,273.00 L553.90,272.69 L554.40,272.33 L554.90,271.91 L555.40,271.43 L555.90,270.88 L556.40,270.26 L556.90,269.57 L557.40,268.80 L557.90,267.95 L558.40,267.02 L558.90,266.01 L559.40,264.91 L559.90,263.73 L560.40,262.47 L560.90,261.12 L561.40,259.70 L561.90,258.20 L562.40,256.64 L562.90,255.00 L563.40,253.31 L563.90,251.57 L564.40,249.79 L564.90,247.97 L565.40,246.13 L565.90,244.28 L566.40,242.44 L566.90,240.61 L567.40,238.81 L567.90,237.07 L568.40,235.38 L568.90,233.79 L569.40,232.29 L569.90,230.91 L570.40,229.67 L570.90,228.59 L571.40,227.68 L571.90,226.97 L572.40,226.47 L572.90,226.20 L573.40,226.17 L573.90,226.41 L574.40,226.91 L574.90,227.71 L575.40,228.79 L575.90,230.18 L576.40,231.88 L576.90,233.88 L577.40,236.19 L577.90,238.80 L578.40,241.70 L578.90,244.89 L579.40,248.35 L579.90,252.07 L580.40,256.01 L580.90,260.17 L581.40,264.51 L581.90,269.01 L582.40,273.63 L582.90,278.35 L583.40,283.12 L583.90,288.23 L584.40,293.79 L584.90,299.30 L585.40,304.71 L585.90,310.00 L586.40,315.12 L586.90,320.04 L587.40,324.72 L587.90,329.15 L588.40,333.29 L588.90,337.13 L589.40,340.64 L589.90,343.82 L590.40,346.65 L590.90,349.13 L591.40,351.26 L591.90,353.03 L592.40,354.45 L592.90,355.53 L593.40,356.27 L593.90,356.70 L594.40,356.82 L594.90,356.65 L595.40,356.20 L595.90,355.51 L596.40,354.58 L596.90,353.44 L597.40,352.11 L597.90,350.61 L598.40,348.97 L598.90,347.20 L599.40,345.33 L599.90,343.37 L600.40,341.34 L600.90,339.27 L601.40,337.17 L601.90,335.05 L602.40,332.94 L602.90,330.84 L603.40,328.77 L603.90,326.73 L604.40,324.75 L604.90,322.82 L605.40,320.95 L605.90,319.15 L606.40,317.42 L606.90,315.77 L607.40,314.20 L607.90,312.70 L608.40,311.29 L608.90,309.96 L609.40,308.72 L609.90,307.55 L610.40,306.45 L610.90,305.44 L611.40,304.49 L611.90,303.62 L612.40,302.81 L612.90,302.06 L613.40,301.37 L613.90,300.74 L614.40,300.16 L614.90,299.63 L615.40,299.14 L615.90,298.70 L616.40,298.29 L616.90,297.92 L617.40,297.59 L617.90,297.28 L618.40,297.00 L618.90,296.74 L619.40,296.51 L619.90,296.30 L620.40,296.10 L620.90,295.93 L621.40,295.76 L621.90,295.61 L622.40,295.48 L622.90,295.35 L623.40,295.23 L623.90,295.12 L624.40,295.02 L624.90,294.93 L625.40,294.84 L625.90,294.76 L626.40,294.68 L626.90,294.61 L627.40,294.54 L627.90,294.48 L628.40,294.42 L628.90,294.36 L629.40,294.30 L629.90,294.25 L630.40,294.20 L630.90,294.15 L631.40,294.10 L631.90,294.06 L632.40,294.02 L632.90,293.97 L633.40,293.93 L633.90,293.90 L634.40,293.86 L634.90,293.82 L635.40,293.79 L635.90,293.75 L636.40,293.72 L636.90,293.69 L637.40,293.66 L637.90,293.63 L638.40,293.60 L638.90,293.57 L639.40,293.55 L639.90,293.52 L640.40,293.49 L640.90,293.47 L641.40,293.45 L641.90,293.42 L642.40,293.40 L642.90,293.38 L643.40,293.36 L643.90,293.34 L644.40,293.32 L644.90,293.30 L645.40,293.28 L645.90,293.26 L646.40,293.24 L646.90,293.22 L647.40,293.20 L647.90,293.19 L648.40,293.17 L648.90,293.16 L649.40,293.14 L649.90,293.13 L650.40,293.11 L650.90,293.10 L651.40,293.08 L651.90,293.07 L652.40,293.06 L652.90,293.04 L653.40,293.03 L653.90,293.02 L654.40,293.01 L654.90,292.99 L655.40,292.98 L655.90,292.97 L656.40,292.96 L656.90,292.95 L657.40,292.94 L657.90,292.93 L658.40,292.92 L658.90,292.91 L659.40,292.90 L659.90,292.89 L660.40,292.88 L660.90,292.88 L661.40,292.87 L661.90,292.86 L662.40,292.85 L662.90,292.84 L663.40,292.83 L663.90,292.83 L664.40,292.82 L664.90,292.81 L665.40,292.81 L665.90,292.80 L666.40,292.79 L666.90,292.79 L667.40,292.78 L667.90,292.77 L668.40,292.77" stroke="#6f6a1c" stroke-width="1"/>
</g>
<rect x="474.4" y="197.8" width="194.89999999999998" height="164.2" fill="none" stroke="#444" stroke-width="1"/>
<line x1="474.40" y1="362.0" x2="474.40" y2="364.8" stroke="#444" stroke-width="1"/>
<line x1="506.88" y1="362.0" x2="506.88" y2="363.6" stroke="#444" stroke-width="1"/>
<line x1="539.37" y1="362.0" x2="539.37" y2="364.8" stroke="#444" stroke-width="1"/>
<line x1="571.85" y1="362.0" x2="571.85" y2="363.6" stroke="#444" stroke-width="1"/>
<line x1="604.33" y1="362.0" x2="604.33" y2="364.8" stroke="#444" stroke-width="1"/>
<line x1="636.82" y1="362.0" x2="636.82" y2="363.6" stroke="#444" stroke-width="1"/>
<line x1="669.30" y1="362.0" x2="669.30" y2="364.8" stroke="#444" stroke-width="1"/>
<text x="474.40" y="376.6" font-size="11.3" text-anchor="middle" fill="#1a1a1a">3320</text>
<text x="539.37" y="376.6" font-size="11.3" text-anchor="middle" fill="#1a1a1a">3340</text>
<text x="604.33" y="376.6" font-size="11.3" text-anchor="middle" fill="#1a1a1a">3360</text>
<text x="669.30" y="376.6" font-size="11.3" text-anchor="middle" fill="#1a1a1a">3380</text>
<text x="571.85" y="386.3" font-size="11" text-anchor="middle" fill="#1a1a1a">H (G)</text>
<text transform="translate(467.60,328.40) rotate(-90)" font-size="11.2" fill="#1a1a1a">Intensity (arb. units)</text>
<text x="456.8" y="213.5" font-size="22.5" fill="#000">f</text>
<line x1="501" y1="207.0" x2="518.5" y2="207.0" stroke="#aea640" stroke-width="1" stroke-opacity="0.75"/>
<text x="521.3" y="209.80" font-size="8.2" fill="#1a1a1a"><tspan font-weight="bold">6</tspan>(OTf)<tspan font-size="5.41" dy="2.2">8</tspan><tspan dy="-2.2"> Light</tspan></text>
<line x1="576.4" y1="207.0" x2="593.8" y2="207.0" stroke="#a89c30" stroke-width="1" stroke-opacity="0.75"/>
<text x="596.3" y="209.80" font-size="8.2" fill="#1a1a1a"><tspan font-weight="bold">6</tspan>(OTf)<tspan font-size="5.41" dy="2.2">8</tspan><tspan dy="-2.2"> Dark</tspan></text>
<line x1="501" y1="218.5" x2="518.5" y2="218.5" stroke="#e6e043" stroke-width="1" stroke-opacity="0.75"/>
<text x="521.3" y="221.30" font-size="8.2" fill="#1a1a1a"><tspan font-weight="bold">E6</tspan>(OTf)<tspan font-size="5.41" dy="2.2">2</tspan><tspan dy="-2.2"> Light</tspan></text>
<line x1="576.4" y1="218.5" x2="593.8" y2="218.5" stroke="#eef6b0" stroke-width="1" stroke-opacity="0.75"/>
<text x="596.3" y="221.30" font-size="8.2" fill="#1a1a1a"><tspan font-weight="bold">E6</tspan>(OTf)<tspan font-size="5.41" dy="2.2">2</tspan><tspan dy="-2.2"> Dark</tspan></text>
<text x="668.8" y="289.9" font-size="7.9" text-anchor="end" fill="#b9a94e">3.67 times</text>
</svg>
</body></html>
